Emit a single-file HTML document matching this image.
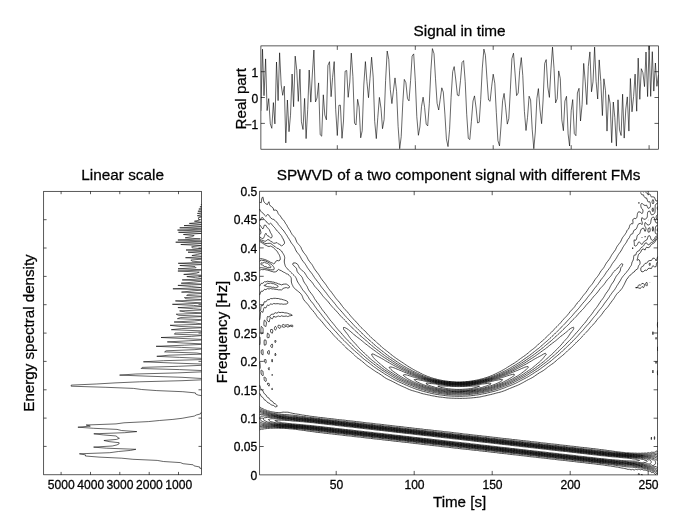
<!DOCTYPE html>
<html><head><meta charset="utf-8"><title>SPWVD of a two component signal with different FMs</title>
<style>
html,body{margin:0;padding:0;background:#fff}
body{width:685px;height:521px;position:relative;overflow:hidden;font-family:"Liberation Sans",sans-serif}
svg{display:block}
svg text{font-family:"Liberation Sans",sans-serif}
</style></head><body>
<svg width="685" height="521" viewBox="0 0 685 521" style="position:absolute;left:0;top:0">
<clipPath id="ct"><rect x="260.9" y="45.9" width="397.6" height="103.3"/></clipPath>
<polyline clip-path="url(#ct)" fill="none" stroke="#000" stroke-width="0.6" stroke-linejoin="round" points="260.9,110.8 262.5,49.2 264,95.7 265.6,58.9 267.1,110.6 268.7,98.6 270.3,123.9 271.8,128.3 273.4,102.6 274.9,123.9 276.5,62 278.1,100.6 279.6,52.8 281.2,85 282.7,95.3 284.3,86.2 285.8,142.9 287.4,100 289,131.7 290.5,115.2 292.1,74 293.6,106.7 295.2,56.1 296.8,70.5 298.3,101.4 299.9,69.2 301.4,121.8 303,129.5 304.6,98.4 306.1,138.6 307.7,109.5 309.2,70 310.8,102.1 312.4,73 313.9,50 315.5,101.9 317,98 318.6,82.9 320.2,134.8 321.7,136.2 323.3,94.8 324.8,115 326.4,119.8 327.9,65.5 329.5,61.7 331.1,96.7 332.6,77.4 334.2,61.6 335.7,109.7 337.3,135.5 338.9,105.3 340.4,105.2 342,138.3 343.5,121 345.1,71.2 346.7,70.5 348.2,97.3 349.8,82 351.3,53.1 352.9,76.5 354.5,123.1 356,125 357.6,99.3 359.1,107.1 360.7,137.8 362.2,130.7 363.8,85.1 365.4,61.6 366.9,81.4 368.5,97.7 370,78.3 371.6,57.2 373.2,77.1 374.7,121.3 376.3,138.6 377.8,117.4 379.4,97.4 381,108.3 382.5,128.7 384.1,119.6 385.6,80.5 387.2,51 388.8,59.6 390.3,89.6 391.9,103.6 393.4,91 395,77.9 396.6,91.6 398.1,126.3 399.7,148.7 401.2,136.7 402.8,102.9 404.3,79.4 405.9,82.7 407.5,98.7 409,100.9 410.6,80.5 412.1,56.1 413.7,53.9 415.3,80.6 416.8,116.7 418.4,135.3 419.9,127 421.5,106.6 423.1,97.2 424.6,107.4 426.2,124.2 427.7,125.9 429.3,103.7 430.9,70.1 432.4,48.6 434,53.7 435.5,78.8 437.1,103.3 438.7,110 440.2,99.4 441.8,87.8 443.3,92.1 444.9,114.1 446.4,138.9 448,146.6 449.6,129.3 451.1,97.3 452.7,71.6 454.2,66.6 455.8,80 457.4,95.1 458.9,95.9 460.5,80.4 462,62.6 463.6,60.6 465.2,81.4 466.7,114.2 468.3,138.4 469.8,139.6 471.4,121.3 473,101 474.5,95.9 476.1,108 477.6,123 479.2,122.3 480.7,99.7 482.3,68.1 483.9,49.1 485.4,55.2 487,79.2 488.5,100 490.1,101.3 491.7,86.2 493.2,74.2 494.8,83.3 496.3,112.3 497.9,140.5 499.5,145.9 501,126.1 502.6,100.8 504.1,93.4 505.7,107.8 507.3,124.1 508.8,118.7 510.4,89.1 511.9,58.7 513.5,53.2 515.1,74 516.6,95.6 518.2,93 519.7,70.5 521.3,57.6 522.8,75.7 524.4,111.4 526,130.5 527.5,117.6 529.1,96.2 530.6,99.9 532.2,129.2 533.8,148.7 535.3,132 536.9,98.3 538.4,88.6 540,109.9 541.6,123.7 543.1,100 544.7,63.4 546.2,59.6 547.8,87 549.4,97.4 550.9,69.9 552.5,47.1 554,68.2 555.6,102.9 557.2,98.7 558.7,70.9 560.3,78.6 561.8,119.8 563.4,130.7 564.9,101.1 566.5,96.3 568.1,133.9 569.6,146 571.2,110.7 572.7,99.6 574.3,133.5 575.9,135.7 577.4,93 579,88.3 580.5,121 582.1,104.7 583.7,63.4 585.2,81.1 586.8,104.6 588.3,66.6 589.9,51.9 591.5,91.8 593,81.9 594.6,47.1 596.1,81.3 597.7,99 599.2,59.9 600.8,81.4 602.4,115.6 603.9,78.8 605.5,90.7 607,131.1 608.6,94.7 610.2,104 611.7,142.7 613.3,102 614.8,117.5 616.4,146.1 618,99.8 619.5,129.9 621.1,135.5 622.6,94.2 624.2,138.1 625.8,109 627.3,96.9 628.9,131.1 630.4,78.5 632,111.8 633.6,96.5 635.1,74.1 636.7,111.2 638.2,58.1 639.8,99.3 641.3,68.7 642.9,72.7 644.5,86.6 646,52 647.6,96.6 649.1,45.9 650.7,96.4 652.3,51.7 653.8,91.1 655.4,63 656.9,86.3 658.5,74.8"/>
<path d="M337.3 149.2V145.2 M337.3 45.9V49.9 M415.3 149.2V145.2 M415.3 45.9V49.9 M493.2 149.2V145.2 M493.2 45.9V49.9 M571.2 149.2V145.2 M571.2 45.9V49.9 M649.1 149.2V145.2 M649.1 45.9V49.9 M260.9 123.4H264.9 M658.5 123.4H654.5 M260.9 97.5H264.9 M658.5 97.5H654.5 M260.9 71.7H264.9 M658.5 71.7H654.5" stroke="#000" stroke-width="0.65" fill="none"/>
<rect x="260.9" y="45.9" width="397.6" height="103.3" fill="none" stroke="#000" stroke-width="0.65"/>
<g fill="none" stroke="#000" stroke-linejoin="round">
<path stroke-width="0.7" d="M639.8 474.9 639.4 473.8 638.9 473.3 638.3 473.8 638.3 474.9M642.7 474.9 642 474.3 641 474.9M657.3 474.9 657.6 474.9M657.6 451.7 657.4 451.6 656 450.9 655.3 451.6 654.5 452.3 652.9 452.3 651.4 452.2 650.4 452.7 649.8 453 648.7 452.7 648.2 452.6 647.9 452.7 646.7 453.2 645.1 453 643.6 453.2 642 453.1 640.4 453.3 638.9 453.2 637.3 453.3 635.8 453.1 634.2 453.2 632.6 453 631.1 453.1 629.5 452.9 628 452.8 626.4 452.8 625.5 452.7 624.8 452.6 623.3 452.4 621.7 452.3 620.2 452.1 618.6 451.9 617 451.8 615.8 451.6 615.5 451.6 613.9 451.3 612.3 451.1 610.8 450.8 609.2 450.7 607.8 450.5 607.7 450.5 606.1 450.2 604.5 450 603 449.8 601.4 449.6 599.9 449.5 599.4 449.4 598.3 449.2 596.7 449 595.2 448.8 593.6 448.6 592.1 448.5 590.5 448.3 590 448.3 588.9 448.1 587.4 447.9 585.8 447.7 584.3 447.6 582.7 447.4 581.1 447.3 580.3 447.2 579.6 447.1 578 446.9 576.5 446.7 574.9 446.5 573.3 446.3 571.8 446.2 570.5 446.1 570.2 446 568.7 445.8 567.1 445.6 565.5 445.4 564 445.3 562.4 445.1 560.9 445 560.8 445 559.3 444.7 557.7 444.5 556.2 444.3 554.6 444.2 553.1 444 551.5 443.9 551.1 443.9 549.9 443.7 548.4 443.5 546.8 443.3 545.3 443.1 543.7 443 542.1 442.8 541.4 442.8 540.6 442.6 539 442.4 537.4 442.2 535.9 442 534.3 441.9 532.8 441.7 531.7 441.7 531.2 441.6 529.6 441.3 528.1 441.1 526.5 441 525 440.8 523.4 440.7 522 440.5 521.8 440.5 520.3 440.3 518.7 440.1 517.2 439.9 515.6 439.7 514 439.6 512.5 439.5 512.3 439.4 510.9 439.2 509.4 439 507.8 438.8 506.2 438.7 504.7 438.5 503.1 438.4 502.5 438.3 501.6 438.2 500 438 498.4 437.8 496.9 437.6 495.3 437.4 493.8 437.3 492.9 437.2 492.2 437.1 490.6 436.9 489.1 436.7 487.5 436.5 486 436.3 484.4 436.2 483.2 436.1 482.8 436.1 481.3 435.8 479.7 435.6 478.2 435.5 476.6 435.3 475 435.2 473.5 435 473 435 471.9 434.8 470.4 434.6 468.8 434.4 467.2 434.2 465.7 434.1 464.1 434 463.5 433.9 462.6 433.7 461 433.5 459.4 433.3 457.9 433.1 456.3 433 454.7 432.8 454.2 432.8 453.2 432.6 451.6 432.4 450.1 432.2 448.5 432 446.9 431.9 445.4 431.7 444.6 431.7 443.8 431.6 442.3 431.3 440.7 431.1 439.1 431 437.6 430.8 436 430.7 434.7 430.6 434.5 430.5 432.9 430.3 431.3 430.1 429.8 429.9 428.2 429.8 426.7 429.6 425.1 429.5 424.8 429.5 423.5 429.3 422 429 420.4 428.9 418.9 428.7 417.3 428.5 415.7 428.4 415.1 428.4 414.2 428.2 412.6 428 411.1 427.8 409.5 427.6 407.9 427.5 406.4 427.3 405.4 427.2 404.8 427.2 403.3 426.9 401.7 426.7 400.1 426.5 398.6 426.4 397 426.3 395.7 426.1 395.5 426.1 393.9 425.9 392.3 425.7 390.8 425.5 389.2 425.3 387.7 425.2 386.1 425 386 425 384.5 424.8 383 424.6 381.4 424.4 379.9 424.2 378.3 424.1 376.7 424 376.3 423.9 375.2 423.8 373.6 423.5 372 423.3 370.5 423.2 368.9 423 367.4 422.9 366.6 422.8 365.8 422.7 364.2 422.5 362.7 422.3 361.1 422.1 359.6 421.9 358 421.8 356.8 421.7 356.4 421.6 354.9 421.4 353.3 421.2 351.8 421 350.2 420.9 348.6 420.7 347.1 420.6 347.1 420.6 345.5 420.3 344 420.1 342.4 420 340.8 419.8 339.3 419.7 337.7 419.5 337.4 419.5 336.2 419.3 334.6 419.1 333 418.9 331.5 418.7 329.9 418.6 328.4 418.4 327.7 418.4 326.8 418.2 325.2 418 323.7 417.8 322.1 417.6 320.6 417.5 319 417.3 318.3 417.3 317.4 417.1 315.9 416.9 314.3 416.7 312.8 416.5 311.2 416.3 309.9 416.2 309.6 416.1 308.1 415.8 306.5 415.6 305 415.4 303.4 415.1 302.7 415.1 301.8 414.9 300.3 414.6 298.7 414.3 297.1 414.1 296.1 413.9 295.6 413.9 294 413.6 292.5 413.3 290.9 412.9 290.5 412.8 289.3 412.5 287.8 412.2 286.2 412.2 284.7 412.2 283.1 412.1 281.5 412.4 280 412.8 278.4 412.6 276.9 412.5 275.3 412.4 273.7 412.1 272.2 411.9 271.1 411.7 270.6 411.6 269.1 411.1 267.5 410.8 267.1 410.6 265.9 410 264.4 409.7 264.1 409.5 262.8 408.6 262.1 408.4 261.3 408.1 260.3 407.3 259.7 406.8M651.3 439.4 651.4 439.6 651.4 439.4 651.5 438.3 651.4 437.2 651.2 438.3 651.3 439.4ZM654.4 439.4 654.5 439.5 654.5 439.4 654.7 438.3 654.7 437.2 654.5 436.6 654.3 437.2 654.3 438.3 654.4 439.4ZM259.7 429.9 260.6 429.5 261.3 429.2 262.8 429.2 264.4 428.8 265.9 428.7 267.5 428.4 269.1 428.5 269.6 428.4 270.6 428.2 272.2 428.3 273.7 428.2 275.3 428.2 276.9 428.2 278.4 428.2 280 428.3 281.5 428.3 283.1 428.3 283.7 428.4 284.7 428.4 286.2 428.5 287.8 428.6 289.3 428.8 290.9 428.9 292.5 429 294 429.2 295.6 429.3 297 429.5 297.1 429.5 298.7 429.8 300.3 430 301.8 430.2 303.4 430.4 305 430.6 305.1 430.6 306.5 430.9 308.1 431.1 309.6 431.3 311.2 431.5 312.8 431.7 312.9 431.7 314.3 431.9 315.9 432.2 317.4 432.4 319 432.5 320.6 432.7 321.9 432.8 322.1 432.8 323.7 433.1 325.2 433.3 326.8 433.4 328.4 433.6 329.9 433.8 331.5 433.9 331.6 433.9 333 434.1 334.6 434.3 336.2 434.5 337.7 434.7 339.3 434.8 340.8 435 341.3 435 342.4 435.2 344 435.4 345.5 435.6 347.1 435.8 348.6 435.9 350.2 436 351 436.1 351.8 436.2 353.3 436.5 354.9 436.7 356.4 436.8 358 437 359.6 437.1 360.7 437.2 361.1 437.3 362.7 437.5 364.2 437.7 365.8 437.9 367.4 438.1 368.9 438.2 370.5 438.3 370.5 438.3 372 438.6 373.6 438.8 375.2 439 376.7 439.1 378.3 439.3 379.9 439.4 380.2 439.4 381.4 439.6 383 439.9 384.5 440 386.1 440.2 387.7 440.4 389.2 440.5 389.9 440.5 390.8 440.7 392.3 440.9 393.9 441.1 395.5 441.3 397 441.4 398.6 441.6 399.6 441.7 400.1 441.7 401.7 442 403.3 442.2 404.8 442.3 406.4 442.5 407.9 442.6 409.3 442.8 409.5 442.8 411.1 443 412.6 443.2 414.2 443.4 415.7 443.6 417.3 443.7 418.9 443.9 419 443.9 420.4 444.1 422 444.3 423.5 444.5 425.1 444.7 426.7 444.8 428.2 444.9 428.6 445 429.8 445.2 431.3 445.4 432.9 445.6 434.5 445.7 436 445.9 437.6 446 438.2 446.1 439.1 446.2 440.7 446.5 442.3 446.7 443.8 446.8 445.4 447 446.9 447.1 447.9 447.2 448.5 447.3 450.1 447.5 451.6 447.7 453.2 447.9 454.7 448.1 456.3 448.2 457.4 448.3 457.9 448.4 459.4 448.6 461 448.8 462.6 449 464.1 449.1 465.7 449.3 467.2 449.4 467.3 449.4 468.8 449.6 470.4 449.8 471.9 450 473.5 450.2 475 450.3 476.6 450.4 477.5 450.5 478.2 450.6 479.7 450.9 481.3 451 482.8 451.2 484.4 451.4 486 451.5 487.1 451.6 487.5 451.7 489.1 451.9 490.6 452.1 492.2 452.3 493.8 452.5 495.3 452.6 496.7 452.7 496.9 452.8 498.4 453 500 453.2 501.6 453.4 503.1 453.5 504.7 453.7 506.2 453.8 506.5 453.8 507.8 454.1 509.4 454.3 510.9 454.5 512.5 454.6 514 454.8 515.6 454.9 516.2 455 517.2 455.1 518.7 455.3 520.3 455.5 521.8 455.7 523.4 455.8 525 456 525.9 456.1 526.5 456.2 528.1 456.4 529.6 456.6 531.2 456.8 532.8 456.9 534.3 457.1 535.6 457.2 535.9 457.2 537.4 457.5 539 457.7 540.6 457.8 542.1 458 543.7 458.1 545.3 458.3 545.3 458.3 546.8 458.5 548.4 458.7 549.9 458.9 551.5 459.1 553.1 459.2 554.6 459.3 555 459.4 556.2 459.6 557.7 459.8 559.3 460 560.9 460.1 562.4 460.3 564 460.4 564.7 460.5 565.5 460.6 567.1 460.8 568.7 461 570.2 461.2 571.8 461.4 573.3 461.5 574.4 461.6 574.9 461.7 576.5 461.9 578 462.1 579.6 462.3 581.1 462.4 582.7 462.6 584.2 462.7 584.3 462.7 585.8 463 587.4 463.2 588.9 463.4 590.5 463.5 592.1 463.7 593.6 463.8 593.8 463.8 595.2 464 596.7 464.3 598.3 464.5 599.9 464.6 601.4 464.8 602.9 464.9 603 464.9 604.5 465.2 606.1 465.5 607.7 465.7 609.2 465.9 610.7 466 610.8 466 612.3 466.4 613.9 466.6 615.5 466.9 617 467.1 617.5 467.1 618.6 467.4 620.2 467.7 621.7 468 623.3 468.2 623.5 468.3 624.8 468.5 626.4 468.9 627.9 469.4 628 469.4 628.3 469.4 629.5 469.3 629.9 469.4 631.1 469.9 632.5 469.4 632.6 469.3 632.7 469.4 634.2 470.1 635.2 469.4 635.8 469.2 636.4 469.4 637.3 469.8 637.9 469.4 638.9 469.1 639.6 469.4 640.4 469.8 641.7 469.4 642 469.3 642.1 469.4 643.6 470.1 645.1 470 646.6 470.5 646.7 470.5 648.2 471 649.8 471 650.4 471.6 651.4 472.5 652.9 472.3 653.7 472.7 654.5 473.3 654.9 473.8 655.8 474.9M259.7 393.4 260.1 394 260.6 395.1 261.1 396.2 261.3 396.5 262.6 397.3 262.8 397.4 263.5 398.4 264.2 399.5 264.4 399.9 265.9 400.5 266.1 400.7 267 401.8 267.5 402.5 268.5 402.9 269.1 403 270.2 404 270.6 404.4 271.9 405.1 272.2 405.2 273.7 405.5 274.4 406.2 275.3 406.9 276.9 406.5 277.3 406.2 276.9 405.5 276.7 405.1 275.5 404 275.3 403.9 273.7 403.2 273.6 402.9 272.8 401.8 272.2 401.1 270.9 400.7 270.6 400.5 269.9 399.5 269.2 398.4 269.1 398.2 267.5 397.4 267.4 397.3 266.6 396.2 266.1 395.1 265.9 394.9 264.7 394 264.4 393.8 263.8 392.9 263.3 391.8 262.8 390.7 262.8 390.7 261.4 389.6 261.3 389.5 260.7 388.5 260.3 387.4 260 386.2 259.7 385.3M271.9 389.6 272.2 389.9 272.4 389.6 272.3 388.5 272.2 388.2 271.8 388.5 271.9 389.6ZM269.1 386.2 269.1 386.2 269.1 386.2 269.4 385.1 269.2 384 269.1 383.4 267.5 383.2 267.4 384 267.5 384.6 267.9 385.1 269.1 386.2ZM264.7 380.7 265.9 381.5 266.3 380.7 266.2 379.6 266.1 378.5 265.9 378 265 377.4 264.4 377 264.1 377.4 264.1 378.5 264.2 379.6 264.4 380.5 264.7 380.7ZM262.1 375.2 262.8 375.9 263.2 375.2 263.2 374.1 263.1 372.9 263 371.8 262.8 371 262.3 370.7 261.3 370.1 261 370.7 261 371.8 261.1 372.9 261.2 374.1 261.3 374.2 262.1 375.2ZM272 375.2 272.2 375.6 272.3 375.2 272.2 374.3 272 375.2ZM652.9 372.9 652.9 373 652.9 372.9 653 371.8 653 370.7 652.9 370.1 652.8 370.7 652.8 371.8 652.9 372.9ZM268.7 369.6 269.1 370.1 269.2 369.6 269.2 368.5 269.1 367.4 268.3 368.5 268.7 369.6ZM657.6 370.4 657.5 370.7 657.4 371.8 657.4 372.9 657.5 374.1 657.6 375.2 657.6 375.2M259.7 368.9 260.1 368.5 260.2 367.4 260.2 366.3 260.1 365.2 260 364.1 259.9 363 259.7 361.9M265.6 363 265.9 363.2 266 363 266.1 361.9 266.1 360.8 265.9 359.6 265.9 359.6 265 359.6 264.4 359.7 264.3 360.8 264.4 361.9 264.4 361.9 265.6 363ZM656 363 656 363.5 656.1 363 656.1 361.9 656 361.4 656 361.9 656 363ZM272 361.9 272.2 362.1 272.3 361.9 272.5 360.8 272.4 359.6 272.2 359.2 271.8 359.6 271.7 360.8 272 361.9ZM275 355.2 275.3 355.9 275.8 355.2 275.9 354.1 275.3 353.2 275 354.1 275 355.2ZM261.8 354.1 262.8 355.1 263 354.1 263.1 353 263.1 351.9 263 350.8 262.9 349.7 262.8 349.6 262.4 349.7 261.3 350.3 261.2 350.8 261.2 351.9 261.2 353 261.3 353.3 261.8 354.1ZM268.4 354.1 269.1 354.4 269.2 354.1 269.3 353 269.4 351.9 269.2 350.8 269.1 350.4 268.3 350.8 267.5 351.7 267.5 351.9 267.5 353 267.5 353.1 268.4 354.1ZM271.6 347.5 272.2 347.7 272.3 347.5 272.6 346.3 272.6 345.2 272.3 344.1 272.2 344 271.8 344.1 270.8 345.2 270.7 346.3 271.6 347.5ZM657.6 346.8 657.5 347.5 657.5 348.6 657.5 349.7 657.6 350.8M259.7 345 259.9 344.1 260.1 343 260.1 341.9 260.1 340.8 260.1 339.7 260.1 338.6 260 337.5 259.7 336.7M264.2 344.1 264.4 345.2 265.9 344.8 266.1 344.1 266.2 343 266.2 341.9 266.1 340.8 265.9 340.1 264.4 339.9 264.2 340.8 264.1 341.9 264.1 343 264.2 344.1ZM274.9 341.9 275.3 342.6 275.9 341.9 275.9 340.8 275.3 340.1 274.9 340.8 274.9 341.9ZM656 338.6 656 339.3 656.1 338.6 656.1 337.5 656 337.3 656 337.5 656 338.6ZM267.3 337.5 267.5 337.8 269.1 337.5 269.1 337.5 269.2 336.4 269.3 335.3 269.1 334.3 268.9 334.2 267.5 333.1 267.3 334.2 267.2 335.3 267.1 336.4 267.3 337.5ZM652.8 334.2 652.9 334.7 653 334.2 653 333 653 331.9 652.9 331.7 652.9 331.9 652.8 333 652.8 334.2ZM261 333 261.3 333.9 262.8 333.4 262.9 333 263 331.9 263.1 330.8 263.1 329.7 263 328.6 262.8 327.8 262.5 327.5 261.3 326.4 261.1 327.5 261 328.6 260.9 329.7 260.9 330.8 260.9 331.9 261 333ZM271.6 333 272.2 333.4 272.4 333 272.7 331.9 272.8 330.8 272.5 329.7 272.2 329.4 270.6 329.6 270.6 329.7 270.5 330.8 270.6 331.9 270.6 332 271.6 333ZM274.8 329.7 275.3 330.2 275.9 329.7 276.5 328.6 276.3 327.5 275.5 326.4 275.3 326.3 275.2 326.4 274.5 327.5 274.4 328.6 274.8 329.7ZM278.2 327.5 278.4 327.6 280 328.4 280.7 327.5 281 326.4 280 325.5 279.3 325.3 278.4 325.1 278.3 325.3 277.9 326.4 278.2 327.5ZM265.7 326.4 265.9 326.5 266 326.4 266.1 325.3 266.3 324.2 266.4 323.1 266.3 322 265.9 321.4 265.3 320.9 264.4 320.1 264.2 320.9 264 322 263.9 323.1 263.9 324.2 264 325.3 264.4 326 265.7 326.4ZM282 326.4 283.1 327.2 284.7 327.1 285.8 326.4 286.2 325.9 286.5 326.4 287.8 327.1 289.3 326.5 290.3 326.4 289.3 325.9 289.2 325.3 287.8 324.6 286.2 325 284.7 325.2 283.1 324.4 282 325.3 282 326.4ZM291.2 326.4 292.5 326.7 293 326.4 292.7 325.3 292.5 325.2 290.9 325.2 290.3 325.3 290.9 325.8 291.2 326.4ZM269 322 269.1 322 269.1 322 269.4 320.9 269.7 319.8 270 318.6 270.5 317.5 270.6 317.4 270.7 317.5 271.6 318.6 272.2 319 272.5 318.6 273.2 317.5 273.6 316.4 273.7 316 273.9 316.4 275.3 317.1 276.9 316.7 277.4 316.4 278.4 316 279.4 316.4 280 316.6 280.5 316.4 281.5 315.8 283.1 316.3 284.7 316.3 286.2 316 287.4 316.4 287.8 316.6 288.4 316.4 289.3 315.9 290.9 315.7 292.3 315.3 290.9 314.4 290.5 314.2 289.3 314 287.8 313.3 287.2 313.1 286.2 312.9 284.7 312.9 283.1 312.4 281.5 312.4 280 312.6 278.4 312.1 277 313.1 276.9 313.3 276.6 313.1 275.3 312.7 274.5 313.1 273.8 314.2 273.7 314.3 273.5 314.2 272.2 314.2 271.9 314.2 270.6 314.9 270.4 315.3 270 316.4 269.1 317 267.5 316.5 267.2 317.5 267.1 318.6 267 319.8 267.5 320.8 267.6 320.9 269 322ZM657.6 322.3 657.5 323.1 657.4 324.2 657.4 325.3 657.5 326.4 657.6 327.4M259.7 319.8 259.7 319.8 259.9 318.6 260.1 317.5 260.2 316.4 260.3 315.3 260.4 314.2 260.5 313.1 260.7 312 261.3 311.3 262.2 312 262.8 312.4 262.9 312 263.2 310.9 263.4 309.8 263.7 308.7 264.2 307.6 264.4 307.3 264.9 307.6 265.9 308 266.1 307.6 266.6 306.5 267.2 305.3 267.5 305 268.3 305.3 269.1 305.6 269.3 305.3 270.2 304.2 270.6 303.8 271.6 304.2 272.2 304.4 272.5 304.2 273.7 303.5 275.3 303.8 276.9 303.7 278.4 303.7 280 304.1 281.5 303.9 282.8 304.2 283.1 304.3 283.9 304.2 284.7 304.1 286.2 304.1 287.8 303.2 287.8 303.1 287.8 302.5 287.8 302 286.8 300.9 286.2 300.7 284.7 300.2 283.4 299.8 283.1 299.8 281.5 299.2 280 299.1 279 298.7 278.4 298.5 276.9 298.5 275.3 298.3 273.7 298.3 272.2 298.7 270.6 298.5 270.4 298.7 269.1 299.7 267.5 299.6 267.3 299.8 266.7 300.9 265.9 301.9 264.4 301.7 264.2 302 263.9 303.1 263.5 304.2 263 305.3 262.8 305.6 261.3 305.6 261.1 306.5 260.9 307.6 260.8 308.7 260.6 309.8 260.2 310.9 259.7 311M259.7 294.9 259.9 294.3 260.3 293.2 260.8 292 261.3 291.1 262.8 291.3 263.1 290.9 263.9 289.8 264.4 289.4 265.9 289.6 267.3 288.7 267.5 288.6 267.9 288.7 269.1 289 269.9 288.7 270.6 288.5 271.2 288.7 272.2 289 273.7 288.9 275.3 289.4 276.9 289.4 278.3 289.8 278.4 289.9 280 289.8 281.5 289.9 281.7 289.8 283 288.7 283.1 288.4 284.7 287.9 285.9 287.6 286.2 287.5 286.4 287.6 287.8 288.1 289.3 287.6 289.3 287.2 289.5 286.5 289.3 286.4 288.5 285.4 287.8 285 286.7 284.3 286.2 284 284.7 284.1 283.1 284.2 283.1 284.3 281.5 284.9 280.1 284.3 280 284.2 278.4 283.9 277 283.2 276.9 283.1 275.3 282.8 273.7 282.1 273 282.1 272.2 282 270.6 281.5 269.1 281.6 267.5 281.2 265.9 281.9 264.4 281.7 264 282.1 262.9 283.2 262.8 283.3 261.3 283.3 260.7 284.3 260.1 285.4 259.7 286.1M635.7 287.6 635.8 288 637.2 287.6 635.8 287.4 635.7 287.6ZM637.3 287.6 638.9 288 640.4 288.5 641 287.6 642 286.5 642 286.5 642 286.5 643.5 287.6 643.6 287.7 643.6 287.6 644.2 286.5 644.4 285.4 644.4 284.3 643.6 283.7 642 283.4 641.4 284.3 640.4 285.2 638.9 284.8 638.4 285.4 637.9 286.5 637.3 287.6ZM646 285.4 646.7 286.1 647.2 285.4 647.3 284.3 647.2 283.2 646.7 282.2 645.7 283.2 645.7 284.3 646 285.4ZM649.8 282.1 649.8 282.2 649.8 282.1 649.8 282 649.8 282.1ZM259.7 270.5 260.5 269.9 261.3 269.5 262.8 269.7 264.4 269.5 265.9 269.8 266.2 269.9 267.5 270.1 269.1 270.5 270.4 271 270.6 271.1 272.2 271.5 273.7 272 275.3 271.9 276.9 271.2 277 271 277.8 269.9 278.4 269.4 279.4 269.9 280 270.2 281.5 270.8 281.8 271 283.1 271.9 283.5 272.1 284.7 272.6 285.6 273.2 286.2 273.7 287.8 274.1 288 274.3 289.2 275.4 289.3 275.5 290.3 276.5 290.9 277.4 291 277.6 291.3 278.7 291.3 279.9 291.3 281 291.4 282.1 291.7 283.2 292 284.3 292.5 285.2 292.6 285.4 293.1 286.5 293.9 287.6 294 287.8 294.8 288.7 295.6 289.3 296.1 289.8 297.1 290.6 297.6 290.9 298.7 291.8 299 292 300.2 293.2 300.3 293.2 301.2 294.3 301.8 295.2 301.9 295.4 302.4 296.5 302.8 297.6 303.2 298.7 303.4 299 303.8 299.8 304.7 300.9 305 301.2 305.7 302 306.5 302.9 306.7 303.1 307.7 304.2 308.1 304.7 308.6 305.3 309.4 306.5 309.6 306.8 310.2 307.6 311.1 308.7 311.2 308.8 312 309.8 312.8 310.6 313 310.9 313.9 312 314.3 312.4 314.8 313.1 315.6 314.2 315.9 314.6 316.3 315.3 317.1 316.4 317.4 316.8 318 317.5 319 318.6 319 318.6 320.1 319.8 320.6 320.2 321.1 320.9 322.1 321.9 322.2 322 323 323.1 323.7 323.9 323.9 324.2 324.8 325.3 325.2 325.9 325.6 326.4 326.6 327.5 326.8 327.7 327.6 328.6 328.4 329.3 328.8 329.7 329.9 330.8 329.9 330.9 330.9 331.9 331.5 332.6 331.9 333 332.9 334.2 333 334.4 333.8 335.3 334.6 336.1 334.8 336.4 335.9 337.5 336.2 337.7 336.9 338.6 337.7 339.3 338.1 339.7 339.2 340.8 339.3 340.8 340.4 341.9 340.8 342.3 341.5 343 342.4 343.8 342.7 344.1 343.7 345.2 344 345.5 344.7 346.3 345.5 347.1 345.8 347.5 347 348.6 347.1 348.6 348.3 349.7 348.6 350 349.7 350.8 350.2 351.2 351 351.9 351.8 352.5 352.3 353 353.3 354 353.4 354.1 354.5 355.2 354.9 355.6 355.6 356.3 356.4 357.1 356.8 357.4 358 358.4 358.3 358.5 359.6 359.4 359.9 359.6 361.1 360.5 361.4 360.8 362.7 361.8 362.8 361.9 364.1 363 364.2 363.1 365.3 364.1 365.8 364.5 366.6 365.2 367.4 365.8 368.1 366.3 368.9 366.9 369.7 367.4 370.5 367.9 371.3 368.5 372 369 372.9 369.6 373.6 370.1 374.5 370.7 375.2 371.2 376.2 371.8 376.7 372.2 378.1 372.9 378.3 373.1 379.9 374 379.9 374.1 381.4 375.1 381.5 375.2 383 376.2 383 376.3 384.5 377.4 384.6 377.4 386.1 378.4 386.3 378.5 387.7 379.2 388.5 379.6 389.2 379.9 390.8 380.6 391 380.7 392.3 381.4 393.2 381.8 393.9 382.2 395.3 382.9 395.5 383 397 383.9 397.4 384 398.6 384.7 399.7 385.1 400.1 385.4 401.7 386.1 402.1 386.2 403.3 386.8 404.6 387.4 404.8 387.4 406.4 388.2 407 388.5 407.9 388.9 409.5 389.6 409.5 389.6 411.1 390.2 412.6 390.7 412.7 390.7 414.2 391.1 415.7 391.6 416.5 391.8 417.3 392 418.9 392.5 420.2 392.9 420.4 393 422 393.5 423.5 393.9 424.3 394 425.1 394.2 426.7 394.6 428.2 394.9 429.5 395.1 429.8 395.2 431.3 395.6 432.9 395.9 434.5 396.1 434.9 396.2 436 396.5 437.6 396.7 439.1 397 440.7 397.1 442.3 397.3 442.6 397.3 443.8 397.5 445.4 397.7 446.9 397.9 448.5 398 450.1 398.1 451.6 398.2 453.2 398.2 454.7 398.3 456.3 398.3 457.9 398.3 459.4 398.4 461 398.4 462.6 398.3 464.1 398.3 465.7 398.3 467.2 398.2 468.8 398.1 470.4 398 471.9 397.9 473.5 397.7 475 397.6 476.6 397.4 477 397.3 478.2 397.2 479.7 397 481.3 396.7 482.8 396.3 483.3 396.2 484.4 396 486 395.7 487.5 395.3 488.2 395.1 489.1 394.9 490.6 394.6 492.2 394.2 492.7 394 493.8 393.8 495.3 393.4 496.9 392.9 497 392.9 498.4 392.6 500 392.2 501.3 391.8 501.6 391.7 503.1 391.2 504.5 390.7 504.7 390.6 506.2 390 507.1 389.6 507.8 389.3 509.4 388.6 509.6 388.5 510.9 388 512.5 387.4 512.5 387.3 514 386.8 515.3 386.2 515.6 386.1 517.2 385.5 517.9 385.1 518.7 384.8 520.2 384 520.3 384 521.8 383.2 522.4 382.9 523.4 382.4 524.3 381.8 525 381.5 526.3 380.7 526.5 380.6 528.1 379.7 528.4 379.6 529.6 379 530.6 378.5 531.2 378.2 532.7 377.4 532.8 377.3 534.3 376.3 534.4 376.3 535.9 375.2 536 375.2 537.4 374.1 537.5 374.1 539 373.1 539.2 372.9 540.6 372.2 541.2 371.8 542.1 371.3 543 370.7 543.7 370.3 544.6 369.6 545.3 369.1 546 368.5 546.8 367.9 547.4 367.4 548.4 366.6 548.8 366.3 549.9 365.5 550.4 365.2 551.5 364.4 552 364.1 553.1 363.3 553.5 363 554.6 362.1 554.9 361.9 556.1 360.8 556.2 360.7 557.4 359.6 557.7 359.4 558.7 358.5 559.3 358.1 560.1 357.4 560.9 356.8 561.5 356.3 562.4 355.6 562.9 355.2 564 354.2 564.1 354.1 565.3 353 565.5 352.8 566.5 351.9 567.1 351.3 567.6 350.8 568.7 349.8 568.8 349.7 570.1 348.6 570.2 348.5 571.4 347.5 571.8 347.1 572.6 346.3 573.3 345.6 573.7 345.2 574.7 344.1 574.9 343.9 575.8 343 576.5 342.3 576.9 341.9 578 340.9 578.1 340.8 579.3 339.7 579.6 339.4 580.4 338.6 581.1 337.8 581.4 337.5 582.3 336.4 582.7 335.9 583.3 335.3 584.3 334.2 584.3 334.2 585.5 333 585.8 332.7 586.7 331.9 587.4 331.2 587.7 330.8 588.6 329.7 588.9 329.3 589.5 328.6 590.4 327.5 590.5 327.4 591.4 326.4 592.1 325.7 592.5 325.3 593.5 324.2 593.6 324.1 594.5 323.1 595.2 322.2 595.4 322 596.3 320.9 596.7 320.2 597.1 319.8 598 318.6 598.3 318.3 599.1 317.5 599.9 316.6 600.1 316.4 601 315.3 601.4 314.8 601.9 314.2 602.7 313.1 603 312.6 603.4 312 604.2 310.9 604.5 310.5 605.2 309.8 606.1 308.7 606.2 308.7 607.2 307.6 607.7 307 608.1 306.5 608.9 305.3 609.2 304.9 609.7 304.2 610.5 303.1 610.8 302.7 611.3 302 612.1 300.9 612.3 300.6 613 299.8 613.8 298.7 613.9 298.5 614.5 297.6 615.1 296.5 615.5 295.9 615.8 295.4 616.6 294.3 617 293.8 617.6 293.2 618.6 292.2 618.7 292 619.9 290.9 620.2 290.6 621 289.8 621.7 288.8 621.8 288.7 622.5 287.6 623.1 286.5 623.3 286.1 623.7 285.4 624.3 284.3 624.8 283.2 624.8 283.2 625.3 282.1 625.9 281 626.4 279.9 626.4 279.9 627 278.7 628 278 628.2 277.6 628.8 276.5 629.5 275.6 629.8 275.4 631.1 274.7 631.4 274.3 632.2 273.2 632.6 272.8 633.9 272.1 634.2 272 634.9 271 635.7 269.9 635.8 269.8 637.3 269.2 637.6 268.8 638 267.7 638.3 266.6 638.8 265.4 638.9 265.3 639.8 264.3 640.1 263.2 640 262.1 639.8 261 639.2 259.9 638.9 259.6 637.7 259.9 637.3 260.4 637.1 259.9 637.3 259 637.4 258.8 637.7 257.7 637.9 256.6 638.2 255.5 638.6 254.4 638.9 253.9 639.8 253.3 640.4 252.6 640.7 252.2 641.2 251 641.7 249.9 642 249.4 643.6 249.1 645 249.9 645.1 250.1 645.2 249.9 645.5 248.8 646 247.7 646.7 247.3 648.2 247.7 649.8 247 650 246.6 650.6 245.5 651.4 244.4 651.4 244.4 652.9 243.5 653.4 243.3 654.5 242.6 654.8 242.2 655.4 241.1 656 240 656 240 657.4 238.9 657.6 238.7M657.6 256.7 657.3 257.7 657 258.8 656.7 259.9 656 260.9 655.8 259.9 655 258.8 654.5 258.4 652.9 258.1 652.5 258.8 651.8 259.9 651.4 260.5 649.8 260.5 648.4 261 648.2 261.1 647.6 262.1 646.7 263.2 646.3 263.2 645.1 263.4 644.3 264.3 643.7 265.4 643.6 265.8 642.1 266.6 642 266.6 640.9 267.7 640.8 268.8 640.8 269.9 641 271 642 271.9 643.6 271.5 644 271 645.1 270.1 646.7 270.4 647.2 269.9 648.1 268.8 648.2 268.5 649.8 268.3 651.4 268.5 651.8 267.7 652.3 266.6 652.9 265.6 654.1 266.6 654.5 266.8 656 266.7 656.1 266.6 656.3 265.4 656.4 264.3 656.7 263.2 657.2 262.1 657.6 261.8M259.7 241.3 260.8 242.2 261.3 242.5 262.8 243.3 262.8 243.3 264.2 244.4 264.4 244.5 265.9 245.3 266.4 245.5 267.5 246.1 269.1 246.5 270.6 246 271.6 246.6 272.2 246.9 273.5 247.7 273.7 247.9 274.7 248.8 275.3 249.5 275.7 249.9 276.8 251 276.9 251.1 277.7 252.2 278.2 253.3 278.4 253.6 279 254.4 279.5 255.5 279.9 256.6 280 256.8 280.2 257.7 280.3 258.8 280.1 259.9 280 260.1 278.4 260.8 276.9 260.4 276.2 261 275.4 262.1 275.3 262.2 274.8 263.2 273.7 263.9 272.7 263.2 272.2 263 270.6 262.4 270.2 262.1 269.1 261.4 268.2 261 267.5 260.7 265.9 259.9 265.9 259.9 264.4 259.4 262.8 259 262.2 258.8 261.3 258.6 260.2 258.8 259.7 258.9M652.9 211.7 652.5 211.1 652.1 210 652.1 208.9 652.9 207.8 652.9 207.8 652.9 207.8 653.3 208.9 653.4 210 653.2 211.1 652.9 211.7ZM638.8 203.4 638.9 203.5 639 203.4 638.9 202.3 638.9 202.3 638.9 202.3 638.8 203.4ZM657.6 200.8 656 201 655.5 200.1 655.1 199 654.7 197.8 654.5 197.3 652.9 196.8 651.4 197 651.2 196.7 650.7 195.6 650.1 194.5 649.8 194 648.2 194.4 647 193.4 646.7 192.9 645.5 192.3M640.7 192.3 641 193.4 641.6 194.5 642 194.8 643.6 194.9 643.7 195.6 644.2 196.7 645.1 197.8 645.1 197.9 646.7 198.1 646.9 199 647.3 200.1 647.7 201.2 648.2 201.9 649.8 201.8 650 202.3 650.3 203.4 650.4 204.5 650.5 205.6 650.4 206.7 649.8 207.6 649.4 207.8 648.2 208.4 647.8 207.8 647.3 206.7 646.8 205.6 646.7 205.2 645.1 205.5 643.6 204.9 643.3 204.5 642.2 203.4 642 203.3 641.7 203.4 640.9 204.5 640.8 205.6 640.9 206.7 641.2 207.8 642 208.6 642.3 208.9 642.9 210 643 211.1 642.8 212.3 642.3 213.4 642 213.6 641.5 213.4 640.5 212.3 640.4 212.1 638.9 211.8 638 212.3 637.5 213.4 637.3 214.5 637.3 214.7 637.2 215.6 637 216.7 636.6 217.8 635.8 218.7 634.2 218.4 633.4 218.9 632.7 220 632.9 221.1 633 222.2 632.9 223.3 632.6 223.9 631.1 223.7 630.4 224.4 629.7 225.6 629.5 226.1 629.4 226.7 629.1 227.8 628.5 228.9 628 229.3 627.3 230 626.8 231.1 626.4 232.2 626.4 232.3 625.7 233.3 625 234.4 624.8 234.7 624.2 235.5 623.3 236.6 623.3 236.7 622.5 237.7 621.9 238.9 621.7 239.3 621.4 240 620.9 241.1 620.3 242.2 620.2 242.3 619.4 243.3 618.6 244.3 618.6 244.4 617.7 245.5 617 246.6 617 246.6 616.4 247.7 615.9 248.8 615.5 249.7 615.3 249.9 614.6 251 613.9 251.9 613.7 252.2 612.9 253.3 612.3 254 612.1 254.4 611.4 255.5 610.8 256.6 610.8 256.7 610.2 257.7 609.6 258.8 609.2 259.3 608.8 259.9 607.9 261 607.7 261.3 607 262.1 606.3 263.2 606.1 263.5 605.6 264.3 605 265.4 604.5 266.3 604.4 266.6 603.7 267.7 603 268.6 602.8 268.8 601.9 269.9 601.4 270.5 601 271 600.3 272.1 599.9 272.9 599.7 273.2 599 274.3 598.3 275.4 598.3 275.5 597.5 276.5 596.7 277.5 596.6 277.6 595.7 278.7 595.2 279.4 594.9 279.9 594.1 281 593.6 281.9 593.5 282.1 592.8 283.2 592.1 284.2 592 284.3 591 285.4 590.5 286.1 590.1 286.5 589.2 287.6 588.9 288 588.4 288.7 587.7 289.8 587.4 290.4 587 290.9 586.2 292 585.8 292.5 585.3 293.2 584.3 294.3 584.3 294.3 583.4 295.4 582.7 296.3 582.5 296.5 581.8 297.6 581.1 298.5 581 298.7 580.2 299.8 579.6 300.5 579.3 300.9 578.3 302 578 302.3 577.2 303.1 576.5 304.1 576.4 304.2 575.5 305.3 574.9 306.3 574.8 306.5 573.9 307.6 573.3 308.2 572.9 308.7 571.9 309.8 571.8 309.9 570.8 310.9 570.2 311.6 569.9 312 569 313.1 568.7 313.6 568.2 314.2 567.3 315.3 567.1 315.5 566.3 316.4 565.5 317.2 565.2 317.5 564.1 318.6 564 318.8 563.1 319.8 562.4 320.5 562.1 320.9 561.2 322 560.9 322.4 560.3 323.1 559.3 324.2 559.3 324.2 558.1 325.3 557.7 325.7 557 326.4 556.2 327.2 555.9 327.5 554.8 328.6 554.6 328.9 553.9 329.7 553.1 330.7 552.9 330.8 551.8 331.9 551.5 332.2 550.6 333 549.9 333.6 549.3 334.2 548.4 335.1 548.2 335.3 547.1 336.4 546.8 336.6 546 337.5 545.3 338.3 544.9 338.6 543.8 339.7 543.7 339.8 542.5 340.8 542.1 341.1 541.1 341.9 540.6 342.4 539.8 343 539 343.8 538.6 344.1 537.5 345.2 537.4 345.3 536.3 346.3 535.9 346.7 535 347.5 534.3 348 533.6 348.6 532.8 349.2 532.2 349.7 531.2 350.4 530.7 350.8 529.6 351.7 529.4 351.9 528.2 353 528.1 353.1 526.8 354.1 526.5 354.3 525.4 355.2 525 355.5 523.8 356.3 523.4 356.6 522.2 357.4 521.8 357.7 520.6 358.5 520.3 358.8 519.1 359.6 518.7 359.9 517.7 360.8 517.2 361.1 516.1 361.9 515.6 362.2 514.5 363 514 363.2 512.7 364.1 512.5 364.2 510.9 365.1 510.8 365.2 509.4 366.1 509 366.3 507.8 367.1 507.3 367.4 506.2 368.1 505.6 368.5 504.7 369 503.7 369.6 503.1 369.9 501.8 370.7 501.6 370.8 500 371.6 499.6 371.8 498.4 372.4 497.4 372.9 496.9 373.2 495.3 373.9 495.1 374.1 493.8 374.6 492.7 375.2 492.2 375.4 490.6 376 490 376.3 489.1 376.6 487.5 377.2 487 377.4 486 377.7 484.4 378.1 483.4 378.5 482.8 378.6 481.3 379 479.7 379.4 479.1 379.6 478.2 379.8 476.6 380.1 475 380.4 473.7 380.7M442.3 380.5 440.7 380.1 439.1 379.8 438 379.6 437.6 379.5 436 379 434.5 378.6 433.8 378.5 432.9 378.2 431.3 377.7 430.3 377.4 429.8 377.1 428.2 376.6 427.3 376.3 426.7 376 425.1 375.3 424.7 375.2 423.5 374.6 422.2 374.1 422 373.9 420.4 373.2 420 372.9 418.9 372.3 417.8 371.8 417.3 371.6 415.7 370.8 415.6 370.7 414.2 369.9 413.6 369.6 412.6 369 411.7 368.5 411.1 368.1 409.8 367.4 409.5 367.2 408 366.3 407.9 366.2 406.4 365.2 406.3 365.2 404.8 364.2 404.7 364.1 403.3 363.1 403.1 363 401.7 362 401.4 361.9 400.1 361 399.8 360.8 398.6 360 398.1 359.6 397 358.9 396.4 358.5 395.5 357.8 394.9 357.4 393.9 356.7 393.4 356.3 392.3 355.5 392 355.2 390.8 354.2 390.6 354.1 389.3 353 389.2 353 387.9 351.9 387.7 351.7 386.5 350.8 386.1 350.5 385.1 349.7 384.5 349.3 383.7 348.6 383 348 382.3 347.5 381.4 346.7 381 346.3 379.9 345.3 379.7 345.2 378.6 344.1 378.3 343.8 377.5 343 376.7 342.4 376.3 341.9 375.2 341 375 340.8 373.7 339.7 373.6 339.7 372.4 338.6 372 338.3 371.2 337.5 370.5 336.8 370 336.4 368.9 335.3 368.9 335.3 367.9 334.2 367.4 333.6 366.9 333 365.8 332 365.8 331.9 364.7 330.8 364.2 330.5 363.5 329.7 362.7 329 362.3 328.6 361.1 327.5 361.1 327.5 360.1 326.4 359.6 325.8 359.1 325.3 358.2 324.2 358 324 357.3 323.1 356.4 322.2 356.2 322 355.2 320.9 354.9 320.6 354.1 319.8 353.3 319 353 318.6 352 317.5 351.8 317.3 351 316.4 350.2 315.4 350.1 315.3 349.3 314.2 348.6 313.5 348.4 313.1 347.4 312 347.1 311.6 346.4 310.9 345.5 310 345.4 309.8 344.4 308.7 344 308.2 343.4 307.6 342.5 306.5 342.4 306.3 341.7 305.3 340.9 304.2 340.8 304.2 340.1 303.1 339.3 302.2 339.1 302 338.2 300.9 337.7 300.4 337.2 299.8 336.2 298.7 336.2 298.6 335.4 297.6 334.6 296.5 334.6 296.5 333.8 295.4 333 294.3 333 294.3 332.2 293.2 331.5 292.2 331.3 292 330.4 290.9 329.9 290.4 329.5 289.8 328.6 288.7 328.4 288.4 327.8 287.6 327.1 286.5 326.8 286.1 326.4 285.4 325.6 284.3 325.2 283.8 324.8 283.2 323.9 282.1 323.7 281.8 323 281 322.1 279.9 322.1 279.8 321.3 278.7 320.6 277.6 320.6 277.6 319.9 276.5 319.3 275.4 319 275 318.5 274.3 317.7 273.2 317.4 272.9 316.9 272.1 316 271 315.9 270.9 315.2 269.9 314.4 268.8 314.3 268.6 313.8 267.7 313.2 266.6 312.8 265.9 312.5 265.4 311.8 264.3 311.2 263.6 310.9 263.2 310 262.1 309.6 261.6 309.2 261 308.4 259.9 308.1 259.3 307.8 258.8 307.3 257.7 306.7 256.6 306.5 256.3 306 255.5 305.2 254.4 305 254.1 304.3 253.3 303.4 252.2 303.4 252.1 302.7 251 302 249.9 301.8 249.5 301.5 248.8 301.1 247.7 300.4 246.6 300.3 246.4 299.6 245.5 298.7 244.5 298.6 244.4 297.7 243.3 297.1 242.5 296.9 242.2 296.4 241.1 296 240 295.6 239.1 295.5 238.9 295 237.7 294 236.6 294 236.6 293.1 235.5 292.5 234.9 292.1 234.4 291.5 233.3 290.9 232.4 290.8 232.2 290.3 231.1 289.7 230 289.3 229.5 288.9 228.9 288.2 227.8 287.8 227.2 287.5 226.7 287 225.6 286.3 224.4 286.2 224.3 285.4 223.3 284.9 222.2 284.7 221.8 284.2 221.1 283.4 220 283.1 219.6 282.2 218.9 281.5 218.2 281.4 217.8 281 216.7 280 215.8 279.8 215.6 278.9 214.5 278.4 214 278.1 213.4 277.7 212.3 277.2 211.1 276.9 210.6 275.3 210 275.3 210 275.3 210 273.7 210.3 273.6 210 273.4 208.9 273 207.8 272.2 207.2 271.6 206.7 270.6 205.9 270 205.6 269.5 204.5 269.3 203.4 269.2 202.3 269.1 201.7 268.4 202.3 267.9 203.4 267.5 204.5 265.9 203.9 265.3 203.4 264.4 202.3 264.3 202.3 263.7 201.2 263.5 200.1 263.3 199 263.1 197.8 262.8 196.9 262.1 197.8 261.7 199 261.6 200.1 261.5 201.2 261.4 202.3 261.3 202.7 260.1 202.3 259.7 202.3M643.9 192.3 643.6 192.5 643.5 192.3M657.6 453.8 656 452.8 654.5 453.6 653.1 453.8 652.9 453.9 652.8 453.8 651.4 453.5 650.6 453.8 649.8 454.1 648.5 453.8 648.2 453.8 648 453.8 646.7 454.1 645.1 454 643.6 454.1 642 454.1 640.4 454.1 638.9 454.1 637.3 454.1 635.8 454M617 452.6 615.5 452.4 613.9 452.2 612.3 452.1 610.8 451.9 609.2 451.7 608.2 451.6 607.7 451.5 606.1 451.3 604.5 451.1 603 450.9 601.4 450.8 599.9 450.6 599.1 450.5 598.3 450.4 596.7 450.2 595.2 450 593.6 449.8 592.1 449.7 590.5 449.5 589.5 449.4 588.9 449.3 587.4 449.1 585.8 448.9 584.3 448.8 582.7 448.6 581.1 448.4 579.8 448.3 579.6 448.3 578 448.1 576.5 447.9 574.9 447.7 573.3 447.5 571.8 447.4 570.2 447.2 570.1 447.2 568.7 447 567.1 446.8 565.5 446.6 564 446.4 562.4 446.3 560.9 446.1 560.4 446.1 559.3 445.9 557.7 445.7 556.2 445.5 554.6 445.4 553.1 445.2 551.5 445.1 550.6 445 549.9 444.9 548.4 444.7 546.8 444.5 545.3 444.3 543.7 444.1 542.1 444 540.9 443.9 540.6 443.8 539 443.6 537.4 443.4 535.9 443.2 534.3 443.1 532.8 442.9 531.2 442.8 531.2 442.8 529.6 442.5 528.1 442.3 526.5 442.2 525 442 523.4 441.8 521.8 441.7 521.5 441.7 520.3 441.5 518.7 441.3 517.2 441.1 515.6 440.9 514 440.8 512.5 440.6 511.8 440.5 510.9 440.4 509.4 440.2 507.8 440 506.2 439.9 504.7 439.7 503.1 439.5 502.1 439.4 501.6 439.4 500 439.2 498.4 439 496.9 438.8 495.3 438.6 493.8 438.5 492.3 438.3 492.2 438.3 490.6 438.1 489.1 437.9 487.5 437.7 486 437.5 484.4 437.4 482.8 437.2 482.8 437.2 481.3 437 479.7 436.8 478.2 436.6 476.6 436.5 475 436.3 473.5 436.2 472.8 436.1 471.9 436 470.4 435.8 468.8 435.6 467.2 435.4 465.7 435.3 464.1 435.1 462.9 435 462.6 434.9 461 434.7 459.4 434.5 457.9 434.4 456.3 434.2 454.7 434 453.4 433.9 453.2 433.9 451.6 433.6 450.1 433.5 448.5 433.3 446.9 433.1 445.4 432.9 443.8 432.8 443.7 432.8 442.3 432.6 440.7 432.4 439.1 432.2 437.6 432 436 431.9 434.5 431.7 434 431.7 432.9 431.5 431.3 431.3 429.8 431.1 428.2 431 426.7 430.8 425.1 430.6 424.3 430.6 423.5 430.5 422 430.3 420.4 430.1 418.9 429.9 417.3 429.7 415.7 429.6 414.6 429.5 414.2 429.4 412.6 429.2 411.1 429 409.5 428.8 407.9 428.7 406.4 428.5 404.9 428.4 404.8 428.3 403.3 428.1 401.7 427.9 400.1 427.7 398.6 427.6 397 427.4 395.5 427.3 395.2 427.2 393.9 427.1 392.3 426.9 390.8 426.7 389.2 426.5 387.7 426.3 386.1 426.2 385.5 426.1 384.5 426 383 425.8 381.4 425.6 379.9 425.4 378.3 425.3 376.7 425.1 375.8 425 375.2 424.9 373.6 424.7 372 424.5 370.5 424.4 368.9 424.2 367.4 424 366.1 423.9 365.8 423.9 364.2 423.7 362.7 423.5 361.1 423.3 359.6 423.1 358 423 356.4 422.8 356.4 422.8 354.9 422.6 353.3 422.4 351.8 422.2 350.2 422.1 348.6 421.9 347.1 421.7 346.6 421.7 345.5 421.5 344 421.3 342.4 421.2 340.8 421 339.3 420.8 337.7 420.7 336.9 420.6 336.2 420.5 334.6 420.3 333 420.1 331.5 419.9 329.9 419.8 328.4 419.6 327.2 419.5 326.8 419.4 325.2 419.2 323.7 419 322.1 418.8 320.6 418.7 319 418.5 317.6 418.4 317.4 418.4 315.9 418.1 314.3 417.9 312.8 417.7 311.2 417.6 309.6 417.4 308.6 417.3 308.1 417.2 306.5 417 305 416.7 303.4 416.5 301.8 416.4 300.3 416.2 300.1 416.2 298.7 415.9 297.1 415.7 295.6 415.5 294 415.3 292.5 415.1 291.2 415.1 290.9 415 289.3 414.9 287.8 414.7 286.2 414.6 284.7 414.6 283.1 414.4 281.5 414.3 280 414.2 278.4 414 277.8 413.9 276.9 413.8 275.3 413.6 273.7 413.3 272.2 413 271.3 412.8 270.6 412.7 269.1 412.2 267.5 411.9 267.1 411.7 265.9 411.2 264.4 410.8 264 410.6 262.8 410 261.3 409.5 261.3 409.5 259.7 408.4 259.7 408.4M259.7 428.2 261.3 427.8 262.8 427.9 264.4 427.5 265.9 427.6 267.5 427.4 269.1 427.5 270.6 427.3 272.2 427.4 273.7 427.3 275.3 427.4 276.9 427.4M298.7 428.9 300.3 429.1 301.8 429.2 303.4 429.4 304.1 429.5 305 429.6 306.5 429.8 308.1 430 309.6 430.2 311.2 430.4 312.8 430.5 313.1 430.6 314.3 430.8 315.9 431 317.4 431.2 319 431.3 320.6 431.5 322.1 431.7 322.4 431.7 323.7 431.9 325.2 432.1 326.8 432.2 328.4 432.4 329.9 432.6 331.5 432.7 332.1 432.8 333 432.9 334.6 433.1 336.2 433.3 337.7 433.5 339.3 433.7 340.8 433.8 341.8 433.9 342.4 434 344 434.2 345.5 434.4 347.1 434.6 348.6 434.7 350.2 434.9 351.5 435 351.8 435 353.3 435.3 354.9 435.5 356.4 435.6 358 435.8 359.6 436 361.1 436.1 361.2 436.1 362.7 436.3 364.2 436.5 365.8 436.7 367.4 436.9 368.9 437 370.5 437.2 370.9 437.2 372 437.4 373.6 437.6 375.2 437.8 376.7 437.9 378.3 438.1 379.9 438.3 380.7 438.3 381.4 438.4 383 438.6 384.5 438.8 386.1 439 387.7 439.2 389.2 439.3 390.4 439.4 390.8 439.5 392.3 439.7 393.9 439.9 395.5 440.1 397 440.2 398.6 440.4 400.1 440.5 400.1 440.6 401.7 440.8 403.3 441 404.8 441.1 406.4 441.3 407.9 441.5 409.5 441.6 409.8 441.7 411.1 441.8 412.6 442 414.2 442.2 415.7 442.4 417.3 442.6 418.9 442.7 419.5 442.8 420.4 442.9 422 443.1 423.5 443.3 425.1 443.5 426.7 443.6 428.2 443.8 429.2 443.9 429.8 444 431.3 444.2 432.9 444.4 434.5 444.5 436 444.7 437.6 444.8 438.9 445 439.1 445 440.7 445.2 442.3 445.4 443.8 445.6 445.4 445.8 446.9 445.9 448.5 446.1 448.7 446.1 450.1 446.3 451.6 446.5 453.2 446.7 454.7 446.8 456.3 447 457.9 447.2 458.2 447.2 459.4 447.4 461 447.6 462.6 447.8 464.1 447.9 465.7 448.1 467.2 448.2 467.9 448.3 468.8 448.4 470.4 448.6 471.9 448.8 473.5 449 475 449.2 476.6 449.3 477.8 449.4 478.2 449.5 479.7 449.7 481.3 449.9 482.8 450 484.4 450.2 486 450.4 487.5 450.5 487.6 450.5 489.1 450.7 490.6 450.9 492.2 451.1 493.8 451.3 495.3 451.4 496.9 451.6 497.2 451.6 498.4 451.8 500 452 501.6 452.2 503.1 452.4 504.7 452.5 506.2 452.7 506.9 452.7 507.8 452.9 509.4 453.1 510.9 453.3 512.5 453.4 514 453.6 515.6 453.7 516.6 453.8 517.2 453.9 518.7 454.1 520.3 454.3 521.8 454.5 523.4 454.7 525 454.8 526.4 455 526.5 455 528.1 455.2 529.6 455.4 531.2 455.6 532.8 455.7 534.3 455.9 535.9 456 536.1 456.1 537.4 456.3 539 456.5 540.6 456.6 542.1 456.8 543.7 457 545.3 457.1 545.8 457.2 546.8 457.3 548.4 457.5 549.9 457.7 551.5 457.9 553.1 458 554.6 458.2 555.5 458.3 556.2 458.4 557.7 458.6 559.3 458.8 560.9 458.9 562.4 459.1 564 459.3 565.2 459.4 565.5 459.4 567.1 459.6 568.7 459.8 570.2 460 571.8 460.2 573.3 460.3 574.9 460.5 574.9 460.5 576.5 460.7 578 460.9 579.6 461.1 581.1 461.3 582.7 461.4 584.3 461.6 584.6 461.6 585.8 461.8 587.4 462 588.9 462.2 590.5 462.3 592.1 462.5 593.6 462.6 594.3 462.7 595.2 462.8 596.7 463 598.3 463.2 599.9 463.4 601.4 463.6 603 463.7 603.7 463.8 604.5 463.9 606.1 464.2 607.7 464.4 609.2 464.6 610.8 464.7 612.3 464.9 612.5 464.9 613.9 465.1 615.5 465.4 617 465.6 618.6 465.8 620.2 466 620.8 466 621.7 466.2 623.3 466.4 624.8 466.6 626.4 466.8 628 466.9 629.5 467 631.1 467.1 632.1 467.1 632.6 467.2 634.2 467.4 635.8 467.4 637.3 467.8 638.9 467.7 640.4 468.1 642 468.1 642.5 468.3 643.6 468.6 645.1 468.8 646.7 469.1 647.2 469.4 648.2 469.8 649.8 469.8 650.8 470.5 651.4 470.9 652.9 471.1 654.5 471.5 654.6 471.6 655.5 472.7 656 473.3 657.6 473.3M274.7 287.6 275.3 287.8 276.3 287.6 276.9 287.4 278.3 286.5 277.1 285.4 276.9 285.2 275.3 284.5 275 284.3 273.7 283.7 272.2 283.6 271.2 283.2 270.6 283 269.8 283.2 269.1 283.6 267.9 283.2 267.5 283.1 267.3 283.2 266.3 284.3 265.9 285.1 264.4 285 264.2 285.4 264.4 285.8 265.9 286.1 266.7 286.5 267.5 286.6 269.1 286.9 270.6 286.8 272.2 287.4 273.7 287.2 274.7 287.6ZM259.7 268 261.1 267.7 261.3 267.6 261.4 267.7 262.8 267.9 264.4 268.2 265.9 268.4 266.9 268.8 267.5 269 269.1 269.2 270.6 269.8 272.2 269.8 273.7 269.8 274.2 268.8 274 267.7 273.7 267.1 273.4 266.6 272.5 265.4 272.2 265.2 271.3 264.3 270.6 263.9 269.7 263.2 269.1 262.8 267.9 262.1 267.5 261.9 265.9 261.2 265.5 261 264.4 260.6 262.8 260.5 261.3 260.1 259.8 261 259.7 261.1M649.6 265.4 649.8 265.6 649.9 265.4 650.3 264.3 650.1 263.2 649.8 262.9 649.5 263.2 649.2 264.3 649.6 265.4ZM259.7 240 259.7 240 261 241.1 261.3 241.3 262.8 242 263.1 242.2 264.4 243.1 265 243.3 265.9 243.7 267.5 243.4 269.1 243.3 270.6 243.4 272.1 244.4 272.2 244.5 273.4 245.5 273.7 245.8 275 246.6 275.3 246.9 276.4 247.7 276.9 248.2 278.4 248.6 278.7 248.8 280 249.9 280.1 249.9 281.5 251 281.6 251 282.2 252.2 282.9 253.3 283.1 253.5 283.6 254.4 284.2 255.5 284.5 256.6 284.7 257.5 284.7 257.7 284.7 258.2 284.6 258.8 284.4 259.9 284.3 261 284.3 262.1 284.5 263.2 284.7 264 284.8 264.3 285.1 265.4 285.6 266.6 286.2 267.3 286.5 267.7 287.3 268.8 287.8 269.2 288.5 269.9 289.3 270.6 289.7 271 290.7 272.1 290.9 272.3 291.8 273.2 292.5 273.9 292.9 274.3 294 275.4 294 275.4 295.1 276.5 295.6 277.3 295.8 277.6 296.4 278.7 296.8 279.9 297.1 280.8 297.2 281 297.8 282.1 298.4 283.2 298.7 283.6 299.2 284.3 300 285.4 300.3 285.9 300.7 286.5 301.3 287.6 301.8 288.4 302 288.7 302.7 289.8 303.4 290.7 303.6 290.9 304.6 292 305 292.5 305.5 293.2 306.4 294.3 306.5 294.4 307.2 295.4 307.9 296.5 308.1 296.7 308.6 297.6 309.2 298.7 309.6 299.3 310 299.8 310.8 300.9 311.2 301.4 311.7 302 312.6 303.1 312.8 303.3 313.5 304.2 314.2 305.3 314.3 305.4 315 306.5 315.8 307.6 315.9 307.7 316.6 308.7 317.4 309.7 317.5 309.8 318.4 310.9 319 311.6 319.3 312 320.2 313.1 320.6 313.5 321.1 314.2 321.9 315.3 322.1 315.6 322.7 316.4 323.6 317.5 323.7 317.6 324.5 318.6 325.2 319.5 325.4 319.8 326.4 320.9 326.8 321.3 327.4 322 328.3 323.1 328.4 323.1 329.2 324.2 329.9 325 330.1 325.3 331 326.4 331.5 326.9 331.9 327.5 332.9 328.6 333 328.7 333.9 329.7 334.6 330.5 335 330.8 336 331.9 336.2 332.1 337 333 337.7 333.8 338 334.2 339 335.3 339.3 335.6 340 336.4 340.8 337.3 341 337.5 342 338.6 342.4 339 343.1 339.7 344 340.5 344.3 340.8 345.4 341.9 345.5 342 346.5 343 347.1 343.6 347.6 344.1 348.6 345.1 348.7 345.2 349.8 346.3 350.2 346.7 350.9 347.5 351.8 348.3 352.1 348.6 353.3 349.7 353.3 349.7 354.6 350.8 354.9 351.1 355.8 351.9 356.4 352.4 357.1 353 358 353.8 358.4 354.1 359.6 355.2 359.6 355.2 360.8 356.3 361.1 356.6 362 357.4 362.7 358 363.3 358.5 364.2 359.3 364.7 359.6 365.8 360.4 366.2 360.8 367.4 361.6 367.7 361.9 368.9 362.8 369.2 363 370.5 364 370.6 364.1 371.9 365.2 372 365.3 373.3 366.3 373.6 366.5 374.8 367.4 375.2 367.6 376.4 368.5 376.7 368.7 378.1 369.6 378.3 369.7 379.8 370.7 379.9 370.7 381.4 371.8 381.5 371.8 383 372.8 383.2 372.9 384.5 373.8 385 374.1 386.1 374.8 386.8 375.2 387.7 375.7 388.6 376.3 389.2 376.6 390.5 377.4 390.8 377.6 392.3 378.5 392.4 378.5 393.9 379.4 394.3 379.6 395.5 380.2 396.5 380.7 397 381 398.6 381.7 398.9 381.8 400.1 382.4 401.3 382.9 401.7 383.1 403.3 383.8 403.7 384 404.8 384.6 406.2 385.1 406.4 385.2 407.9 385.9 408.7 386.2 409.5 386.6 411.1 387.2 411.5 387.4 412.6 387.8 414.2 388.4 414.5 388.5 415.7 389 417.3 389.5 417.6 389.6 418.9 390 420.4 390.5 421 390.7 422 391 423.5 391.4 425 391.8 425.1 391.8 426.7 392.2 428.2 392.6 429.5 392.9 429.8 393 431.3 393.4 432.9 393.7 434.5 394 434.7 394 436 394.3 437.6 394.5 439.1 394.8 440.7 395 441.7 395.1 442.3 395.2 443.8 395.4 445.4 395.6 446.9 395.8 448.5 395.9 450.1 396 451.6 396.1 453.2 396.2 454.5 396.2 454.7 396.2 456.3 396.3 457.9 396.3 459.4 396.3 461 396.3 462.6 396.3 463.7 396.2 464.1 396.2 465.7 396.1 467.2 396.1 468.8 395.9 470.4 395.8 471.9 395.6 473.5 395.5 475 395.2 475.7 395.1 476.6 395 478.2 394.8 479.7 394.5 481.3 394.2 482.2 394 482.8 393.9 484.4 393.6 486 393.3 487.5 392.9 487.5 392.9 489.1 392.6 490.6 392.2 492.2 391.8 492.2 391.8 493.8 391.4 495.3 391 496.2 390.7 496.9 390.5 498.4 390 499.6 389.6 500 389.4 501.6 388.9 502.7 388.5 503.1 388.3 504.7 387.8 505.7 387.4 506.2 387.1 507.8 386.5 508.5 386.2 509.4 385.9 510.9 385.3 511.3 385.1 512.5 384.7 513.9 384 514 384 515.6 383.3 516.3 382.9 517.2 382.5 518.4 381.8 518.7 381.7 520.3 380.8 520.5 380.7 521.8 380 522.7 379.6 523.4 379.2 524.8 378.5 525 378.4 526.5 377.6 526.9 377.4 528.1 376.7 528.8 376.3 529.6 375.8 530.6 375.2 531.2 374.8 532.3 374.1 532.8 373.8 534 372.9 534.3 372.8 535.8 371.8 535.9 371.8 537.4 370.8 537.6 370.7 539 369.8 539.3 369.6 540.6 368.7 540.8 368.5 542.1 367.5 542.3 367.4 543.7 366.4 543.8 366.3 545.3 365.2 545.3 365.2 546.8 364.1 546.8 364.1 548.3 363 548.4 362.9 549.8 361.9 549.9 361.7 551.2 360.8 551.5 360.5 552.5 359.6 553.1 359.2 553.8 358.5 554.6 357.8 555.1 357.4 556.2 356.5 556.5 356.3 557.7 355.3 557.8 355.2 559.1 354.1 559.3 353.9 560.3 353 560.9 352.5 561.5 351.9 562.4 351 562.7 350.8 563.9 349.7 564 349.6 565.1 348.6 565.5 348.2 566.4 347.5 567.1 346.8 567.5 346.3 568.6 345.2 568.7 345.2 569.7 344.1 570.2 343.6 570.8 343 571.8 342 571.9 341.9 573 340.8 573.3 340.5 574.2 339.7 574.9 339 575.3 338.6 576.3 337.5 576.5 337.3 577.3 336.4 578 335.5 578.3 335.3 579.3 334.2 579.6 333.8 580.3 333 581.1 332.2 581.4 331.9 582.4 330.8 582.7 330.5 583.4 329.7 584.3 328.7 584.3 328.6 585.2 327.5 585.8 326.8 586.2 326.4 587.1 325.3 587.4 325 588.2 324.2 588.9 323.3 589.2 323.1 590.1 322 590.5 321.4 590.9 320.9 591.8 319.8 592.1 319.4 592.7 318.6 593.6 317.5 593.6 317.5 594.5 316.4 595.2 315.7 595.5 315.3 596.4 314.2 596.7 313.7 597.2 313.1 598 312 598.3 311.5 598.8 310.9 599.7 309.8 599.9 309.5 600.6 308.7 601.4 307.7 601.5 307.6 602.4 306.5 603 305.6 603.2 305.3 603.9 304.2 604.5 303.3 604.7 303.1 605.5 302 606.1 301.2 606.3 300.9 607.2 299.8 607.7 299.1 608 298.7 608.8 297.6 609.2 297 609.5 296.5 610.2 295.4 610.8 294.6 611 294.3 611.8 293.2 612.3 292.5 612.7 292 613.6 290.9 613.9 290.5 614.5 289.8 615.2 288.7 615.5 288.3 615.9 287.6 616.5 286.5 617 285.6 617.2 285.4 617.9 284.3 618.6 283.2 618.6 283.2 619.3 282.1 620 281 620.2 280.8 620.7 279.9 621.3 278.7 621.7 278.1 622 277.6 622.8 276.5 623.3 275.9 623.7 275.4 624.7 274.3 624.8 274.1 625.6 273.2 626.4 272.4 626.6 272.1 627.3 271 628 270.3 628.3 269.9 629.1 268.8 629.5 267.9 629.6 267.7 630.4 266.6 631.1 265.7 631.2 265.4 631.6 264.3 631.8 263.2 632.1 262.1 632.6 261.2 632.8 261 633.2 259.9 633.5 258.8 633.6 257.7 633.7 256.6 634 255.5 634.2 255.1 635.8 255 636 254.4 636.3 253.3 636.8 252.2 637.3 251.5 638.6 251 638.9 251 639.6 249.9 640.3 248.8 640.4 248.6 641.1 247.7 642 247.1 642.7 246.6 643.6 245.8 643.8 245.5 644.4 244.4 645 243.3 645.1 243.1 646.7 243 647 243.3 647.8 244.4 648.2 245 649.5 244.4 649.8 244.2 650.2 243.3 651.4 242.4 652.6 242.2 652.9 242.1 654.3 241.1 654.5 240.9 655 240 655.6 238.9 656 238.2 656.7 237.7 657.6 237.3M648.2 220.1 648.2 220 648.2 220 648.3 220 648.2 220.1ZM657.6 219.8 656.7 218.9 656.2 217.8 656.2 216.7 656.5 215.6 657.6 214.7M652.4 203.4 652.9 204 653.5 203.4 653.8 202.3 653.7 201.2 653.3 200.1 652.9 199.5 652.5 200.1 652.1 201.2 652.1 202.3 652.4 203.4ZM657.6 203.1 657 203.4 656 204.1 655.6 204.5 655.2 205.6 655.2 206.7 655.1 207.8 655.1 208.9 655.1 210 655.1 211.1 655 212.3 654.5 213.4 654.5 213.4 653.2 214.5 652.9 214.6 651.4 214.7 651.2 214.5 650.7 213.4 650.3 212.3 649.9 211.1 649.8 211 649.4 211.1 648.2 211.5 647.7 212.3 647.5 213.4 647.4 214.5 647.4 215.6 647.3 216.7 647 217.8 646.7 218.1 645.7 218.9 645.1 219.2 643.6 219.2 643.3 218.9 642.4 217.8 642 217.5 641.8 217.8 641.6 218.9 641.5 220 641.7 221.1 642 221.6 642.2 222.2 642.3 223.3 642.1 224.4 642 224.7 641.7 224.4 640.6 223.3 640.4 223.2 640.3 223.3 638.9 223.8 638.1 224.4 637.6 225.6 637.3 226.5 637.3 226.7 636.8 227.8 636.2 228.9 635.8 229.4 634.3 230 634.2 230.1 633.6 231.1 633.2 232.2 632.9 233.3 632.6 233.8 631.1 234.2 630.9 234.4 630.3 235.5 629.7 236.6 629.5 237.1 629.3 237.7 628.4 238.9 628 239.2 627.4 240 627 241.1 626.5 242.2 626.4 242.3 625.7 243.3 624.9 244.4 624.8 244.5 624.1 245.5 623.4 246.6 623.3 246.8 622.7 247.7 622.2 248.8 621.7 249.7 621.6 249.9 620.9 251 620.2 252.1 620.1 252.2 619.3 253.3 618.6 254.2 618.5 254.4 617.8 255.5 617.2 256.6 617 256.8 616.6 257.7 615.9 258.8 615.5 259.4 615.2 259.9 614.3 261 613.9 261.5 613.5 262.1 612.6 263.2 612.3 263.7 611.9 264.3 611.3 265.4 610.8 266.3 610.6 266.6 609.9 267.7 609.2 268.5 609.1 268.8 608.2 269.9 607.7 270.5 607.3 271 606.5 272.1 606.1 272.7 605.8 273.2 605.1 274.3 604.5 275.2 604.4 275.4 603.6 276.5 603 277.3 602.7 277.6 601.8 278.7 601.4 279.2 600.9 279.9 600.1 281 599.9 281.4 599.4 282.1 598.7 283.2 598.3 283.7 597.9 284.3 597 285.4 596.7 285.7 596.1 286.5 595.2 287.6 595.2 287.6 594.3 288.7 593.6 289.7 593.5 289.8 592.8 290.9 592.1 291.9 592 292 591.1 293.2 590.5 293.8 590.1 294.3 589.2 295.4 588.9 295.7 588.3 296.5 587.4 297.6 587.4 297.7 586.6 298.7 585.8 299.8 585.8 299.8 584.9 300.9 584.3 301.6 583.9 302 582.9 303.1 582.7 303.4 582 304.2 581.1 305.3 581.1 305.3 580.2 306.5 579.6 307.3 579.3 307.6 578.4 308.7 578 309.1 577.4 309.8 576.5 310.8 576.4 310.9 575.4 312 574.9 312.5 574.4 313.1 573.5 314.2 573.3 314.4 572.6 315.3 571.8 316.2 571.6 316.4 570.6 317.5 570.2 317.9 569.5 318.6 568.7 319.5 568.4 319.8 567.4 320.9 567.1 321.2 566.4 322 565.5 323 565.4 323.1 564.4 324.2 564 324.6 563.3 325.3 562.4 326.2 562.2 326.4 561 327.5 560.9 327.7 559.9 328.6 559.3 329.3 558.9 329.7 557.9 330.8 557.7 331 556.8 331.9 556.2 332.5 555.6 333 554.6 334 554.4 334.2 553.2 335.3 553.1 335.4 552 336.4 551.5 336.9 550.9 337.5 549.9 338.4 549.7 338.6 548.6 339.7 548.4 339.9 547.3 340.8 546.8 341.2 546 341.9 545.3 342.5 544.7 343 543.7 343.9 543.4 344.1 542.2 345.2 542.1 345.3 540.9 346.3 540.6 346.7 539.6 347.5 539 348 538.3 348.6 537.4 349.2 536.8 349.7 535.9 350.4 535.4 350.8 534.3 351.6 534 351.9 532.8 352.9 532.6 353 531.2 354.1 531.2 354.1 529.8 355.2 529.6 355.3 528.2 356.3 528.1 356.4 526.6 357.4 526.5 357.5 525 358.5 525 358.6 523.4 359.6 523.4 359.7 521.9 360.8 521.8 360.8 520.3 361.9 520.3 361.9 518.7 362.9 518.6 363 517.2 363.8 516.8 364.1 515.6 364.8 514.9 365.2 514 365.7 513 366.3 512.5 366.6 511.2 367.4 510.9 367.6 509.4 368.5 509.3 368.5 507.8 369.4 507.4 369.6 506.2 370.2 505.3 370.7 504.7 371 503.1 371.8 503 371.8 501.6 372.5 500.6 372.9 500 373.2 498.4 373.9 498.2 374.1 496.9 374.6 495.7 375.2 495.3 375.3 493.8 375.9 492.9 376.3 492.2 376.5 490.6 377.1 489.8 377.4 489.1 377.6 487.5 378.1 486.3 378.5 486 378.6 484.4 379 482.8 379.4M432.9 379 431.3 378.6 431 378.5 429.8 378.1 428.2 377.6 427.5 377.4 426.7 377.1 425.1 376.5 424.4 376.3 423.5 375.9 422 375.3 421.6 375.2 420.4 374.6 419.1 374.1 418.9 373.9 417.3 373.2 416.7 372.9 415.7 372.5 414.4 371.8 414.2 371.7 412.6 371 412.1 370.7 411.1 370.1 410 369.6 409.5 369.3 407.9 368.5 407.9 368.5 406.4 367.6 406 367.4 404.8 366.7 404.1 366.3 403.3 365.8 402.3 365.2 401.7 364.8 400.6 364.1 400.1 363.8 398.9 363 398.6 362.8 397.2 361.9 397 361.7 395.5 360.8 395.5 360.7 393.9 359.7 393.8 359.6 392.3 358.6 392.2 358.5 390.8 357.6 390.6 357.4 389.2 356.5 389 356.3 387.7 355.3 387.5 355.2 386.1 354.1 386.1 354.1 384.7 353 384.5 352.8 383.3 351.9 383 351.6 381.9 350.8 381.4 350.4 380.5 349.7 379.9 349.2 379.1 348.6 378.3 347.9 377.7 347.5 376.7 346.7 376.3 346.3 375.2 345.4 375 345.2 373.8 344.1 373.6 343.9 372.6 343 372 342.5 371.4 341.9 370.5 341.1 370.1 340.8 368.9 339.8 368.9 339.7 367.6 338.6 367.4 338.4 366.4 337.5 365.8 337 365.1 336.4 364.2 335.5 364 335.3 362.9 334.2 362.7 334 361.8 333 361.1 332.4 360.7 331.9 359.6 330.8 359.6 330.8 358.4 329.7 358 329.3 357.3 328.6 356.4 327.8 356.1 327.5 355 326.4 354.9 326.3 354 325.3 353.3 324.6 353 324.2 352 323.1 351.8 322.9 351 322 350.2 321.2 349.9 320.9 348.8 319.8 348.6 319.5 347.8 318.6 347.1 317.9 346.7 317.5 345.7 316.4 345.5 316.2 344.7 315.3 344 314.4 343.8 314.2 342.9 313.1 342.4 312.5 341.9 312 341 310.9 340.8 310.8 340 309.8 339.3 309.1 338.9 308.7 337.9 307.6 337.7 307.3 337 306.5 336.2 305.4 336.1 305.3 335.3 304.2 334.6 303.4 334.4 303.1 333.5 302 333 301.5 332.6 300.9 331.6 299.8 331.5 299.7 330.6 298.7 329.9 297.8 329.7 297.6 328.8 296.5 328.4 295.8 328 295.4 327.2 294.3 326.8 293.7 326.4 293.2 325.5 292 325.2 291.7 324.6 290.9 323.7 289.8 323.7 289.8 322.8 288.7 322.1 287.8 321.9 287.6 321.1 286.5 320.6 285.7 320.4 285.4 319.6 284.3 319 283.4 318.8 283.2 318 282.1 317.4 281.4 317.1 281 316.2 279.9 315.9 279.4 315.3 278.7 314.5 277.6 314.3 277.3 313.8 276.5 313.1 275.4 312.8 274.9 312.4 274.3 311.6 273.2 311.2 272.7 310.7 272.1 309.8 271 309.6 270.7 309 269.9 308.2 268.8 308.1 268.6 307.4 267.7 306.8 266.6 306.5 266.1 306.1 265.4 305.4 264.3 305 263.7 304.6 263.2 303.7 262.1 303.4 261.7 302.8 261 302 259.9 301.8 259.6 301.4 258.8 300.8 257.7 300.3 256.7 300.2 256.6 299.6 255.5 298.8 254.4 298.7 254.2 297.9 253.3 297.1 252.3 297 252.2 296.2 251 295.7 249.9 295.6 249.8 295.2 248.8 294.7 247.7 294.1 246.6 294 246.5 293.3 245.5 292.5 244.4 292.5 244.4 291.6 243.3 290.9 242.2 290.9 242.1 290.3 241.1 289.7 240 289.3 239.4 289 238.9 288.2 237.7 287.8 237.1 287.5 236.6 286.9 235.5 286.2 234.4 286.2 234.4 285.3 233.3 284.7 232.2 284.7 232.2 283.9 231.1 283.1 230 283.1 230 281.9 228.9 281.5 228.4 281.2 227.8 280.3 226.7 280 226.4 279.3 225.6 278.4 224.7 278.3 224.4 277.7 223.3 276.9 222.2 276.9 222.2 275.5 221.1 275.3 220.9 274.2 220 273.7 219.3 272.2 219.1 272 218.9 270.6 217.9 270.5 217.8 269.9 216.7 269.3 215.6 269.1 215.3 267.6 214.5 267.5 214.4 267.4 214.5 266.5 215.6 265.9 216.4 265.2 215.6 264.4 214.9 264.1 214.5 263.3 213.4 262.8 213 261.7 212.3 261.3 211.8 260.6 211.1 260 210 259.7 209.1M657.6 455.4 656.9 455 656 454.4 654.5 454.7 653.6 455 652.9 455.1 652.4 455 651.4 454.6 650.2 455 649.8 455.1 649.1 455 648.2 454.8 646.7 454.9 645.1 454.9 643.6 454.8 642 454.9M309.6 418.2 308.1 418 306.5 417.8 305 417.6 303.4 417.5 301.8 417.3 301.6 417.3 300.3 417.1 298.7 416.9 297.1 416.7 295.6 416.5 294 416.4 292.5 416.2 291.5 416.2 290.9 416.1 289.3 416 287.8 415.8 286.2 415.7 284.7 415.6 283.1 415.4 281.5 415.2 280 415.1 279.5 415.1 278.4 414.9 276.9 414.6 275.3 414.4 273.7 414.2 272.8 413.9 272.2 413.8 270.6 413.6 269.1 413.1 267.7 412.8 267.5 412.8 265.9 412.2 264.4 411.8 264.1 411.7 262.8 411.2 261.3 410.7 261.1 410.6 259.7 409.8M259.7 426.7 261.3 426.5 262.8 426.7 264.4 426.5 265.9 426.6 267.5 426.5 269.1 426.6 270.6 426.6 272.2 426.6 273.7 426.6M604.5 463.2 606.1 463.3 607.7 463.5 609.2 463.7 610.5 463.8 610.8 463.9 612.3 464.1 613.9 464.3 615.5 464.5 617 464.6 618.6 464.8 619.9 464.9 620.2 465 621.7 465.2 623.3 465.3 624.8 465.5 626.4 465.7 628 465.8 629.5 465.9 631.1 466 631.4 466 632.6 466.2 634.2 466.4 635.8 466.5 637.3 466.7 638.9 466.8 640.4 467.1 640.8 467.1 642 467.3 643.6 467.6 645.1 467.9 646.7 468.1 647 468.3 648.2 468.8 649.8 468.8 650.9 469.4 651.4 469.7 652.9 470.1 654.5 470.1 654.8 470.5 655.9 471.6 656 471.7 657.6 472M443.3 394 443.8 394.1 445.4 394.3 446.9 394.4 448.5 394.6 450.1 394.7 451.6 394.8 453.2 394.9 454.7 394.9 456.3 395 457.9 395 459.4 395 461 395 462.6 394.9 464.1 394.9 465.7 394.8 467.2 394.7 468.8 394.6 470.4 394.4 471.9 394.2 473.5 394 473.6 394 475 393.8 476.6 393.6 478.2 393.4 479.7 393.1 480.8 392.9 481.3 392.8 482.8 392.5 484.4 392.2 486 391.9 486.3 391.8 487.5 391.5 489.1 391.2 490.6 390.8 491 390.7 492.2 390.4 493.8 389.9 494.9 389.6 495.3 389.5 496.9 389 498.3 388.5 498.4 388.4 500 387.9 501.4 387.4 501.6 387.3 503.1 386.8 504.4 386.2 504.7 386.2 506.2 385.6 507.3 385.1 507.8 385 509.4 384.3 510 384 510.9 383.6 512.5 382.9 512.5 382.9 514 382.2 514.8 381.8 515.6 381.4 517 380.7 517.2 380.6 518.7 379.8 519.2 379.6 520.3 379 521.3 378.5 521.8 378.2 523.4 377.4 523.4 377.4 525 376.5 525.4 376.3 526.5 375.6 527.2 375.2 528.1 374.6 529 374.1 529.6 373.6 530.7 372.9 531.2 372.6 532.4 371.8 532.8 371.6 534.2 370.7 534.3 370.6 535.9 369.6 535.9 369.6 537.4 368.5 537.5 368.5 539 367.4 539 367.4 540.5 366.3 540.6 366.2 541.9 365.2 542.1 365 543.4 364.1 543.7 363.9 544.9 363 545.3 362.7 546.4 361.9 546.8 361.5 547.8 360.8 548.4 360.2 549.1 359.6 549.9 358.9 550.3 358.5 551.5 357.5 551.6 357.4 552.9 356.3 553.1 356.2 554.3 355.2 554.6 354.9 555.6 354.1 556.2 353.5 556.8 353 557.7 352.1 557.9 351.9 559.1 350.8 559.3 350.5 560.2 349.7 560.9 349.1 561.4 348.6 562.4 347.6 562.6 347.5 563.8 346.3 564 346.2 564.9 345.2 565.5 344.6 565.9 344.1 567 343 567.1 342.9 568 341.9 568.7 341.2 569.1 340.8 570.2 339.7 570.2 339.7 571.3 338.6 571.8 338.1 572.3 337.5 573.3 336.4 573.3 336.3 574.2 335.3 574.9 334.4 575.2 334.2 576.2 333 576.5 332.7 577.2 331.9 578 331 578.2 330.8 579.2 329.7 579.6 329.2 580.1 328.6 580.9 327.5 581.1 327.2 581.8 326.4 582.7 325.3 582.7 325.3 583.7 324.2 584.3 323.6 584.7 323.1 585.6 322 585.8 321.7 586.4 320.9 587.2 319.8 587.4 319.6 588 318.6 588.9 317.5 588.9 317.5 589.8 316.4 590.5 315.6 590.8 315.3 591.6 314.2 592.1 313.6 592.4 313.1 593.2 312 593.6 311.4 593.9 310.9 594.7 309.8 595.2 309.2 595.6 308.7 596.5 307.6 596.7 307.3 597.3 306.5 598.1 305.3 598.3 305.1 598.8 304.2 599.5 303.1 599.9 302.6 600.2 302 601 300.9 601.4 300.4 601.9 299.8 602.7 298.7 603 298.3 603.5 297.6 604.2 296.5 604.5 295.9 604.8 295.4 605.4 294.3 606.1 293.3 606.2 293.2 607 292 607.7 291.2 607.8 290.9 608.6 289.8 609.2 288.9 609.3 288.7 609.8 287.6 610.3 286.5 610.8 285.7 610.9 285.4 611.5 284.3 612.3 283.2 612.4 283.2 613.1 282.1 613.9 281 613.9 281 614.4 279.9 614.9 278.7 615.5 277.7 615.5 277.6 616.1 276.5 616.9 275.4 617 275.3 617.8 274.3 618.6 273.4 618.8 273.2 619.5 272.1 620.1 271 620.2 270.9 620.4 269.9 620.6 268.8 620.9 267.7 621.7 266.8 621.9 266.6 622.5 265.4 622.9 264.3 621.7 263.7 620.8 264.3 620.2 264.9 619.8 265.4 619.1 266.6 618.6 267 618.2 267.7 617 268.6 616.9 268.8 615.6 269.9 615.5 270 614.5 271 613.9 271.5 613.5 272.1 612.6 273.2 612.3 273.6 612 274.3 611.3 275.4 610.8 276 610.4 276.5 609.4 277.6 609.2 277.8 608.4 278.7 607.7 279.4 607.3 279.9 606.4 281 606.1 281.4 605.7 282.1 604.9 283.2 604.5 283.7 604.1 284.3 603.2 285.4 603 285.6 602.2 286.5 601.4 287.3 601.1 287.6 600.1 288.7 599.9 289 599.3 289.8 598.5 290.9 598.3 291.2 597.7 292 596.7 293.2 596.7 293.2 595.8 294.3 595.2 294.9 594.7 295.4 593.7 296.5 593.6 296.5 592.8 297.6 592.1 298.5 591.9 298.7 591.1 299.8 590.5 300.5 590.2 300.9 589.2 302 588.9 302.2 588.1 303.1 587.4 303.9 587.1 304.2 586.1 305.3 585.8 305.6 585.2 306.5 584.3 307.6 584.3 307.6 583.4 308.7 582.7 309.4 582.3 309.8 581.2 310.9 581.1 311 580.2 312 579.6 312.6 579.1 313.1 578.1 314.2 578 314.4 577.2 315.3 576.5 316.2 576.2 316.4 575.2 317.5 574.9 317.8 574.1 318.6 573.3 319.3 572.9 319.8 571.8 320.9 571.8 320.9 570.8 322 570.2 322.6 569.8 323.1 568.7 324.2 568.7 324.3 567.7 325.3 567.1 325.8 566.5 326.4 565.5 327.3 565.3 327.5 564.1 328.6 564 328.8 563 329.7 562.4 330.3 561.9 330.8 560.9 331.9 560.8 331.9 559.7 333 559.3 333.4 558.4 334.2 557.7 334.8 557.2 335.3 556.2 336.1 555.9 336.4 554.7 337.5 554.6 337.6 553.6 338.6 553.1 339.1 552.4 339.7 551.5 340.5 551.1 340.8 549.9 341.8 549.8 341.9 548.4 343 548.4 343.1 547.1 344.1 546.8 344.4 545.8 345.2 545.3 345.7 544.5 346.3 543.7 347 543.2 347.5 542.1 348.3 541.8 348.6 540.6 349.5 540.4 349.7 539 350.7 538.9 350.8 537.4 351.9 537.4 351.9 536 353 535.9 353.1 534.6 354.1 534.3 354.3 533.1 355.2 532.8 355.4 531.5 356.3 531.2 356.5 529.9 357.4 529.6 357.6 528.3 358.5 528.1 358.7 526.6 359.6 526.5 359.7 525 360.8 525 360.8 523.4 361.8 523.4 361.9 521.8 362.8 521.6 363 520.3 363.8 519.8 364.1 518.7 364.7 517.9 365.2 517.2 365.6 516 366.3 515.6 366.5 514.1 367.4 514 367.4 512.5 368.3 512.1 368.5 510.9 369.2 510.1 369.6 509.4 370 508 370.7 507.8 370.8 506.2 371.6 505.7 371.8 504.7 372.3 503.2 372.9 503.1 373 501.6 373.7 500.7 374.1 500 374.4 498.4 375 498.1 375.2 496.9 375.6 495.3 376.3 495.3 376.3 493.8 376.8 492.2 377.4 492.2 377.4 490.6 377.9 489.1 378.4M426.7 377.9 425.1 377.4 425.1 377.4 423.5 376.8 422 376.3 422 376.3 420.4 375.6 419.2 375.2 418.9 375 417.3 374.4 416.6 374.1 415.7 373.7 414.2 373 414.1 372.9 412.6 372.3 411.7 371.8 411.1 371.5 409.5 370.8 409.4 370.7 407.9 370 407.2 369.6 406.4 369.2 405.1 368.5 404.8 368.3 403.3 367.5 403.1 367.4 401.7 366.6 401.1 366.3 400.1 365.7 399.3 365.2 398.6 364.7 397.5 364.1 397 363.8 395.8 363 395.5 362.8 394.1 361.9 393.9 361.8 392.4 360.8 392.3 360.7 390.8 359.7 390.7 359.6 389.2 358.7 389 358.5 387.7 357.6 387.3 357.4 386.1 356.6 385.7 356.3 384.5 355.4 384.2 355.2 383 354.3 382.7 354.1 381.4 353.1 381.3 353 379.9 351.9 379.9 351.9 378.4 350.8 378.3 350.7 377 349.7 376.7 349.5 375.6 348.6 375.2 348.3 374.1 347.5 373.6 347.1 372.7 346.3 372 345.8 371.4 345.2 370.5 344.5 370.1 344.1 368.9 343.1 368.8 343 367.6 341.9 367.4 341.7 366.3 340.8 365.8 340.3 365.1 339.7 364.2 339 363.8 338.6 362.7 337.7 362.5 337.5 361.2 336.4 361.1 336.3 360 335.3 359.6 334.8 358.8 334.2 358 333.3 357.7 333 356.6 331.9 356.4 331.8 355.5 330.8 354.9 330.3 354.3 329.7 353.3 328.8 353.1 328.6 351.9 327.5 351.8 327.4 350.7 326.4 350.2 325.8 349.6 325.3 348.6 324.2 348.6 324.2 347.6 323.1 347.1 322.5 346.5 322 345.5 320.9 345.5 320.9 344.4 319.8 344 319.3 343.3 318.6 342.4 317.8 342.1 317.5 341.1 316.4 340.8 316.2 340 315.3 339.3 314.4 339.1 314.2 338.1 313.1 337.7 312.6 337.2 312 336.2 310.9 336.2 310.9 335.1 309.8 334.6 309.2 334 308.7 333 307.6 333 307.6 332 306.5 331.5 305.9 331 305.3 330.1 304.2 329.9 304 329.2 303.1 328.4 302 328.4 302 327.4 300.9 326.8 300.3 326.4 299.8 325.3 298.7 325.2 298.6 324.3 297.6 323.7 296.9 323.3 296.5 322.4 295.4 322.1 294.9 321.6 294.3 320.8 293.2 320.6 292.9 319.9 292 319 291 319 290.9 317.9 289.8 317.4 289.3 316.9 288.7 315.9 287.6 315.9 287.5 314.9 286.5 314.3 285.6 314.2 285.4 313.4 284.3 312.8 283.3 312.7 283.2 311.8 282.1 311.2 281.3 310.8 281 309.8 279.9 309.6 279.7 308.6 278.7 308.1 278 307.7 277.6 306.9 276.5 306.5 275.8 306.3 275.4 305.6 274.3 305 273.2 305 273.2 303.9 272.1 303.4 271.5 302.8 271 301.8 270.1 301.5 269.9 300.3 268.8 300.3 268.7 299.2 267.7 298.8 266.6 298.7 266.4 298.3 265.4 297.6 264.3 297.1 263.9 296 263.2 295.6 263 294 262.9 293 263.2 292.7 264.3 293.5 265.4 294 266.1 294.7 266.6 295.6 267.4 295.9 267.7 296.6 268.8 296.8 269.9 297 271 297.1 271.3 297.6 272.1 298.3 273.2 298.7 273.6 299.4 274.3 300.3 275.2 300.5 275.4 301.5 276.5 301.8 277.1 302.3 277.6 302.7 278.7 303.1 279.9 303.4 280.8 303.5 281 304.1 282.1 304.8 283.2 305 283.5 305.6 284.3 306.4 285.4 306.5 285.7 307.1 286.5 307.6 287.6 308 288.7 308.1 288.8 308.6 289.8 309.3 290.9 309.6 291.4 310.1 292 311 293.2 311.2 293.4 311.9 294.3 312.6 295.4 312.8 295.6 313.4 296.5 314 297.6 314.3 298.2 314.6 298.7 315.3 299.8 315.9 300.6 316.1 300.9 316.9 302 317.4 302.7 317.8 303.1 318.6 304.2 319 304.8 319.4 305.3 320.1 306.5 320.6 307.2 320.8 307.6 321.6 308.7 322.1 309.5 322.4 309.8 323.2 310.9 323.7 311.5 324.1 312 325 313.1 325.2 313.4 325.9 314.2 326.7 315.3 326.8 315.5 327.5 316.4 328.3 317.5 328.4 317.7 329.1 318.6 329.9 319.7 329.9 319.8 330.9 320.9 331.5 321.6 331.8 322 332.8 323.1 333 323.4 333.7 324.2 334.5 325.3 334.6 325.4 335.4 326.4 336.2 327.4 336.3 327.5 337.2 328.6 337.7 329.2 338.1 329.7 339.1 330.8 339.3 331 340.2 331.9 340.8 332.7 341.2 333 342.1 334.2 342.4 334.5 343.1 335.3 344 336.3 344 336.4 345 337.5 345.5 338 346 338.6 347.1 339.7 347.1 339.7 348.2 340.8 348.6 341.3 349.3 341.9 350.2 342.9 350.4 343 351.4 344.1 351.8 344.5 352.5 345.2 353.3 346.1 353.6 346.3 354.7 347.5 354.9 347.7 355.8 348.6 356.4 349.2 357 349.7 358 350.6 358.2 350.8 359.4 351.9 359.6 352 360.7 353 361.1 353.4 361.9 354.1 362.7 354.9 363.1 355.2 364.2 356.3 364.3 356.3 365.6 357.4 365.8 357.6 366.9 358.5 367.4 358.9 368.2 359.6 368.9 360.2 369.6 360.8 370.5 361.5 371 361.9 372 362.7 372.5 363 373.6 363.8 373.9 364.1 375.2 365 375.4 365.2 376.7 366.2 376.8 366.3 378.3 367.4 378.3 367.4 379.8 368.5 379.9 368.5 381.4 369.6 381.4 369.6 383 370.7 383.1 370.7 384.5 371.6 384.8 371.8 386.1 372.6 386.6 372.9 387.7 373.6 388.4 374.1 389.2 374.5 390.2 375.2 390.8 375.5 392 376.3 392.3 376.5 393.9 377.4 393.9 377.4 395.5 378.3 395.9 378.5 397 379.1 398 379.6 398.6 379.9 400.1 380.7 400.2 380.7 401.7 381.4 402.5 381.8 403.3 382.2 404.8 382.9 404.9 382.9 406.4 383.6 407.4 384 407.9 384.3 409.5 384.9 410.1 385.1 411.1 385.5 412.6 386.1 412.9 386.2 414.2 386.8 415.7 387.3 415.8 387.4 417.3 387.9 418.9 388.4 418.9 388.5 420.4 389 422 389.4 422.4 389.6 423.5 389.9 425.1 390.4 426.3 390.7 426.7 390.8 428.2 391.2 429.8 391.6 430.7 391.8 431.3 391.9 432.9 392.3 434.5 392.6 436 392.9 436.1 392.9 437.6 393.2 439.1 393.4 440.7 393.7 442.3 393.9 443.3 394M270.3 267.7 270.6 267.7 270.7 267.7 270.8 266.6 270.6 266.2 269.8 265.4 269.1 264.8 268.7 264.3 267.5 263.4 266.8 263.2 265.9 263 264.4 262.2 262.8 263.1 261.3 262.8 261 263.2 261 264.3 261.3 264.8 262.8 265 263.1 265.4 264.4 266.5 265.7 266.6 265.9 266.6 267.5 267.5 269.1 267.2 270.3 267.7ZM632.6 248.8 632.6 249 632.7 248.8 632.8 247.7 632.6 247.6 632.6 247.7 632.6 248.8ZM259.7 238.5 260.1 238.9 261.3 239.9 261.5 240 262.8 240.5 264.3 241.1 264.4 241.1 265.9 241.2 266.1 241.1 267.2 240 267.5 239.6 269.1 239.9 269.1 240 270.5 241.1 270.6 241.2 272.2 242 272.4 242.2 273.7 243.3 273.7 243.3 273.9 243.3 275.3 243.1 276.9 242.6 277.6 243.3 278.4 243.8 279.6 244.4 280 244.7 281.1 245.5 281.5 246 282.5 245.5 283.1 244.7 283.7 244.4 284.5 243.3 284.5 242.2 284.1 241.1 283.6 240 283.1 238.9 283.1 238.9 282.3 237.7 281.9 236.6 281.5 235.7 281.3 235.5 280.1 234.4 280 234.3 279.3 233.3 278.6 232.2 278.4 232 277.4 231.1 276.9 230.8 276.3 230 275.6 228.9 275.3 228.5 274.8 227.8 273.7 226.7 273.7 226.7 272.7 225.6 272.2 224.7 271.9 224.4 270.7 223.3 270.6 223.2 270.4 223.3 269.1 224.4 267.9 223.3 267.5 223.1 267 222.2 265.9 221.2 265.9 221.1 264.5 220 264.4 219.9 263.6 218.9 262.9 217.8 262.8 217.6 261.5 217.8 261.3 217.9 260.9 218.9 260.4 220 259.7 220.9M642 238 642 237.7 642 237.5 642 237.7 642 238ZM652.9 231.3 652.7 231.1 652.4 230 652.3 228.9 652.4 227.8 652.9 226.7 652.9 226.6 652.9 226.7 653.4 227.8 653.5 228.9 653.4 230 653 231.1 652.9 231.3ZM657.6 222.9 656 222.8 655.6 222.2 655.2 221.1 655 220 654.7 218.9 654.5 217.9 654.4 217.8 652.9 216.9 652 217.8 651.4 218.9 651.4 219 651.1 220 650.9 221.1 650.8 222.2 650.5 223.3 649.8 224.4 649.7 224.4 648.2 225.1 646.9 224.4 646.7 224.1 646.2 223.3 645.1 222.5 644.8 223.3 644.7 224.4 644.7 225.6 645.1 226.6 645.2 226.7 645.9 227.8 646 228.9 645.8 230 645.3 231.1 645.1 231.4 644.8 231.1 644.4 230 644 228.9 643.6 228.1 642 228.5 641.5 228.9 640.8 230 640.5 231.1 640.4 231.4 640.2 232.2 639.8 233.3 638.9 234.4 638.6 234.4 637.3 235.5 637.3 235.6 637 236.6 636.8 237.7 636.5 238.9 636 240 635.8 240.3 634.2 240 634.2 239.9 634.2 240 634 241.1 634.2 242.2 634.2 242.3 634.3 243.3 634.3 244.4 634.4 245.5 635.8 246.1 636.6 245.5 637.3 244.6 637.4 244.4 637.9 243.3 638.5 242.2 638.9 241.9 639.6 242.2 640.4 242.8 640.7 243.3 641.7 244.4 642 244.5 642.1 244.4 642.8 243.3 643.5 242.2 643.6 242.1 644.5 241.1 645.1 240.8 646.7 240 646.7 240 647.3 238.9 647.7 237.7 648 236.6 648.2 236.1 649.8 235.7 650.3 236.6 650.6 237.7 650.9 238.9 651.4 239.7 651.7 240 652.9 240.5 653.5 240 654.3 238.9 654.5 238.7 654.9 237.7 655.6 236.6 656 236.3 657.6 235.8M657.6 206.6 657.5 206.7 657.2 207.8 657.3 208.9 657.6 209.7M657.6 456.9 656.1 456.1 656 456 654.5 455.8 653.7 456.1 652.9 456.3 652.4 456.1 651.4 455.6 649.8 455.9 648.2 455.7 646.7 455.7 645.1 455.7 643.6 455.5M294 417.2 292.5 417 290.9 416.9 289.3 416.8 287.8 416.6 286.2 416.5 284.7 416.3M272.2 414.6 270.6 414.3 269.2 413.9 269.1 413.9 267.5 413.6 265.9 413.2 264.6 412.8 264.4 412.8 262.8 412.3 261.3 411.8 261 411.7 259.7 411.2M259.7 425.2 261.3 425.2 262.8 425.5 264.4 425.5 265.9 425.7 267.5 425.7 269.1 425.8 270.6 425.8 272.2 425.9M621.7 464.4 623.3 464.5 624.8 464.7 626.4 464.8 628 464.9 628.1 464.9 629.5 465.1 631.1 465.2 632.6 465.4 634.2 465.5 635.8 465.7 637.3 465.9M642 466.6 643.6 466.8 645 467.1 645.1 467.2 646.7 467.2 648.2 467.9 649.8 467.9 650.8 468.3 651.4 468.5 652.9 469.1 654.5 468.9 655.1 469.4 656 470.2 656.8 470.5 657.6 470.7M442.6 392.9 443.8 393.1 445.4 393.3 446.9 393.4 448.5 393.6 450.1 393.7 451.6 393.8 453.2 393.8 454.7 393.9 456.3 393.9 457.9 394 459.4 394 461 393.9 462.6 393.9 464.1 393.8 465.7 393.7 467.2 393.6 468.8 393.5 470.4 393.4 471.9 393.2 473.5 393 474.2 392.9 475 392.8 476.6 392.6 478.2 392.3 479.7 392.1 481.2 391.8 481.3 391.8 482.8 391.5 484.4 391.2 486 390.8 486.6 390.7 487.5 390.5 489.1 390.1 490.6 389.7 491 389.6 492.2 389.2 493.8 388.8 494.7 388.5 495.3 388.3 496.9 387.8 498 387.4 498.4 387.2 500 386.7 501.1 386.2 501.6 386.1 503.1 385.5 504.1 385.1 504.7 384.9 506.2 384.3 506.9 384 507.8 383.7 509.4 383 509.5 382.9 510.9 382.3 511.9 381.8 512.5 381.5 514 380.7 514.1 380.7 515.6 379.9 516.3 379.6 517.2 379.1 518.4 378.5 518.7 378.3 520.3 377.5 520.5 377.4 521.8 376.6 522.5 376.3 523.4 375.7 524.4 375.2 525 374.8 526.1 374.1 526.5 373.8 527.8 372.9 528.1 372.8 529.6 371.8 529.6 371.8 531.2 370.8 531.3 370.7 532.8 369.7 533 369.6 534.3 368.7 534.5 368.5 535.9 367.5 536 367.4 537.4 366.3 537.5 366.3 538.9 365.2 539 365.1 540.4 364.1 540.6 363.9 541.8 363 542.1 362.7 543.2 361.9 543.7 361.5 544.6 360.8 545.3 360.2 545.8 359.6 546.8 358.8 547.1 358.5 548.3 357.4 548.4 357.4 549.5 356.3 549.9 356 550.8 355.2 551.5 354.6 552.1 354.1 553.1 353.2 553.2 353 554.3 351.9 554.6 351.6 555.4 350.8 556.2 349.9 556.4 349.7 557.5 348.6 557.7 348.4 558.7 347.5 559.3 346.8 559.8 346.3 560.9 345.3 560.9 345.2 561.8 344.1 562.4 343.4 562.7 343 563.6 341.9 564 341.5 564.6 340.8 565.5 339.8 565.6 339.7 566.6 338.6 567.1 338.1 567.6 337.5 568.4 336.4 568.7 336 569.1 335.3 569.9 334.2 570.2 333.7 570.6 333 571.5 331.9 571.8 331.7 572.4 330.8 573.3 329.7 573.3 329.6 573.7 328.6 573.7 327.5 573.3 327.2 572.7 327.5 571.8 327.8 570.4 328.6 570.2 328.7 569 329.7 568.7 330 567.8 330.8 567.1 331.4 566.5 331.9 565.5 332.7 565.2 333 564 333.9 563.7 334.2 562.4 335.1 562.2 335.3 560.9 336.3 560.7 336.4 559.4 337.5 559.3 337.6 558.2 338.6 557.7 339 556.9 339.7 556.2 340.3 555.6 340.8 554.6 341.5 554.1 341.9 553.1 342.7 552.6 343 551.5 343.9 551.2 344.1 549.9 345.1 549.8 345.2 548.4 346.3 548.4 346.4 547.1 347.5 546.8 347.6 545.6 348.6 545.3 348.8 544.1 349.7 543.7 349.9 542.5 350.8 542.1 351 541 351.9 540.6 352.2 539.5 353 539 353.3 538 354.1 537.4 354.5 536.4 355.2 535.9 355.6 534.8 356.3 534.3 356.7 533.1 357.4 532.8 357.7 531.4 358.5 531.2 358.7 529.7 359.6 529.6 359.7 528.1 360.7 528 360.8 526.5 361.7 526.3 361.9 525 362.7 524.6 363 523.4 363.7 522.7 364.1 521.8 364.6 520.8 365.2 520.3 365.4 518.8 366.3 518.7 366.3 517.2 367.2 516.8 367.4 515.6 368 514.8 368.5 514 368.9 512.7 369.6 512.5 369.7 510.9 370.5 510.5 370.7 509.4 371.2 508.1 371.8 507.8 372 506.2 372.7 505.6 372.9 504.7 373.4 503.1 374 503.1 374.1 501.6 374.7 500.4 375.2 500 375.3 498.4 375.9 497.6 376.3 496.9 376.5 495.3 377.1 494.5 377.4 493.8 377.6 492.2 378.1M423.5 377.6 422.8 377.4 422 377.1 420.4 376.5 419.7 376.3 418.9 375.9 417.3 375.3 416.9 375.2 415.7 374.7 414.2 374.1 414.2 374 412.6 373.4 411.7 372.9 411.1 372.7 409.5 371.9 409.3 371.8 407.9 371.2 406.9 370.7 406.4 370.4 404.8 369.7 404.7 369.6 403.3 368.9 402.5 368.5 401.7 368.1 400.4 367.4 400.1 367.2 398.6 366.4 398.4 366.3 397 365.5 396.5 365.2 395.5 364.6 394.6 364.1 393.9 363.6 392.8 363 392.3 362.6 391.1 361.9 390.8 361.7 389.3 360.8 389.2 360.7 387.7 359.7 387.6 359.6 386.1 358.7 385.8 358.5 384.5 357.7 384.1 357.4 383 356.7 382.4 356.3 381.4 355.6 380.8 355.2 379.9 354.5 379.3 354.1 378.3 353.4 377.8 353 376.7 352.2 376.3 351.9 375.2 351 374.8 350.8 373.6 349.9 373.3 349.7 372 348.7 371.8 348.6 370.5 347.6 370.3 347.5 368.9 346.4 368.8 346.3 367.4 345.2 367.4 345.2 366 344.1 365.8 344 364.6 343 364.2 342.7 363.3 341.9 362.7 341.4 362 340.8 361.1 340.1 360.6 339.7 359.6 338.9 359.2 338.6 358 337.7 357.7 337.5 356.4 336.5 356.3 336.4 354.9 335.3 354.9 335.2 353.5 334.2 353.3 333.9 352.2 333 351.8 332.6 351 331.9 350.2 331.2 349.7 330.8 348.6 329.9 348.4 329.7 347.1 328.8 346.8 328.6 345.5 327.9 344.5 327.5 344 327.2 343.5 327.5 343.5 328.6 343.9 329.7 344 329.7 344.9 330.8 345.5 331.8 345.7 331.9 346.6 333 347.1 333.7 347.5 334.2 348.3 335.3 348.6 335.9 349 336.4 349.8 337.5 350.2 338 350.6 338.6 351.6 339.7 351.8 339.9 352.6 340.8 353.3 341.6 353.6 341.9 354.6 343 354.9 343.3 355.7 344.1 356.4 345 356.6 345.2 357.6 346.3 358 346.8 358.6 347.5 359.6 348.6 359.6 348.6 360.7 349.7 361.1 350.1 361.9 350.8 362.7 351.5 363.1 351.9 364.2 353 364.2 353 365.4 354.1 365.8 354.5 366.6 355.2 367.4 356 367.7 356.3 368.9 357.4 368.9 357.5 370.1 358.5 370.5 358.9 371.4 359.6 372 360.2 372.8 360.8 373.6 361.4 374.2 361.9 375.2 362.6 375.6 363 376.7 363.9 377 364.1 378.3 365.1 378.4 365.2 379.8 366.3 379.9 366.4 381.2 367.4 381.4 367.6 382.7 368.5 383 368.7 384.3 369.6 384.5 369.8 386 370.7 386.1 370.8 387.7 371.8 387.7 371.8 389.2 372.8 389.5 372.9 390.8 373.8 391.2 374.1 392.3 374.7 393 375.2 393.9 375.7 394.9 376.3 395.5 376.6 396.8 377.4 397 377.5 398.6 378.4 398.8 378.5 400.1 379.2 400.9 379.6 401.7 380 403.1 380.7 403.3 380.8 404.8 381.5 405.4 381.8 406.4 382.3 407.9 382.9 407.9 382.9 409.5 383.6 410.5 384 411.1 384.3 412.6 384.9 413.3 385.1 414.2 385.5 415.7 386.1 416.2 386.2 417.3 386.7 418.9 387.2 419.2 387.4 420.4 387.8 422 388.3 422.6 388.5 423.5 388.8 425.1 389.2 426.4 389.6 426.7 389.6 428.2 390.1 429.8 390.5 430.7 390.7 431.3 390.9 432.9 391.2 434.5 391.5 435.8 391.8 436 391.8 437.6 392.1 439.1 392.4 440.7 392.6 442.3 392.9 442.6 392.9M259.7 236.9 260.9 237.7 261.3 238.1 262.8 238.6 263.9 237.7 264.3 236.6 264.4 236.3 264.7 235.5 265 234.4 265.8 233.3 265.9 233.2 266 233.3 266.4 234.4 267.3 235.5 267.5 235.7 269.1 236.4 269.3 236.6 270.3 237.7 270.6 238.1 271.6 237.7 272.1 236.6 272 235.5 271.6 234.4 270.9 233.3 270.6 232.9 270.3 232.2 269.9 231.1 269.4 230 269.1 229.4 268.6 228.9 267.5 227.8 267.5 227.8 266.6 226.7 266.1 225.6 265.9 225.3 264.4 225.1 264.2 225.6 263.8 226.7 263.5 227.8 262.9 228.9 262.8 228.9 262.8 228.9 261.9 227.8 261.3 227.1 261.1 226.7 260.4 225.6 259.7 224.8M645 236.6 645.1 237.2 645.3 236.6 645.1 236.2 645 236.6ZM647.9 231.1 648.2 232.2 649.8 231.8 650.1 231.1 650.2 230 650.1 228.9 649.8 227.8 649.8 227.7 649.7 227.8 648.2 228.5 648.1 228.9 647.9 230 647.9 231.1ZM657.6 225.2 656.9 225.6 656 226.1 655.7 226.7 655.4 227.8 655.3 228.9 655.2 230 655.1 231.1 655.2 232.2 655.4 233.3 656 233.9 657.6 234.1M657.6 458.4 657.2 458.3 656 457.7 655.1 457.2 654.5 456.9 653.7 457.2 652.9 457.4 652.5 457.2 651.4 456.6 649.8 456.8 648.2 456.6 646.7 456.4 645.1 456.5 643.6 456.2M270.6 415.1 270.5 415.1 269.1 414.7 267.5 414.5 265.9 414.1 265.3 413.9 264.4 413.7 262.8 413.4 261.3 413 260.3 412.8 259.7 412.7M259.7 423.7 260.7 423.9 261.3 424 262.8 424.4 264.4 424.5 265.9 424.8 267.5 424.8 269 425 269.1 425 270.6 425.1M642 465.9 643.6 466 643.8 466 645.1 466.4 646.7 466.4 648.2 467.1 649.8 467 650.3 467.1 651.4 467.4 652.9 468.1 654.5 467.7 655.5 468.3 656 468.6 657.6 469.3M451.4 392.9 451.6 392.9 453.2 393 454.7 393.1 456.3 393.1 457.9 393.1 459.4 393.1 461 393.1 462.6 393 464.1 393 465.4 392.9 465.7 392.9 467.2 392.8 468.8 392.7 470.4 392.5 471.9 392.3 473.5 392.2 475 391.9 476.1 391.8 476.6 391.7 478.2 391.5 479.7 391.2 481.3 390.9 482.5 390.7 482.8 390.6 484.4 390.3 486 389.9 487.4 389.6 487.5 389.5 489.1 389.1 490.6 388.7 491.5 388.5 492.2 388.2 493.8 387.8 495 387.4 495.3 387.2 496.9 386.7 498.2 386.2 498.4 386.2 500 385.6 501.3 385.1 501.6 385 503.1 384.4 504.2 384 504.7 383.8 506.2 383.2 506.8 382.9 507.8 382.5 509.2 381.8 509.4 381.7 510.9 381 511.5 380.7 512.5 380.2 513.6 379.6 514 379.4 515.6 378.6 515.8 378.5 517.2 377.7 517.8 377.4 518.7 376.9 519.8 376.3 520.3 376 521.7 375.2 521.8 375.1 523.4 374.1 523.4 374.1 525 373 525.1 372.9 526.5 372 526.7 371.8 528.1 370.9 528.4 370.7 529.6 369.9 530 369.6 531.2 368.8 531.6 368.5 532.8 367.6 533 367.4 534.3 366.3 534.3 366.3 535.6 365.2 535.9 364.9 536.9 364.1 537.4 363.6 538.2 363 539 362.3 539.6 361.9 540.6 361 540.8 360.8 541.9 359.6 542.1 359.4 542.9 358.5 543.7 357.6 543.8 357.4 544.6 356.3 545.3 355.6 545.6 355.2 546.3 354.1 545.3 353.3 543.7 354 543.5 354.1 542.1 354.9 541.7 355.2 540.6 355.8 539.7 356.3 539 356.7 537.6 357.4 537.4 357.5 535.9 358.3 535.6 358.5 534.3 359.2 533.6 359.6 532.8 360.1 531.7 360.8 531.2 361.1 529.9 361.9 529.6 362 528.1 362.9 528 363 526.5 363.8 526 364.1 525 364.6 523.9 365.2 523.4 365.5 521.8 366.3 521.8 366.3 520.3 367.1 519.7 367.4 518.7 367.9 517.5 368.5 517.2 368.7 515.6 369.5 515.4 369.6 514 370.3 513.1 370.7 512.5 371 510.9 371.7 510.7 371.8 509.4 372.4 508.1 372.9 507.8 373.1 506.2 373.7 505.5 374.1 504.7 374.4 503.1 375 502.7 375.2 501.6 375.6 500 376.2 499.9 376.3 498.4 376.8 496.9 377.3 496.8 377.4 495.3 377.9 493.8 378.3M422 377.9 420.5 377.4 420.4 377.3 418.9 376.8 417.4 376.3 417.3 376.2 415.7 375.6 414.5 375.2 414.2 375 412.6 374.4 411.8 374.1 411.1 373.7 409.5 373.1 409.2 372.9 407.9 372.4 406.7 371.8 406.4 371.7 404.8 370.9 404.3 370.7 403.3 370.2 402 369.6 401.7 369.5 400.1 368.7 399.7 368.5 398.6 367.9 397.5 367.4 397 367.2 395.5 366.3 395.4 366.3 393.9 365.5 393.3 365.2 392.3 364.6 391.3 364.1 390.8 363.8 389.4 363 389.2 362.8 387.7 361.9 387.5 361.9 386.1 361 385.6 360.8 384.5 360.1 383.7 359.6 383 359.2 381.8 358.5 381.4 358.3 379.9 357.4 379.8 357.4 378.3 356.6 377.6 356.3 376.7 355.8 375.5 355.2 375.2 355 373.6 354.2 373 354.1 372 353.8 371.7 354.1 371.9 355.2 372 355.5 372.6 356.3 373.3 357.4 373.6 357.8 374.3 358.5 375.2 359.5 375.3 359.6 376.5 360.8 376.7 361 377.8 361.9 378.3 362.3 379.1 363 379.9 363.6 380.4 364.1 381.4 364.9 381.7 365.2 383 366.3 383 366.3 384.4 367.4 384.5 367.5 385.8 368.5 386.1 368.7 387.3 369.6 387.7 369.9 388.8 370.7 389.2 371 390.5 371.8 390.8 372 392.2 372.9 392.3 373 393.9 374 394 374.1 395.5 375 395.8 375.2 397 375.9 397.6 376.3 398.6 376.8 399.5 377.4 400.1 377.7 401.4 378.5 401.7 378.6 403.3 379.5 403.5 379.6 404.8 380.3 405.7 380.7 406.4 381 407.9 381.7 408.1 381.8 409.5 382.4 410.6 382.9 411.1 383.1 412.6 383.8 413.2 384 414.2 384.4 415.7 385 416.1 385.1 417.3 385.6 418.9 386.2 419.1 386.2 420.4 386.7 422 387.2 422.3 387.4 423.5 387.7 425.1 388.2 425.9 388.5 426.7 388.7 428.2 389.1 429.8 389.5 430 389.6 431.3 389.9 432.9 390.3 434.5 390.6 434.8 390.7 436 390.9 437.6 391.2 439.1 391.5 440.7 391.8 440.9 391.8 442.3 392 443.8 392.2 445.4 392.4 446.9 392.6 448.5 392.7 450.1 392.8 451.4 392.9M259.7 234.4 259.9 234.4 261 233.3 260.9 232.2 260.6 231.1 260.3 230 259.9 228.9 259.7 228.5M657.6 228.5 657.4 228.9 657.1 230 657.4 231.1 657.6 231.3M657.6 460.2 656 459.8 655.8 459.4 654.6 458.3 654.5 458.2 654.1 458.3 652.9 458.6 652.4 458.3 651.4 457.8 649.8 457.6 648.2 457.6 646.9 457.2 646.7 457.1 645.8 457.2 645.1 457.2 645 457.2 643.6 456.8M272.2 416 270.6 415.8 269.1 415.5 267.5 415.3 266 415.1 265.9 415 264.4 414.8 262.8 414.7 261.3 414.3 259.7 414.5M259.7 421.9 261.3 422.6 261.7 422.8 262.8 423.2 264.4 423.5 265.9 423.8 266.7 423.9 267.5 424 269.1 424.2 270.6 424.4 272.2 424.5 273.7 424.7M643.6 465.2 645.1 465.7 646.7 465.6 647.9 466 648.2 466.2 649.8 466.2 651.4 466.3 652.9 467 654.5 466.4 656 466.6 656.7 467.1 657.6 467.6M447 391.8 448.5 391.9 450.1 392.1 451.6 392.2 453.2 392.3 454.7 392.3 456.3 392.4 457.9 392.4 459.4 392.4 461 392.4 462.6 392.3 464.1 392.2 465.7 392.1 467.2 392 468.8 391.9 469.9 391.8 470.4 391.7 471.9 391.6 473.5 391.4 475 391.2 476.6 391 478.2 390.7 478.3 390.7 479.7 390.4 481.3 390.1 482.8 389.8 483.9 389.6 484.4 389.5 486 389.1 487.5 388.7 488.3 388.5 489.1 388.3 490.6 387.8 492.1 387.4 492.2 387.3 493.8 386.8 495.3 386.3 495.4 386.2 496.9 385.7 498.4 385.2 498.6 385.1 500 384.6 501.5 384 501.6 384 503.1 383.4 504.2 382.9 504.7 382.7 506.2 382 506.6 381.8 507.8 381.2 508.8 380.7 509.4 380.4 510.9 379.6 511 379.6 512.5 378.8 513 378.5 514 377.9 515.1 377.4 515.6 377 517 376.3 517.2 376.2 518.7 375.2 518.8 375.2 520.3 374.1 520.4 374.1 521.8 373 521.9 372.9 523.4 371.8 523.4 371.8 524.8 370.7 525 370.6 526.1 369.6 526.5 369.2 527.3 368.5 528.1 367.6 528.3 367.4 528.1 366.6 526.5 366.7 525 367.1 524.3 367.4 523.4 367.8 521.8 368.4 521.6 368.5 520.3 369.1 519.1 369.6 518.7 369.8 517.2 370.5 516.5 370.7 515.6 371.1 514 371.8 513.8 371.8 512.5 372.4 511 372.9 510.9 373 509.4 373.6 508.2 374.1 507.8 374.2 506.2 374.8 505.4 375.2 504.7 375.4 503.1 376 502.4 376.3 501.6 376.6 500 377.1 499.3 377.4 498.4 377.7 496.9 378.2 495.8 378.5 495.3 378.6 493.8 379.1 492.2 379.5M423.5 379.1 422 378.6 421.5 378.5 420.4 378.2 418.9 377.7 418 377.4 417.3 377.1 415.7 376.6 414.8 376.3 414.2 376 412.6 375.5 411.8 375.2 411.1 374.9 409.5 374.3 409 374.1 407.9 373.6 406.4 373 406.3 372.9 404.8 372.4 403.6 371.8 403.3 371.7 401.7 371 401 370.7 400.1 370.4 398.6 369.7 398.4 369.6 397 369.1 395.7 368.5 395.5 368.4 393.9 367.8 392.7 367.4 392.3 367.3 390.8 366.9 389.2 367.3 389.2 367.4 389.2 367.5 390 368.5 390.8 369.3 391 369.6 392.3 370.7 392.3 370.7 393.8 371.8 393.9 371.9 395.4 372.9 395.5 373 397 374 397 374.1 398.6 375.1 398.7 375.2 400.1 376.1 400.4 376.3 401.7 377 402.2 377.4 403.3 378 404.1 378.5 404.8 378.8 406.2 379.6 406.4 379.7 407.9 380.5 408.4 380.7 409.5 381.2 410.7 381.8 411.1 382 412.6 382.7 413.2 382.9 414.2 383.3 415.7 384 415.9 384 417.3 384.6 418.8 385.1 418.9 385.2 420.4 385.7 421.9 386.2 422 386.3 423.5 386.8 425.1 387.3 425.3 387.4 426.7 387.8 428.2 388.2 429.1 388.5 429.8 388.6 431.3 389 432.9 389.4 433.6 389.6 434.5 389.8 436 390.1 437.6 390.4 439 390.7 439.1 390.7 440.7 391 442.3 391.2 443.8 391.4 445.4 391.6 446.9 391.8 447 391.8M647.4 464.9 648.2 465.1 649.8 465.2 651.2 464.9 651.4 464.9 651.5 464.9 652.9 465.7 654.3 464.9 654.5 464.8 655.4 463.8 655.6 462.7 655.4 461.6 655 460.5 654.5 459.8 652.9 459.9 651.9 459.4 651.4 459.1 649.8 458.6 648.2 458.6 647.6 458.3 646.7 457.9 645.1 458 643.6 457.6 642 457.6 640.4 457.2M273.7 417 272.2 416.7 270.6 416.6 269.1 416.4 267.5 416.2 266.8 416.2 265.9 416.1 264.4 415.9 262.9 416.2 262.8 416.2 262.7 416.2 261.3 416.1 261.1 416.2 260.1 417.3 259.9 418.4 260.2 419.5 260.9 420.6 261.3 420.9 262.8 421.6 263 421.7 264.4 422.3 265.9 422.7 266.2 422.8 267.5 423.1 269.1 423.3 270.6 423.6 272.2 423.8 272.8 423.9 273.7 424.1M640.4 464.1 642 464.5 643.6 464.4 645.1 464.9 646.7 464.7 647.4 464.9M657.6 463.6 657.5 463.8 657.6 464.3M443.8 390.7 443.8 390.7 445.4 390.9 446.9 391.1 448.5 391.2 450.1 391.3 451.6 391.5M475 390.5 476.6 390.2 478.2 390 479.7 389.7 480.2 389.6 481.3 389.3 482.8 389 484.4 388.6 485.1 388.5 486 388.2 487.5 387.8 489.1 387.4 489.1 387.4 490.6 386.9 492.2 386.4 492.6 386.2 493.8 385.8 495.3 385.3 495.8 385.1 496.9 384.7 498.4 384.1 498.7 384 500 383.5 501.4 382.9 501.6 382.9 503.1 382.1 503.8 381.8 504.7 381.3 506 380.7 506.2 380.5 507.8 379.7 508 379.6 509.4 378.7 509.8 378.5 510.9 377.8 511.6 377.4 512.5 376.7 513.2 376.3 514 375.5 514.5 375.2 514 374.1 512.5 374.4 510.9 374.8 509.4 375.2 509.4 375.2 507.8 375.7 506.2 376.2 505.9 376.3 504.7 376.7 503.1 377.2 502.5 377.4 501.6 377.7 500 378.2 498.8 378.5 498.4 378.6 496.9 379.1 495.3 379.5 494.8 379.6 493.8 379.9 492.2 380.3 490.6 380.7 490.5 380.7 489.1 381.1 487.5 381.4M428.2 381.1 426.8 380.7 426.7 380.7 425.1 380.3 423.5 379.9 422.5 379.6 422 379.5 420.4 379.1 418.9 378.6 418.5 378.5 417.3 378.2 415.7 377.7 414.8 377.4 414.2 377.2 412.6 376.8 411.2 376.3 411.1 376.2 409.5 375.8 407.9 375.3 407.5 375.2 406.4 374.9 404.8 374.6 403.3 375 403.2 375.2 403.3 375.2 404.3 376.3 404.8 376.6 405.8 377.4 406.4 377.8 407.4 378.5 407.9 378.8 409.2 379.6 409.5 379.7 411.1 380.6 411.2 380.7 412.6 381.4 413.5 381.8 414.2 382.1 415.7 382.8 415.9 382.9 417.3 383.5 418.6 384 418.9 384.1 420.4 384.7 421.5 385.1 422 385.3 423.5 385.8 424.7 386.2 425.1 386.4 426.7 386.9 428.2 387.3 428.2 387.4 429.8 387.8 431.3 388.2 432.4 388.5 432.9 388.6 434.5 389 436 389.3 437.3 389.6 437.6 389.6 439.1 389.9 440.7 390.2 442.3 390.5 443.8 390.7M644.5 463.8 645.1 464 646.3 463.8 646.7 463.7 647.7 463.8 648.2 463.9 649.8 464 650.1 463.8 651.1 462.7 651.2 461.6 650.7 460.5 649.8 459.8 648.2 460 647.6 459.4 646.7 458.9 645.1 459 643.6 458.3 642 458.4 641.7 458.3 640.4 458 638.9 457.9 637.3 457.6M276.9 418.1 275.3 417.9 273.7 417.8 272.2 417.6 270.6 417.5 269.1 417.4 267.5 417.3 265.9 417.7 264.4 417.7 263.7 418.4 263.6 419.5 264.4 420.6 264.4 420.6 265.9 421.2 266.8 421.7 267.5 422 269.1 422.3 270.6 422.8 270.8 422.8 272.2 423 273.7 423.3 275.3 423.4 276.9 423.7 278.4 423.9M635.8 463.1 637.3 463.1 638.9 463.4 640.4 463.4 642 463.7 643.6 463.5 644.5 463.8M450.5 390.7 451.6 390.8 453.2 390.9 454.7 390.9 456.3 391 457.9 391 459.4 391M468.8 390.5 470.4 390.3 471.9 390.2 473.5 390 475 389.7 476.1 389.6 476.6 389.5 478.2 389.2 479.7 388.9 481.3 388.5 481.7 388.5 482.8 388.2 484.4 387.8 486 387.4 486 387.4 487.5 386.9 489.1 386.4 489.5 386.2 490.6 385.8 492.2 385.3 492.7 385.1 493.8 384.7 495.3 384.1 495.6 384 496.9 383.4 498.2 382.9 498.4 382.7 500 382 500.3 381.8 501.6 380.9 502 380.7 502.5 379.6 501.6 379.5 500 379.6 499.9 379.6 498.4 379.9 496.9 380.2 495.3 380.5 494.4 380.7 493.8 380.9 492.2 381.2 490.6 381.5 489.2 381.8 489.1 381.9 487.5 382.2 486 382.5 484.4 382.8 483.7 382.9 482.8 383.1 481.3 383.4 479.7 383.6M434.5 383.1 433.8 382.9 432.9 382.8 431.3 382.5 429.8 382.2 428.2 381.8 428.1 381.8 426.7 381.6 425.1 381.2 423.5 380.9 422.9 380.7 422 380.5 420.4 380.2 418.9 379.9 417.5 379.6 417.3 379.6 415.7 379.4 414.2 379.6 415.2 380.7 415.7 381 416.9 381.8 417.3 382 418.9 382.7 419.1 382.9 420.4 383.4 421.7 384 422 384.1 423.5 384.7 424.6 385.1 425.1 385.3 426.7 385.8 427.8 386.2 428.2 386.4 429.8 386.8 431.3 387.3 431.5 387.4 432.9 387.7 434.5 388.1 435.9 388.5 436 388.5 437.6 388.8 439.1 389.1 440.7 389.4 441.4 389.6 442.3 389.7 443.8 389.9 445.4 390.1 446.9 390.3 448.5 390.5 450.1 390.6 450.5 390.7M641.7 462.7 642 462.8 642.4 462.7 643.6 462.3 645.1 462.6 646.7 462 647.1 461.6 646.8 460.5 646.7 460.4 645.1 460.4 643.6 459.5 643.1 459.4 642 459.3 640.4 458.9 638.9 458.8 637.3 458.3 636 458.3 635.8 458.3 634.2 458 632.6 457.9 631.1 457.7 629.5 457.6M294 420.3 292.5 420.2 290.9 420.1 289.3 419.9 287.8 419.8 286.2 419.6 285.1 419.5 284.7 419.4 283.1 419.3 281.5 419.2 280 419.1 278.4 419 276.9 418.9 275.3 418.7 273.7 418.8 272.2 418.7 270.6 418.8 269.1 419.4 268.4 419.5 269.1 420.3 269.1 420.6 270.6 421.6 271.1 421.7 272.2 421.9 273.7 422.3 275.3 422.6 276.2 422.8 276.9 422.9 278.4 423.1 280 423.3 281.5 423.5 283.1 423.7 284.7 423.9M620.2 461.1 621.7 461.3 623.3 461.4 624.8 461.5 626.3 461.6 626.4 461.6 628 461.8 629.5 461.9 631.1 462 632.6 462.1 634.2 462.1 635.8 462.4 637.3 462.3 638.9 462.6 640.4 462.4 641.7 462.7M446.9 389.6 446.9 389.6 448.5 389.7 450.1 389.9 451.6 390 453.2 390.1 454.7 390.2 456.3 390.2 457.9 390.2 459.4 390.2 461 390.2 462.6 390.2 464.1 390.1 465.7 390 467.2 389.9 468.8 389.8 470.4 389.6 470.7 389.6 471.9 389.4 473.5 389.1 475 388.9 476.6 388.6 477.6 388.5 478.2 388.3 479.7 387.9 481.3 387.6 482.2 387.4 482.8 387.1 484.4 386.6 485.8 386.2 486 386.2 487.5 385.5 488.7 385.1 489.1 384.9 490.6 384.2 491 384 490.6 383.2 489.1 383.2 487.5 383.4 486 383.6 484.4 383.8 482.8 384 482.3 384 481.3 384.2 479.7 384.4 478.2 384.6 476.6 384.8 475 384.9 473.5 385.1 472.6 385.1M443.8 385 442.3 384.9 440.7 384.8 439.1 384.6 437.6 384.4 436 384.1 435.5 384 434.5 383.9 432.9 383.7 431.3 383.6 429.8 383.4 428.2 383.2 426.7 382.9 426.7 382.9 426.6 382.9 426.1 384 426.7 384.2 428.2 385 428.4 385.1 429.8 385.6 431.3 386.2 431.5 386.2 432.9 386.6 434.5 387.1 435.3 387.4 436 387.5 437.6 387.9 439.1 388.2 440 388.5 440.7 388.6 442.3 388.8 443.8 389.1 445.4 389.3 446.9 389.6M621.3 460.5 621.7 460.5 623.3 460.6 624.8 460.7 626.4 460.8 628 460.9 629.5 460.9 631.1 461 632.6 461.1 634.2 461.1 635.8 461.2 637.3 460.9 638.9 460.9 639.5 460.5 638.9 460.3 637.3 459.7 636.4 459.4 635.8 459.3 634.2 459 632.6 458.9 631.1 458.5 629.5 458.4 629.1 458.3 628 458.2 626.4 458 624.8 457.9 623.3 457.8 621.7 457.6 620.2 457.5 618.6 457.3 617.6 457.2 617 457.1 615.5 457 613.9 456.9 612.3 456.8 610.8 456.6 609.2 456.5 607.7 456.3 606.1 456.1 606.1 456.1 604.5 455.9 603 455.8 601.4 455.7 599.9 455.5 598.3 455.3 596.7 455.1 595.8 455 595.2 454.9 593.6 454.8 592.1 454.6 590.5 454.4 588.9 454.3 587.4 454.1 586 453.8 585.8 453.8 584.3 453.7 582.7 453.5 581.1 453.4 579.6 453.2 578 453 576.5 452.8 576.3 452.7 574.9 452.6 573.3 452.5 571.8 452.3 570.2 452.1 568.7 451.9 567.1 451.7 566.6 451.6 565.5 451.5 564 451.4 562.4 451.2 560.9 451.1 559.3 450.9 557.7 450.7 556.9 450.5 556.2 450.5 554.6 450.3 553.1 450.2 551.5 450 549.9 449.8 548.4 449.6 547.2 449.4 546.8 449.4 545.3 449.2 543.7 449.1 542.1 448.9 540.6 448.7 539 448.5 537.5 448.3 537.4 448.3 535.9 448.2 534.3 448 532.8 447.8 531.2 447.7 529.6 447.5 528.1 447.3 527.7 447.2 526.5 447.1 525 446.9 523.4 446.8 521.8 446.6 520.3 446.4 518.7 446.2 518 446.1 517.2 446 515.6 445.9 514 445.7 512.5 445.5 510.9 445.4 509.4 445.1 508.3 445 507.8 444.9 506.2 444.8 504.7 444.6 503.1 444.5 501.6 444.3 500 444.1 498.6 443.9 498.4 443.9 496.9 443.7 495.3 443.6 493.8 443.4 492.2 443.2 490.6 443 489.1 442.8 488.9 442.8 487.5 442.6 486 442.5 484.4 442.3 482.8 442.2 481.3 442 479.7 441.8 479.1 441.7 478.2 441.6 476.6 441.4 475 441.3 473.5 441.1 471.9 440.9 470.4 440.7 469.6 440.5 468.8 440.5 467.2 440.3 465.7 440.2 464.1 440 462.6 439.8 461 439.6 460 439.4 459.4 439.4 457.9 439.2 456.3 439.1 454.7 438.9 453.2 438.8 451.6 438.6 450.2 438.3 450.1 438.3 448.5 438.2 446.9 438 445.4 437.9 443.8 437.7 442.3 437.5 440.7 437.3 440.4 437.2 439.1 437.1 437.6 437 436 436.8 434.5 436.6 432.9 436.4 431.3 436.2 430.7 436.1 429.8 436 428.2 435.9 426.7 435.7 425.1 435.6 423.5 435.4 422 435.2 420.9 435 420.4 435 418.9 434.8 417.3 434.7 415.7 434.5 414.2 434.3 412.6 434.1 411.2 433.9 411.1 433.9 409.5 433.7 407.9 433.6 406.4 433.4 404.8 433.3 403.3 433.1 401.7 432.8 401.5 432.8 400.1 432.7 398.6 432.5 397 432.4 395.5 432.2 393.9 432 392.3 431.8 391.7 431.7 390.8 431.6 389.2 431.4 387.7 431.3 386.1 431.1 384.5 430.9 383 430.7 382 430.6 381.4 430.5 379.9 430.4 378.3 430.2 376.7 430.1 375.2 429.9 373.6 429.7 372.3 429.5 372 429.4 370.5 429.3 368.9 429.1 367.4 429 365.8 428.8 364.2 428.6 362.7 428.4 362.6 428.4 361.1 428.2 359.6 428.1 358 427.9 356.4 427.7 354.9 427.5 353.3 427.3 352.9 427.2 351.8 427.1 350.2 427 348.6 426.8 347.1 426.7 345.5 426.5 344 426.3 343.2 426.1 342.4 426.1 340.8 425.9 339.3 425.8 337.7 425.6 336.2 425.4 334.6 425.2 333.5 425 333 425 331.5 424.8 329.9 424.7 328.4 424.5 326.8 424.4 325.2 424.2 323.7 423.9 323.7 423.9 322.1 423.8 320.6 423.6 319 423.5 317.4 423.3 315.9 423.1 314.3 422.9 313.7 422.8 312.8 422.7 311.2 422.6 309.6 422.5 308.1 422.3 306.5 422.2 305 422 303.4 421.8 302.4 421.7 301.8 421.7 300.3 421.6 298.7 421.4 297.1 421.3 295.6 421.2 294 421.1 292.5 421 290.9 420.8 289.3 420.6 289.1 420.6 287.8 420.5 286.2 420.5 284.7 420.3 283.1 420.2 281.5 420.2 280 420.1 278.4 420.1 276.9 420.3 275.3 420.4 274.8 420.6 275.3 420.8 276.9 421.5 277 421.7 278.4 422.1 280 422.2 281.5 422.6 282.4 422.8 283.1 422.9 284.7 423 286.2 423.2 287.8 423.4 289.3 423.5 290.9 423.7 292.2 423.9 292.5 423.9 294 424 295.6 424.1 297.1 424.3 298.7 424.4 300.3 424.5 301.8 424.7 303.4 424.8 304.9 425 305 425 306.5 425.2 308.1 425.3 309.6 425.4 311.2 425.6 312.8 425.7 314.3 425.9 315.9 426.1 315.9 426.1 317.4 426.3 319 426.4 320.6 426.6 322.1 426.7 323.7 426.9 325.2 427.2 325.8 427.2 326.8 427.3 328.4 427.5 329.9 427.6 331.5 427.8 333 428 334.6 428.2 335.6 428.4 336.2 428.4 337.7 428.6 339.3 428.7 340.8 428.9 342.4 429.1 344 429.3 345.3 429.5 345.5 429.5 347.1 429.6 348.6 429.8 350.2 429.9 351.8 430.1 353.3 430.3 354.9 430.6 355 430.6 356.4 430.7 358 430.9 359.6 431 361.1 431.2 362.7 431.4 364.2 431.6 364.7 431.7 365.8 431.8 367.4 431.9 368.9 432.1 370.5 432.3 372 432.4 373.6 432.7 374.4 432.8 375.2 432.9 376.7 433 378.3 433.2 379.9 433.3 381.4 433.5 383 433.7 384.1 433.9 384.5 433.9 386.1 434.1 387.7 434.2 389.2 434.4 390.8 434.6 392.3 434.8 393.8 435 393.9 435 395.5 435.2 397 435.3 398.6 435.5 400.1 435.6 401.7 435.8 403.3 436.1 403.5 436.1 404.8 436.2 406.4 436.4 407.9 436.5 409.5 436.7 411.1 436.9 412.6 437.1 413.3 437.2 414.2 437.3 415.7 437.5 417.3 437.6 418.9 437.8 420.4 438 422 438.2 423 438.3 423.5 438.4 425.1 438.5 426.7 438.7 428.2 438.8 429.8 439 431.3 439.2 432.7 439.4 432.9 439.5 434.5 439.6 436 439.8 437.6 439.9 439.1 440.1 440.7 440.3 442.3 440.5 442.3 440.5 443.8 440.7 445.4 440.8 446.9 441 448.5 441.2 450.1 441.4 451.6 441.6 452.1 441.7 453.2 441.8 454.7 441.9 456.3 442.1 457.9 442.2 459.4 442.4 461 442.6 461.9 442.8 462.6 442.8 464.1 443 465.7 443.1 467.2 443.3 468.8 443.4 470.4 443.7 471.7 443.9 471.9 443.9 473.5 444 475 444.2 476.6 444.4 478.2 444.5 479.7 444.7 481.2 445 481.3 445 482.8 445.1 484.4 445.3 486 445.4 487.5 445.6 489.1 445.8 490.6 446 490.9 446.1 492.2 446.2 493.8 446.3 495.3 446.5 496.9 446.7 498.4 446.9 500 447.1 500.7 447.2 501.6 447.3 503.1 447.4 504.7 447.6 506.2 447.7 507.8 447.9 509.4 448.1 510.4 448.3 510.9 448.4 512.5 448.5 514 448.6 515.6 448.8 517.2 449 518.7 449.2 520.1 449.4 520.3 449.4 521.8 449.6 523.4 449.7 525 449.9 526.5 450.1 528.1 450.3 529.6 450.5 529.8 450.5 531.2 450.6 532.8 450.8 534.3 451 535.9 451.1 537.4 451.3 539 451.5 539.6 451.6 540.6 451.7 542.1 451.9 543.7 452 545.3 452.2 546.8 452.4 548.4 452.6 549.3 452.7 549.9 452.8 551.5 452.9 553.1 453.1 554.6 453.3 556.2 453.4 557.7 453.6 559 453.8 559.3 453.9 560.9 454 562.4 454.2 564 454.3 565.5 454.5 567.1 454.7 568.7 454.9 568.7 455 570.2 455.1 571.8 455.2 573.3 455.4 574.9 455.6 576.5 455.8 578 456 578.4 456.1 579.6 456.2 581.1 456.3 582.7 456.5 584.3 456.6 585.8 456.8 587.4 457.1 588.1 457.2 588.9 457.2 590.5 457.4 592.1 457.5 593.6 457.7 595.2 457.9 596.7 458.1 597.9 458.3 598.3 458.3 599.9 458.5 601.4 458.6 603 458.7 604.5 458.9 606.1 459.1 607.7 459.3 608.4 459.4 609.2 459.5 610.8 459.6 612.3 459.7 613.9 459.8 615.5 460 617 460.1 618.6 460.2 620.2 460.4 621.3 460.5ZM446 388.5 446.9 388.6 448.5 388.8 450.1 388.9 451.6 389.1 453.2 389.2 454.7 389.3 456.3 389.4 457.9 389.4 459.4 389.4 461 389.4 462.6 389.3 464.1 389.2 465.7 389.1 467.2 389 468.8 388.8 470.4 388.6 471.8 388.5 471.9 388.4 473.5 388 475 387.7 476.6 387.4 476.9 387.4 478.2 386.6 479.5 386.2 478.2 386 476.6 386 475 386 473.5 386 471.9 386.1 470.4 386.2 468.8 386.2 468 386.2 467.2 386.3 465.7 386.4 464.1 386.5 462.6 386.5 461 386.5 459.4 386.6 457.9 386.6 456.3 386.5 454.7 386.5 453.2 386.5 451.6 386.4 450.1 386.3 449.3 386.2 448.5 386.2 446.9 386.2 445.4 386.1 443.8 386 442.3 386 440.7 386 439.1 386 437.8 386.2 439.1 386.6 440.7 387.4 440.7 387.4 442.3 387.6 443.8 387.9 445.4 388.3 446 388.5Z"/>
<path stroke-width="0.85" d="M473.7 380.7 473.5 380.7 471.9 381 470.4 381.2 468.8 381.4 467.2 381.6 465.7 381.7 464.6 381.8 464.1 381.8 462.6 381.9 461 382 459.4 382 457.9 382 456.3 382 454.7 381.9 453.2 381.8 452.7 381.8 451.6 381.7 450.1 381.6 448.5 381.4 446.9 381.2 445.4 381 443.8 380.8 443.4 380.7 442.3 380.5M635.8 454 634.2 454 632.6 453.8 631.1 453.8 631 453.8 629.5 453.7 628 453.6 626.4 453.5 624.8 453.4 623.3 453.2 621.7 453.1 620.2 452.9 618.6 452.8 617.8 452.7 617 452.6M276.9 427.4 278.4 427.4 280 427.5 281.5 427.6 283.1 427.6 284.7 427.7 286.2 427.8 287.8 427.9 289.3 428 290.9 428.1 292.5 428.2 294 428.4 294 428.4 295.6 428.5 297.1 428.7 298.7 428.9M482.8 379.4 482.2 379.6 481.3 379.8 479.7 380.1 478.2 380.5 477.2 380.7 476.6 380.8 475 381.1 473.5 381.3 471.9 381.6 470.4 381.8 470.4 381.8 468.8 382 467.2 382.1 465.7 382.3 464.1 382.4 462.6 382.4 461 382.5 459.4 382.5 457.9 382.5 456.3 382.5 454.7 382.4 453.2 382.3 451.6 382.2 450.1 382.1 448.5 382 446.9 381.8 446.8 381.8 445.4 381.6 443.8 381.4 442.3 381.1 440.7 380.8 439.9 380.7 439.1 380.5 437.6 380.2 436 379.8 435 379.6 434.5 379.4 432.9 379M642 454.9 640.4 454.8 638.9 454.8 637.3 454.7 635.8 454.6 634.2 454.6 632.6 454.4 631.1 454.4 629.5 454.3 628 454.2 626.4 454.1 624.8 454 623.3 453.9 622.9 453.8 621.7 453.7 620.2 453.6 618.6 453.4 617 453.3 615.5 453.1 613.9 453 612.3 452.8 611.7 452.7 610.8 452.6 609.2 452.4 607.7 452.2 606.1 452.1 604.5 451.9 603 451.7 602 451.6 601.4 451.5 599.9 451.3 598.3 451.1 596.7 451 595.2 450.8 593.6 450.6 592.5 450.5 592.1 450.5 590.5 450.3 588.9 450.1 587.4 449.9 585.8 449.7 584.3 449.6 582.8 449.4 582.7 449.4 581.1 449.2 579.6 449 578 448.8 576.5 448.7 574.9 448.5 573.3 448.3 573 448.3 571.8 448.1 570.2 447.9 568.7 447.8 567.1 447.6 565.5 447.4 564 447.3 563.3 447.2 562.4 447.1 560.9 446.9 559.3 446.7 557.7 446.5 556.2 446.3 554.6 446.2 553.6 446.1 553.1 446 551.5 445.8 549.9 445.6 548.4 445.4 546.8 445.3 545.3 445.1 543.9 445 543.7 445 542.1 444.7 540.6 444.6 539 444.4 537.4 444.2 535.9 444 534.3 443.9 534.2 443.9 532.8 443.7 531.2 443.5 529.6 443.3 528.1 443.1 526.5 443 525 442.8 524.5 442.8 523.4 442.6 521.8 442.4 520.3 442.2 518.7 442.1 517.2 441.9 515.6 441.7 514.8 441.7 514 441.6 512.5 441.4 510.9 441.2 509.4 441 507.8 440.8 506.2 440.7 505.1 440.5 504.7 440.5 503.1 440.3 501.6 440.1 500 439.9 498.4 439.8 496.9 439.6 495.3 439.4 495.3 439.4 493.8 439.2 492.2 439 490.6 438.9 489.1 438.7 487.5 438.5 486 438.4 485.7 438.3 484.4 438.2 482.8 438 481.3 437.8 479.7 437.6 478.2 437.4 476.6 437.3 476 437.2 475 437.1 473.5 436.9 471.9 436.7 470.4 436.6 468.8 436.4 467.2 436.2 466 436.1 465.7 436.1 464.1 435.9 462.6 435.7 461 435.5 459.4 435.3 457.9 435.2 456.3 435 456.3 435 454.7 434.8 453.2 434.6 451.6 434.4 450.1 434.3 448.5 434.1 446.9 433.9 446.6 433.9 445.4 433.7 443.8 433.5 442.3 433.4 440.7 433.2 439.1 433 437.6 432.9 437 432.8 436 432.7 434.5 432.5 432.9 432.3 431.3 432.1 429.8 431.9 428.2 431.8 427.3 431.7 426.7 431.6 425.1 431.4 423.5 431.2 422 431 420.4 430.9 418.9 430.7 417.6 430.6 417.3 430.5 415.7 430.3 414.2 430.1 412.6 430 411.1 429.8 409.5 429.6 407.9 429.5 407.9 429.5 406.4 429.3 404.8 429.1 403.3 428.9 401.7 428.7 400.1 428.6 398.6 428.4 398.2 428.4 397 428.2 395.5 428 393.9 427.8 392.3 427.6 390.8 427.5 389.2 427.3 388.5 427.2 387.7 427.1 386.1 426.9 384.5 426.8 383 426.6 381.4 426.4 379.9 426.2 378.8 426.1 378.3 426.1 376.7 425.9 375.2 425.7 373.6 425.5 372 425.3 370.5 425.2 369 425 368.9 425 367.4 424.8 365.8 424.6 364.2 424.4 362.7 424.3 361.1 424.1 359.6 423.9 359.3 423.9 358 423.7 356.4 423.6 354.9 423.4 353.3 423.2 351.8 423 350.2 422.9 349.6 422.8 348.6 422.7 347.1 422.5 345.5 422.3 344 422.1 342.4 422 340.8 421.8 339.9 421.7 339.3 421.6 337.7 421.4 336.2 421.2 334.6 421.1 333 420.9 331.5 420.7 330.2 420.6 329.9 420.6 328.4 420.4 326.8 420.2 325.2 420 323.7 419.8 322.1 419.7 320.6 419.5 320.5 419.5 319 419.3 317.4 419.1 315.9 418.9 314.3 418.7 312.8 418.6 311.2 418.4 310.9 418.4 309.6 418.2M273.7 426.6 275.3 426.7 276.9 426.8 278.4 426.8 280 426.9 281.5 426.9 283.1 427 284.7 427.1 286.2 427.2 287.5 427.2 287.8 427.3 289.3 427.4 290.9 427.5 292.5 427.7 294 427.8 295.6 427.9 297.1 428.1 298.7 428.2 300.1 428.4 300.3 428.4 301.8 428.6 303.4 428.7 305 428.9 306.5 429.1 308.1 429.3 309.6 429.4 310 429.5 311.2 429.6 312.8 429.8 314.3 430 315.9 430.2 317.4 430.4 319 430.5 319.5 430.6 320.6 430.7 322.1 430.9 323.7 431.1 325.2 431.3 326.8 431.4 328.4 431.6 329.1 431.7 329.9 431.8 331.5 432 333 432.2 334.6 432.3 336.2 432.5 337.7 432.7 338.8 432.8 339.3 432.9 340.8 433.1 342.4 433.2 344 433.4 345.5 433.6 347.1 433.7 348.5 433.9 348.6 433.9 350.2 434.1 351.8 434.3 353.3 434.5 354.9 434.7 356.4 434.8 358 435 358.3 435 359.6 435.2 361.1 435.4 362.7 435.6 364.2 435.7 365.8 435.9 367.4 436.1 367.9 436.1 368.9 436.2 370.5 436.4 372 436.6 373.6 436.8 375.2 437 376.7 437.1 377.7 437.2 378.3 437.3 379.9 437.5 381.4 437.7 383 437.9 384.5 438 386.1 438.2 387.4 438.3 387.7 438.4 389.2 438.6 390.8 438.8 392.3 438.9 393.9 439.1 395.5 439.3 397 439.4 397.1 439.4 398.6 439.6 400.1 439.8 401.7 440 403.3 440.2 404.8 440.3 406.4 440.5 406.8 440.5 407.9 440.7 409.5 440.9 411.1 441.1 412.6 441.2 414.2 441.4 415.7 441.6 416.5 441.7 417.3 441.8 418.9 442 420.4 442.1 422 442.3 423.5 442.5 425.1 442.6 426.2 442.8 426.7 442.8 428.2 443 429.8 443.2 431.3 443.4 432.9 443.6 434.5 443.7 436 443.9 436 443.9 437.6 444.1 439.1 444.3 440.7 444.4 442.3 444.6 443.8 444.8 445.4 444.9 445.8 445 446.9 445.1 448.5 445.3 450.1 445.5 451.6 445.7 453.2 445.9 454.7 446 455.4 446.1 456.3 446.2 457.9 446.4 459.4 446.6 461 446.8 462.6 446.9 464.1 447.1 465 447.2 465.7 447.3 467.2 447.5 468.8 447.7 470.4 447.9 471.9 448 473.5 448.2 474.7 448.3 475 448.3 476.6 448.5 478.2 448.7 479.7 448.9 481.3 449.1 482.8 449.2 484.4 449.4 484.6 449.4 486 449.6 487.5 449.8 489.1 450 490.6 450.1 492.2 450.3 493.8 450.5 494.2 450.5 495.3 450.7 496.9 450.9 498.4 451 500 451.2 501.6 451.4 503.1 451.5 503.9 451.6 504.7 451.7 506.2 451.9 507.8 452.1 509.4 452.3 510.9 452.5 512.5 452.6 513.7 452.7 514 452.8 515.6 453 517.2 453.2 518.7 453.4 520.3 453.5 521.8 453.7 523.4 453.8 523.4 453.8 525 454.1 526.5 454.2 528.1 454.4 529.6 454.6 531.2 454.8 532.8 454.9 533.1 455 534.3 455.1 535.9 455.3 537.4 455.5 539 455.7 540.6 455.8 542.1 456 542.8 456.1 543.7 456.2 545.3 456.4 546.8 456.6 548.4 456.7 549.9 456.9 551.5 457.1 552.5 457.2 553.1 457.2 554.6 457.4 556.2 457.6 557.7 457.8 559.3 458 560.9 458.1 562.2 458.3 562.4 458.3 564 458.5 565.5 458.7 567.1 458.9 568.7 459 570.2 459.2 571.8 459.4 572 459.4 573.3 459.6 574.9 459.8 576.5 459.9 578 460.1 579.6 460.3 581.1 460.4 581.7 460.5 582.7 460.6 584.3 460.8 585.8 461 587.4 461.2 588.9 461.4 590.5 461.5 591.4 461.6 592.1 461.7 593.6 461.9 595.2 462.1 596.7 462.3 598.3 462.4 599.9 462.6 601 462.7 601.4 462.8 603 463 604.5 463.2M489.1 378.4 488.7 378.5 487.5 378.8 486 379.3 484.8 379.6 484.4 379.7 482.8 380.1 481.3 380.4 480.1 380.7 479.7 380.8 478.2 381.1 476.6 381.4 475 381.7 474.2 381.8 473.5 381.9 471.9 382.1 470.4 382.3 468.8 382.5 467.2 382.6 465.7 382.8 464.1 382.9 463.1 382.9 462.6 382.9 461 383 459.4 383 457.9 383 456.3 383 454.7 382.9 454.4 382.9 453.2 382.9 451.6 382.8 450.1 382.6 448.5 382.5 446.9 382.3 445.4 382.1 443.8 381.9 443.1 381.8 442.3 381.7 440.7 381.4 439.1 381.1 437.6 380.8 437.1 380.7 436 380.5 434.5 380.1 432.9 379.7 432.4 379.6 431.3 379.3 429.8 378.8 428.5 378.5 428.2 378.4 426.7 377.9M643.6 455.5 642 455.6 640.4 455.4 638.9 455.4 637.3 455.3 635.8 455.2 634.2 455.2 632.6 455 631.1 455 630.6 455 629.5 454.8 628 454.8 626.4 454.7 624.8 454.5 623.3 454.4 621.7 454.3 620.2 454.1 618.6 454 617 453.9 616.9 453.8 615.5 453.7 613.9 453.5 612.3 453.4 610.8 453.2 609.2 453 607.7 452.9 606.4 452.7 606.1 452.7 604.5 452.5 603 452.3 601.4 452.1 599.9 452 598.3 451.8 596.7 451.6 596.7 451.6 595.2 451.4 593.6 451.3 592.1 451.1 590.5 450.9 588.9 450.7 587.4 450.6 587 450.5 585.8 450.4 584.3 450.2 582.7 450 581.1 449.8 579.6 449.7 578 449.5 577.3 449.4 576.5 449.3 574.9 449.1 573.3 448.9 571.8 448.8 570.2 448.6 568.7 448.4 567.5 448.3 567.1 448.2 565.5 448.1 564 447.9 562.4 447.7 560.9 447.5 559.3 447.4 557.8 447.2 557.7 447.2 556.2 447 554.6 446.8 553.1 446.6 551.5 446.4 549.9 446.3 548.4 446.1 548.1 446.1 546.8 445.9 545.3 445.7 543.7 445.6 542.1 445.4 540.6 445.2 539 445 538.4 445 537.4 444.9 535.9 444.7 534.3 444.5 532.8 444.3 531.2 444.1 529.6 444 528.7 443.9 528.1 443.8 526.5 443.6 525 443.4 523.4 443.2 521.8 443.1 520.3 442.9 519 442.8 518.7 442.7 517.2 442.5 515.6 442.3 514 442.2 512.5 442 510.9 441.8 509.4 441.7 509.3 441.7 507.8 441.5 506.2 441.3 504.7 441.1 503.1 440.9 501.6 440.8 500 440.6 499.5 440.5 498.4 440.4 496.9 440.2 495.3 440 493.8 439.9 492.2 439.7 490.6 439.5 489.8 439.4 489.1 439.3 487.5 439.1 486 439 484.4 438.8 482.8 438.6 481.3 438.4 480.2 438.3 479.7 438.3 478.2 438.1 476.6 437.9 475 437.7 473.5 437.5 471.9 437.4 470.4 437.2 470.4 437.2 468.8 437 467.2 436.8 465.7 436.7 464.1 436.5 462.6 436.3 461 436.2 460.5 436.1 459.4 436 457.9 435.8 456.3 435.6 454.7 435.4 453.2 435.3 451.6 435.1 450.8 435 450.1 434.9 448.5 434.7 446.9 434.5 445.4 434.4 443.8 434.2 442.3 434 441.1 433.9 440.7 433.8 439.1 433.6 437.6 433.5 436 433.3 434.5 433.1 432.9 432.9 431.5 432.8 431.3 432.8 429.8 432.6 428.2 432.4 426.7 432.2 425.1 432 423.5 431.9 422 431.7 421.8 431.7 420.4 431.5 418.9 431.3 417.3 431.1 415.7 431 414.2 430.8 412.6 430.6 412.1 430.6 411.1 430.4 409.5 430.2 407.9 430.1 406.4 429.9 404.8 429.7 403.3 429.6 402.4 429.5 401.7 429.4 400.1 429.2 398.6 429 397 428.8 395.5 428.6 393.9 428.5 392.7 428.4 392.3 428.3 390.8 428.1 389.2 427.9 387.7 427.8 386.1 427.6 384.5 427.4 383 427.2 383 427.2 381.4 427.1 379.9 426.9 378.3 426.7 376.7 426.5 375.2 426.3 373.6 426.2 373.3 426.1 372 426 370.5 425.8 368.9 425.6 367.4 425.4 365.8 425.3 364.2 425.1 363.5 425 362.7 424.9 361.1 424.7 359.6 424.5 358 424.4 356.4 424.2 354.9 424 353.8 423.9 353.3 423.9 351.8 423.7 350.2 423.5 348.6 423.3 347.1 423.1 345.5 423 344.1 422.8 344 422.8 342.4 422.6 340.8 422.4 339.3 422.2 337.7 422.1 336.2 421.9 334.6 421.7 334.4 421.7 333 421.5 331.5 421.3 329.9 421.2 328.4 421 326.8 420.8 325.2 420.7 324.7 420.6 323.7 420.5 322.1 420.3 320.6 420.1 319 419.9 317.4 419.8 315.9 419.6 314.9 419.5 314.3 419.4 312.8 419.2 311.2 419 309.6 418.9 308.1 418.7 306.5 418.5 305.1 418.4 305 418.4 303.4 418.2 301.8 418 300.3 417.8 298.7 417.7 297.1 417.5 295.6 417.3 294.9 417.3 294 417.2M284.7 416.3 283.1 416.2 282.7 416.2 281.5 416 280 415.8 278.4 415.6 276.9 415.4 275.3 415.2 274.6 415.1 273.7 414.9 272.2 414.6M272.2 425.9 273.7 426 275.3 426 276.9 426.1 276.9 426.1 278.4 426.2 280 426.3 281.5 426.4 283.1 426.5 284.7 426.6 286.2 426.7 287.8 426.8 289.3 426.9 290.9 427 292.5 427.1 294 427.2 294 427.3 295.6 427.4 297.1 427.5 298.7 427.7 300.3 427.8 301.8 428 303.4 428.2 305 428.3 305.4 428.4 306.5 428.5 308.1 428.7 309.6 428.9 311.2 429 312.8 429.2 314.3 429.4 315.3 429.5 315.9 429.5 317.4 429.7 319 429.9 320.6 430.1 322.1 430.3 323.7 430.4 324.9 430.6 325.2 430.6 326.8 430.8 328.4 431 329.9 431.2 331.5 431.3 333 431.5 334.6 431.7 334.6 431.7 336.2 431.9 337.7 432.1 339.3 432.2 340.8 432.4 342.4 432.6 344 432.7 344.3 432.8 345.5 432.9 347.1 433.1 348.6 433.3 350.2 433.5 351.8 433.7 353.3 433.8 354 433.9 354.9 434 356.4 434.2 358 434.4 359.6 434.6 361.1 434.7 362.7 434.9 363.7 435 364.2 435.1 365.8 435.3 367.4 435.4 368.9 435.6 370.5 435.8 372 436 373.5 436.1 373.6 436.1 375.2 436.3 376.7 436.5 378.3 436.7 379.9 436.9 381.4 437 383 437.2 383.2 437.2 384.5 437.4 386.1 437.6 387.7 437.8 389.2 437.9 390.8 438.1 392.3 438.3 392.9 438.3 393.9 438.5 395.5 438.6 397 438.8 398.6 439 400.1 439.2 401.7 439.3 402.6 439.4 403.3 439.5 404.8 439.7 406.4 439.9 407.9 440.1 409.5 440.2 411.1 440.4 412.3 440.5 412.6 440.6 414.2 440.8 415.7 441 417.3 441.1 418.9 441.3 420.4 441.5 422 441.6 422 441.7 423.5 441.8 425.1 442 426.7 442.2 428.2 442.4 429.8 442.6 431.3 442.7 431.8 442.8 432.9 442.9 434.5 443.1 436 443.3 437.6 443.4 439.1 443.6 440.7 443.8 441.6 443.9 442.3 444 443.8 444.2 445.4 444.3 446.9 444.5 448.5 444.7 450.1 444.8 451.3 445 451.6 445 453.2 445.2 454.7 445.4 456.3 445.6 457.9 445.8 459.4 445.9 460.9 446.1 461 446.1 462.6 446.3 464.1 446.5 465.7 446.7 467.2 446.8 468.8 447 470.4 447.2 470.5 447.2 471.9 447.4 473.5 447.6 475 447.7 476.6 447.9 478.2 448.1 479.7 448.2 480.3 448.3 481.3 448.4 482.8 448.6 484.4 448.8 486 449 487.5 449.1 489.1 449.3 490.1 449.4 490.6 449.5 492.2 449.7 493.8 449.9 495.3 450 496.9 450.2 498.4 450.4 499.7 450.5 500 450.6 501.6 450.7 503.1 450.9 504.7 451.1 506.2 451.3 507.8 451.5 509.4 451.6 509.5 451.6 510.9 451.8 512.5 452 514 452.2 515.6 452.4 517.2 452.5 518.7 452.7 519.2 452.7 520.3 452.9 521.8 453.1 523.4 453.2 525 453.4 526.5 453.6 528.1 453.8 528.9 453.8 529.6 453.9 531.2 454.1 532.8 454.3 534.3 454.5 535.9 454.7 537.4 454.8 538.6 455 539 455 540.6 455.2 542.1 455.4 543.7 455.6 545.3 455.7 546.8 455.9 548.3 456.1 548.4 456.1 549.9 456.3 551.5 456.5 553.1 456.6 554.6 456.8 556.2 457 557.7 457.1 558 457.2 559.3 457.3 560.9 457.5 562.4 457.7 564 457.9 565.5 458 567.1 458.2 567.7 458.3 568.7 458.4 570.2 458.6 571.8 458.8 573.3 458.9 574.9 459.1 576.5 459.3 577.5 459.4 578 459.5 579.6 459.7 581.1 459.8 582.7 460 584.3 460.2 585.8 460.3 587.2 460.5 587.4 460.5 588.9 460.7 590.5 460.9 592.1 461.1 593.6 461.3 595.2 461.4 596.7 461.6 596.9 461.6 598.3 461.8 599.9 462 601.4 462.1 603 462.3 604.5 462.5 606.1 462.7 606.6 462.7 607.7 462.8 609.2 463 610.8 463.2 612.3 463.4 613.9 463.6 615.5 463.7 616.5 463.8 617 463.9 618.6 464.1 620.2 464.2 621.7 464.4M637.3 465.9 638.6 466 638.9 466.1 640.4 466.3 642 466.6M492.2 378.1 491 378.5 490.6 378.6 489.1 379 487.5 379.5 487.1 379.6 486 379.9 484.4 380.3 482.8 380.7 482.7 380.7 481.3 381 479.7 381.3 478.2 381.6 477.3 381.8 476.6 381.9 475 382.2 473.5 382.4 471.9 382.6 470.4 382.8 469.4 382.9 468.8 383 467.2 383.1 465.7 383.2 464.1 383.3 462.6 383.4 461 383.4 459.4 383.4 457.9 383.4 456.3 383.4 454.7 383.4 453.2 383.3 451.6 383.2 450.1 383.1 448.5 383 448.1 382.9 446.9 382.8 445.4 382.6 443.8 382.4 442.3 382.2 440.7 381.9 440 381.8 439.1 381.6 437.6 381.3 436 381 434.5 380.7 434.5 380.7 432.9 380.3 431.3 379.9 430.1 379.6 429.8 379.5 428.2 379.1 426.7 378.6 426.2 378.5 425.1 378.1 423.5 377.6M643.6 456.2 642 456.2 640.9 456.1 640.4 456 638.9 456 637.3 455.8 635.8 455.8 634.2 455.7 632.6 455.6 631.1 455.5 629.5 455.4 628 455.3 626.4 455.2 624.8 455 623.9 455 623.3 454.9 621.7 454.8 620.2 454.6 618.6 454.5 617 454.4 615.5 454.2 613.9 454.1 612.3 453.9 611.7 453.8 610.8 453.7 609.2 453.6 607.7 453.4 606.1 453.2 604.5 453.1 603 452.9 601.5 452.7 601.4 452.7 599.9 452.5 598.3 452.4 596.7 452.2 595.2 452 593.6 451.8 592.1 451.7 591.8 451.6 590.5 451.5 588.9 451.3 587.4 451.1 585.8 450.9 584.3 450.8 582.7 450.6 582.1 450.5 581.1 450.4 579.6 450.2 578 450 576.5 449.9 574.9 449.7 573.3 449.5 572.4 449.4 571.8 449.3 570.2 449.2 568.7 449 567.1 448.8 565.5 448.6 564 448.5 562.6 448.3 562.4 448.3 560.9 448.1 559.3 447.9 557.7 447.7 556.2 447.6 554.6 447.4 553.1 447.2 552.9 447.2 551.5 447 549.9 446.8 548.4 446.7 546.8 446.5 545.3 446.3 543.7 446.1 543.2 446.1 542.1 446 540.6 445.8 539 445.6 537.4 445.4 535.9 445.2 534.3 445.1 533.5 445 532.8 444.9 531.2 444.7 529.6 444.5 528.1 444.3 526.5 444.2 525 444 523.8 443.9 523.4 443.8 521.8 443.6 520.3 443.5 518.7 443.3 517.2 443.1 515.6 442.9 514.1 442.8 514 442.8 512.5 442.6 510.9 442.4 509.4 442.2 507.8 442 506.2 441.9 504.7 441.7 504.4 441.7 503.1 441.5 501.6 441.3 500 441.1 498.4 441 496.9 440.8 495.3 440.6 494.6 440.5 493.8 440.4 492.2 440.3 490.6 440.1 489.1 439.9 487.5 439.7 486 439.6 484.9 439.4 484.4 439.4 482.8 439.2 481.3 439 479.7 438.8 478.2 438.6 476.6 438.5 475.3 438.3 475 438.3 473.5 438.1 471.9 437.9 470.4 437.8 468.8 437.6 467.2 437.4 465.7 437.2 465.4 437.2 464.1 437.1 462.6 436.9 461 436.7 459.4 436.5 457.9 436.4 456.3 436.2 455.6 436.1 454.7 436 453.2 435.8 451.6 435.6 450.1 435.5 448.5 435.3 446.9 435.1 445.9 435 445.4 434.9 443.8 434.7 442.3 434.6 440.7 434.4 439.1 434.2 437.6 434 436.3 433.9 436 433.9 434.5 433.7 432.9 433.5 431.3 433.3 429.8 433.1 428.2 433 426.7 432.8 426.6 432.8 425.1 432.6 423.5 432.4 422 432.2 420.4 432.1 418.9 431.9 417.3 431.7 416.9 431.7 415.7 431.5 414.2 431.3 412.6 431.2 411.1 431 409.5 430.8 407.9 430.7 407.2 430.6 406.4 430.5 404.8 430.3 403.3 430.1 401.7 429.9 400.1 429.8 398.6 429.6 397.5 429.5 397 429.4 395.5 429.2 393.9 429 392.3 428.9 390.8 428.7 389.2 428.5 387.8 428.4 387.7 428.3 386.1 428.2 384.5 428 383 427.8 381.4 427.6 379.9 427.4 378.3 427.3 378.1 427.2 376.7 427.1 375.2 426.9 373.6 426.7 372 426.5 370.5 426.4 368.9 426.2 368.4 426.1 367.4 426 365.8 425.8 364.2 425.7 362.7 425.5 361.1 425.3 359.6 425.1 358.6 425 358 425 356.4 424.8 354.9 424.6 353.3 424.4 351.8 424.2 350.2 424.1 348.9 423.9 348.6 423.9 347.1 423.7 345.5 423.5 344 423.3 342.4 423.2 340.8 423 339.3 422.8 339.2 422.8 337.7 422.6 336.2 422.4 334.6 422.3 333 422.1 331.5 421.9 329.9 421.8 329.5 421.7 328.4 421.6 326.8 421.4 325.2 421.2 323.7 421 322.1 420.9 320.6 420.7 319.7 420.6 319 420.5 317.4 420.3 315.9 420.1 314.3 420 312.8 419.8 311.2 419.6 309.8 419.5 309.6 419.5 308.1 419.3 306.5 419.1 305 418.9 303.4 418.8 301.8 418.6 300.3 418.5 299.3 418.4 298.7 418.3 297.1 418.1 295.6 418 294 417.8 292.5 417.7 290.9 417.6 289.3 417.5 287.8 417.3 287.3 417.3 286.2 417.1 284.7 417 283.1 416.8 281.5 416.6 280 416.5 278.4 416.3 277.6 416.2 276.9 416 275.3 415.8 273.7 415.6 272.2 415.3 270.6 415.1M270.6 425.1 272.2 425.2 273.7 425.4 275.3 425.4 276.9 425.6 278.4 425.6 280 425.7 281.5 425.8 283.1 425.9 284.7 426 286 426.1 286.2 426.2 287.8 426.3 289.3 426.4 290.9 426.5 292.5 426.6 294 426.8 295.6 426.9 297.1 427 298.7 427.2 299.5 427.2 300.3 427.3 301.8 427.5 303.4 427.6 305 427.8 306.5 428 308.1 428.1 309.6 428.3 310.3 428.4 311.2 428.5 312.8 428.6 314.3 428.8 315.9 429 317.4 429.2 319 429.3 320.1 429.5 320.6 429.5 322.1 429.7 323.7 429.9 325.2 430.1 326.8 430.2 328.4 430.4 329.8 430.6 329.9 430.6 331.5 430.8 333 431 334.6 431.1 336.2 431.3 337.7 431.5 339.3 431.7 339.5 431.7 340.8 431.8 342.4 432 344 432.2 345.5 432.4 347.1 432.6 348.6 432.7 349.2 432.8 350.2 432.9 351.8 433.1 353.3 433.3 354.9 433.4 356.4 433.6 358 433.8 358.9 433.9 359.6 434 361.1 434.2 362.7 434.3 364.2 434.5 365.8 434.7 367.4 434.9 368.6 435 368.9 435 370.5 435.2 372 435.4 373.6 435.6 375.2 435.8 376.7 435.9 378.3 436.1 378.4 436.1 379.9 436.3 381.4 436.5 383 436.7 384.5 436.8 386.1 437 387.7 437.2 388.1 437.2 389.2 437.4 390.8 437.5 392.3 437.7 393.9 437.9 395.5 438.1 397 438.2 397.8 438.3 398.6 438.4 400.1 438.6 401.7 438.8 403.3 439 404.8 439.1 406.4 439.3 407.5 439.4 407.9 439.5 409.5 439.7 411.1 439.9 412.6 440 414.2 440.2 415.7 440.4 417.2 440.5 417.3 440.6 418.9 440.7 420.4 440.9 422 441.1 423.5 441.3 425.1 441.4 426.7 441.6 427 441.7 428.2 441.8 429.8 442 431.3 442.2 432.9 442.3 434.5 442.5 436 442.7 436.7 442.8 437.6 442.9 439.1 443.1 440.7 443.2 442.3 443.4 443.8 443.6 445.4 443.7 446.5 443.9 446.9 443.9 448.5 444.1 450.1 444.3 451.6 444.5 453.2 444.6 454.7 444.8 456.2 445 456.3 445 457.9 445.2 459.4 445.4 461 445.5 462.6 445.7 464.1 445.9 465.7 446.1 465.8 446.1 467.2 446.3 468.8 446.4 470.4 446.6 471.9 446.8 473.5 447 475 447.2 475.4 447.2 476.6 447.3 478.2 447.5 479.7 447.7 481.3 447.9 482.8 448 484.4 448.2 485.2 448.3 486 448.4 487.5 448.6 489.1 448.8 490.6 448.9 492.2 449.1 493.8 449.3 495 449.4 495.3 449.5 496.9 449.6 498.4 449.8 500 450 501.6 450.2 503.1 450.4 504.6 450.5 504.7 450.5 506.2 450.7 507.8 450.9 509.4 451.1 510.9 451.2 512.5 451.4 514 451.6 514.4 451.6 515.6 451.8 517.2 452 518.7 452.1 520.3 452.3 521.8 452.5 523.4 452.7 524.1 452.7 525 452.8 526.5 453 528.1 453.2 529.6 453.4 531.2 453.6 532.8 453.7 533.8 453.8 534.3 453.9 535.9 454.1 537.4 454.3 539 454.5 540.6 454.6 542.1 454.8 543.5 455 543.7 455 545.3 455.2 546.8 455.3 548.4 455.5 549.9 455.7 551.5 455.9 553.1 456 553.2 456.1 554.6 456.2 556.2 456.4 557.7 456.6 559.3 456.8 560.9 456.9 562.4 457.1 562.9 457.2 564 457.3 565.5 457.5 567.1 457.7 568.7 457.8 570.2 458 571.8 458.2 572.7 458.3 573.3 458.4 574.9 458.5 576.5 458.7 578 458.9 579.6 459.1 581.1 459.2 582.4 459.4 582.7 459.4 584.3 459.6 585.8 459.8 587.4 460 588.9 460.1 590.5 460.3 592.1 460.5 592.1 460.5 593.6 460.7 595.2 460.9 596.7 461 598.3 461.2 599.9 461.4 601.4 461.6 601.9 461.6 603 461.7 604.5 461.9 606.1 462.1 607.7 462.3 609.2 462.4 610.8 462.6 611.9 462.7 612.3 462.8 613.9 462.9 615.5 463.1 617 463.3 618.6 463.4 620.2 463.6 621.7 463.7 623 463.8 623.3 463.8 624.8 464 626.4 464.1 628 464.3 629.5 464.4 631.1 464.5 632.6 464.7 634.2 464.8 634.9 464.9 635.8 465 637.3 465.2 638.9 465.4 640.4 465.6 642 465.9M493.8 378.3 493.3 378.5 492.2 378.8 490.6 379.3 489.5 379.6 489.1 379.7 487.5 380.1 486 380.5 485.1 380.7 484.4 380.9 482.8 381.2 481.3 381.6 480.1 381.8 479.7 381.9 478.2 382.2 476.6 382.4 475 382.7 473.5 382.9 473.3 382.9 471.9 383.1 470.4 383.3 468.8 383.4 467.2 383.6 465.7 383.7 464.1 383.8 462.6 383.8 461 383.9 459.4 383.9 457.9 383.9 456.3 383.9 454.7 383.8 453.2 383.7 451.6 383.7 450.1 383.5 448.5 383.4 446.9 383.3 445.4 383.1 444.1 382.9 443.8 382.9 442.3 382.7 440.7 382.4 439.1 382.2 437.6 381.9 437.2 381.8 436 381.6 434.5 381.2 432.9 380.9 432.1 380.7 431.3 380.5 429.8 380.1 428.2 379.7 427.7 379.6 426.7 379.3 425.1 378.8 423.9 378.5 423.5 378.4 422 377.9M643.6 456.8 642 456.9 640.4 456.6 638.9 456.6 637.3 456.4 635.8 456.4 634.2 456.2 632.6 456.1 632 456.1 631.1 456 629.5 455.9 628 455.8 626.4 455.6 624.8 455.5 623.3 455.4 621.7 455.3 620.2 455.1 618.6 455 618.1 455 617 454.9 615.5 454.7 613.9 454.6 612.3 454.4 610.8 454.3 609.2 454.1 607.7 453.9 606.9 453.8 606.1 453.8 604.5 453.6 603 453.4 601.4 453.2 599.9 453.1 598.3 452.9 596.9 452.7 596.7 452.7 595.2 452.5 593.6 452.4 592.1 452.2 590.5 452 588.9 451.8 587.4 451.7 587.2 451.6 585.8 451.5 584.3 451.3 582.7 451.1 581.1 450.9 579.6 450.8 578 450.6 577.4 450.5 576.5 450.4 574.9 450.2 573.3 450 571.8 449.9 570.2 449.7 568.7 449.5 567.7 449.4 567.1 449.3 565.5 449.2 564 449 562.4 448.8 560.9 448.6 559.3 448.4 558 448.3 557.7 448.3 556.2 448.1 554.6 447.9 553.1 447.7 551.5 447.6 549.9 447.4 548.4 447.2 548.3 447.2 546.8 447 545.3 446.8 543.7 446.7 542.1 446.5 540.6 446.3 539 446.1 538.6 446.1 537.4 446 535.9 445.8 534.3 445.6 532.8 445.4 531.2 445.2 529.6 445.1 528.9 445 528.1 444.9 526.5 444.7 525 444.5 523.4 444.4 521.8 444.2 520.3 444 519.2 443.9 518.7 443.8 517.2 443.6 515.6 443.5 514 443.3 512.5 443.1 510.9 442.9 509.4 442.8 509.4 442.8 507.8 442.6 506.2 442.4 504.7 442.2 503.1 442 501.6 441.9 500 441.7 499.7 441.7 498.4 441.5 496.9 441.3 495.3 441.1 493.8 441 492.2 440.8 490.6 440.6 490 440.5 489.1 440.4 487.5 440.3 486 440.1 484.4 439.9 482.8 439.7 481.3 439.5 480.4 439.4 479.7 439.4 478.2 439.2 476.6 439 475 438.8 473.5 438.6 471.9 438.5 470.7 438.3 470.4 438.3 468.8 438.1 467.2 437.9 465.7 437.8 464.1 437.6 462.6 437.4 461 437.2 460.8 437.2 459.4 437.1 457.9 436.9 456.3 436.7 454.7 436.5 453.2 436.4 451.6 436.2 451 436.1 450.1 436 448.5 435.8 446.9 435.6 445.4 435.5 443.8 435.3 442.3 435.1 441.3 435 440.7 434.9 439.1 434.7 437.6 434.6 436 434.4 434.5 434.2 432.9 434 431.7 433.9 431.3 433.9 429.8 433.7 428.2 433.5 426.7 433.3 425.1 433.1 423.5 433 422 432.8 422 432.8 420.4 432.6 418.9 432.4 417.3 432.2 415.7 432.1 414.2 431.9 412.6 431.7 412.3 431.7 411.1 431.5 409.5 431.4 407.9 431.2 406.4 431 404.8 430.8 403.3 430.6 402.6 430.6 401.7 430.5 400.1 430.3 398.6 430.1 397 429.9 395.5 429.8 393.9 429.6 392.9 429.5 392.3 429.4 390.8 429.2 389.2 429 387.7 428.9 386.1 428.7 384.5 428.5 383.1 428.4 383 428.3 381.4 428.2 379.9 428 378.3 427.8 376.7 427.6 375.2 427.4 373.6 427.3 373.5 427.2 372 427.1 370.5 426.9 368.9 426.7 367.4 426.6 365.8 426.4 364.2 426.2 363.7 426.1 362.7 426 361.1 425.8 359.6 425.7 358 425.5 356.4 425.3 354.9 425.1 354 425 353.3 424.9 351.8 424.8 350.2 424.6 348.6 424.4 347.1 424.2 345.5 424.1 344.3 423.9 344 423.9 342.4 423.7 340.8 423.5 339.3 423.3 337.7 423.2 336.2 423 334.6 422.8 334.6 422.8 333 422.6 331.5 422.5 329.9 422.3 328.4 422.1 326.8 421.9 325.2 421.7 324.9 421.7 323.7 421.6 322.1 421.4 320.6 421.2 319 421 317.4 420.9 315.9 420.7 315 420.6 314.3 420.5 312.8 420.3 311.2 420.2 309.6 420 308.1 419.8 306.5 419.7 305 419.5 304.6 419.5 303.4 419.4 301.8 419.2 300.3 419 298.7 418.9 297.1 418.7 295.6 418.6 294 418.5 293 418.4 292.5 418.3 290.9 418.2 289.3 418.1 287.8 417.9 286.2 417.8 284.7 417.6 283.1 417.5 281.6 417.3 281.5 417.3 280 417.1 278.4 416.9 276.9 416.7 275.3 416.5 273.7 416.3 273.1 416.2 272.2 416M273.7 424.7 275.3 424.8 276.9 425 277.7 425 278.4 425.1 280 425.2 281.5 425.3 283.1 425.4 284.7 425.5 286.2 425.7 287.8 425.8 289.3 425.9 290.9 426 292.2 426.1 292.5 426.2 294 426.3 295.6 426.4 297.1 426.6 298.7 426.7 300.3 426.8 301.8 427 303.4 427.1 304.5 427.2 305 427.3 306.5 427.5 308.1 427.6 309.6 427.8 311.2 427.9 312.8 428.1 314.3 428.3 314.9 428.4 315.9 428.5 317.4 428.6 319 428.8 320.6 429 322.1 429.2 323.7 429.3 324.7 429.5 325.2 429.5 326.8 429.7 328.4 429.9 329.9 430.1 331.5 430.2 333 430.4 334.4 430.6 334.6 430.6 336.2 430.8 337.7 431 339.3 431.1 340.8 431.3 342.4 431.5 344 431.7 344.1 431.7 345.5 431.8 347.1 432 348.6 432.2 350.2 432.4 351.8 432.6 353.3 432.7 353.8 432.8 354.9 432.9 356.4 433.1 358 433.3 359.6 433.4 361.1 433.6 362.7 433.8 363.6 433.9 364.2 434 365.8 434.2 367.4 434.3 368.9 434.5 370.5 434.7 372 434.9 373.3 435 373.6 435 375.2 435.2 376.7 435.4 378.3 435.6 379.9 435.8 381.4 435.9 383 436.1 383 436.1 384.5 436.3 386.1 436.5 387.7 436.6 389.2 436.8 390.8 437 392.3 437.2 392.7 437.2 393.9 437.4 395.5 437.5 397 437.7 398.6 437.9 400.1 438.1 401.7 438.2 402.4 438.3 403.3 438.4 404.8 438.6 406.4 438.8 407.9 439 409.5 439.1 411.1 439.3 412.1 439.4 412.6 439.5 414.2 439.7 415.7 439.9 417.3 440 418.9 440.2 420.4 440.4 421.9 440.5 422 440.6 423.5 440.7 425.1 440.9 426.7 441.1 428.2 441.3 429.8 441.4 431.3 441.6 431.6 441.7 432.9 441.8 434.5 442 436 442.2 437.6 442.3 439.1 442.5 440.7 442.7 441.4 442.8 442.3 442.9 443.8 443 445.4 443.2 446.9 443.4 448.5 443.6 450.1 443.7 451.1 443.9 451.6 443.9 453.2 444.1 454.7 444.3 456.3 444.5 457.9 444.6 459.4 444.8 460.8 445 461 445 462.6 445.2 464.1 445.4 465.7 445.5 467.2 445.7 468.8 445.9 470.4 446.1 470.4 446.1 471.9 446.3 473.5 446.4 475 446.6 476.6 446.8 478.2 447 479.7 447.2 480.1 447.2 481.3 447.3 482.8 447.5 484.4 447.7 486 447.9 487.5 448 489.1 448.2 489.9 448.3 490.6 448.4 492.2 448.6 493.8 448.8 495.3 448.9 496.9 449.1 498.4 449.3 499.6 449.4 500 449.5 501.6 449.6 503.1 449.8 504.7 450 506.2 450.2 507.8 450.4 509.3 450.5 509.4 450.5 510.9 450.7 512.5 450.9 514 451.1 515.6 451.2 517.2 451.4 518.7 451.6 519 451.6 520.3 451.8 521.8 452 523.4 452.1 525 452.3 526.5 452.5 528.1 452.7 528.7 452.7 529.6 452.8 531.2 453 532.8 453.2 534.3 453.4 535.9 453.6 537.4 453.7 538.4 453.8 539 453.9 540.6 454.1 542.1 454.3 543.7 454.4 545.3 454.6 546.8 454.8 548.1 455 548.4 455 549.9 455.2 551.5 455.3 553.1 455.5 554.6 455.7 556.2 455.9 557.7 456 557.8 456.1 559.3 456.2 560.9 456.4 562.4 456.6 564 456.8 565.5 456.9 567.1 457.1 567.6 457.2 568.7 457.3 570.2 457.5 571.8 457.7 573.3 457.8 574.9 458 576.5 458.2 577.3 458.3 578 458.4 579.6 458.5 581.1 458.7 582.7 458.9 584.3 459.1 585.8 459.3 587 459.4 587.4 459.4 588.9 459.6 590.5 459.8 592.1 460 593.6 460.1 595.2 460.3 596.7 460.5 596.7 460.5 598.3 460.7 599.9 460.9 601.4 461 603 461.2 604.5 461.4 606.1 461.5 606.7 461.6 607.7 461.7 609.2 461.9 610.8 462 612.3 462.2 613.9 462.4 615.5 462.5 617 462.7 617.5 462.7 618.6 462.8 620.2 463 621.7 463.1 623.3 463.2 624.8 463.4 626.4 463.5 628 463.6 629.5 463.8 629.9 463.8 631.1 463.9 632.6 464.1 634.2 464.2 635.8 464.4 637.3 464.5 638.9 464.8 640.4 464.9 640.7 464.9 642 465.2 643.6 465.2M492.2 379.5 491.9 379.6 490.6 380 489.1 380.4 487.6 380.7 487.5 380.7 486 381.1 484.4 381.5 482.8 381.8 482.8 381.8 481.3 382.1 479.7 382.4 478.2 382.7 476.7 382.9 476.6 382.9 475 383.2 473.5 383.4 471.9 383.6 470.4 383.7 468.8 383.9 467.2 384 466.9 384 465.7 384.1 464.1 384.2 462.6 384.3 461 384.3 459.4 384.3 457.9 384.3 456.3 384.3 454.7 384.3 453.2 384.2 451.6 384.1 450.6 384 450.1 384 448.5 383.9 446.9 383.7 445.4 383.6 443.8 383.4 442.3 383.2 440.7 382.9 440.7 382.9 439.1 382.7 437.6 382.4 436 382.1 434.5 381.8 434.5 381.8 432.9 381.5 431.3 381.1 429.8 380.8 429.6 380.7 428.2 380.4 426.7 380 425.3 379.6 425.1 379.5 423.5 379.1M640.4 457.2 638.9 457.2 638.5 457.2 637.3 457 635.8 456.9 634.2 456.7 632.6 456.7 631.1 456.5 629.5 456.4 628 456.3 626.4 456.1 625.7 456.1 624.8 456 623.3 455.9 621.7 455.8 620.2 455.6 618.6 455.5 617 455.4 615.5 455.2 613.9 455.1 612.8 455 612.3 454.9 610.8 454.8 609.2 454.6 607.7 454.4 606.1 454.3 604.5 454.1 603 453.9 602.2 453.8 601.4 453.8 599.9 453.6 598.3 453.4 596.7 453.2 595.2 453.1 593.6 452.9 592.3 452.7 592.1 452.7 590.5 452.5 588.9 452.4 587.4 452.2 585.8 452 584.3 451.8 582.7 451.6 582.6 451.6 581.1 451.5 579.6 451.3 578 451.1 576.5 450.9 574.9 450.8 573.3 450.6 572.9 450.5 571.8 450.4 570.2 450.2 568.7 450 567.1 449.9 565.5 449.7 564 449.5 563.2 449.4 562.4 449.3 560.9 449.1 559.3 449 557.7 448.8 556.2 448.6 554.6 448.4 553.5 448.3 553.1 448.3 551.5 448.1 549.9 447.9 548.4 447.7 546.8 447.6 545.3 447.4 543.8 447.2 543.7 447.2 542.1 447 540.6 446.8 539 446.7 537.4 446.5 535.9 446.3 534.3 446.1 534 446.1 532.8 445.9 531.2 445.8 529.6 445.6 528.1 445.4 526.5 445.2 525 445.1 524.3 445 523.4 444.9 521.8 444.7 520.3 444.5 518.7 444.3 517.2 444.2 515.6 444 514.6 443.9 514 443.8 512.5 443.6 510.9 443.5 509.4 443.3 507.8 443.1 506.2 442.9 504.9 442.8 504.7 442.7 503.1 442.6 501.6 442.4 500 442.2 498.4 442 496.9 441.9 495.3 441.7 495.2 441.7 493.8 441.5 492.2 441.3 490.6 441.1 489.1 441 487.5 440.8 486 440.6 485.4 440.5 484.4 440.4 482.8 440.3 481.3 440.1 479.7 439.9 478.2 439.7 476.6 439.5 475.9 439.4 475 439.3 473.5 439.2 471.9 439 470.4 438.8 468.8 438.6 467.2 438.5 466.1 438.3 465.7 438.3 464.1 438.1 462.6 437.9 461 437.8 459.4 437.6 457.9 437.4 456.3 437.2 456.2 437.2 454.7 437.1 453.2 436.9 451.6 436.7 450.1 436.5 448.5 436.4 446.9 436.2 446.5 436.1 445.4 436 443.8 435.8 442.3 435.6 440.7 435.5 439.1 435.3 437.6 435.1 436.8 435 436 434.9 434.5 434.7 432.9 434.6 431.3 434.4 429.8 434.2 428.2 434 427.2 433.9 426.7 433.8 425.1 433.7 423.5 433.5 422 433.3 420.4 433.1 418.9 433 417.5 432.8 417.3 432.8 415.7 432.6 414.2 432.4 412.6 432.2 411.1 432.1 409.5 431.9 407.9 431.7 407.8 431.7 406.4 431.5 404.8 431.3 403.3 431.2 401.7 431 400.1 430.8 398.6 430.6 398 430.6 397 430.5 395.5 430.3 393.9 430.1 392.3 429.9 390.8 429.8 389.2 429.6 388.3 429.5 387.7 429.4 386.1 429.2 384.5 429 383 428.9 381.4 428.7 379.9 428.5 378.6 428.4 378.3 428.3 376.7 428.1 375.2 428 373.6 427.8 372 427.6 370.5 427.4 368.9 427.3 368.9 427.2 367.4 427.1 365.8 426.9 364.2 426.7 362.7 426.6 361.1 426.4 359.6 426.2 359.2 426.1 358 426 356.4 425.8 354.9 425.7 353.3 425.5 351.8 425.3 350.2 425.1 349.5 425 348.6 424.9 347.1 424.8 345.5 424.6 344 424.4 342.4 424.2 340.8 424.1 339.8 423.9 339.3 423.9 337.7 423.7 336.2 423.5 334.6 423.3 333 423.2 331.5 423 330 422.8 329.9 422.8 328.4 422.6 326.8 422.4 325.2 422.3 323.7 422.1 322.1 421.9 320.6 421.7 320.3 421.7 319 421.6 317.4 421.4 315.9 421.2 314.3 421.1 312.8 420.9 311.2 420.7 310.1 420.6 309.6 420.5 308.1 420.4 306.5 420.2 305 420.1 303.4 419.9 301.8 419.8 300.3 419.6 298.9 419.5 298.7 419.5 297.1 419.3 295.6 419.2 294 419.1 292.5 418.9 290.9 418.8 289.3 418.6 287.8 418.5 286.5 418.4 286.2 418.4 284.7 418.2 283.1 418 281.5 417.9 280 417.7 278.4 417.5 276.9 417.3 276.4 417.3 275.3 417.1 273.7 417M273.7 424.1 275.3 424.2 276.9 424.4 278.4 424.5 280 424.6 281.5 424.8 283.1 424.9 284.7 425 284.7 425 286.2 425.2 287.8 425.3 289.3 425.4 290.9 425.5 292.5 425.7 294 425.8 295.6 425.9 297.1 426.1 297.9 426.1 298.7 426.2 300.3 426.3 301.8 426.5 303.4 426.6 305 426.8 306.5 426.9 308.1 427.1 309.4 427.2 309.6 427.3 311.2 427.4 312.8 427.6 314.3 427.8 315.9 427.9 317.4 428.1 319 428.3 319.5 428.4 320.6 428.5 322.1 428.6 323.7 428.8 325.2 429 326.8 429.2 328.4 429.4 329.3 429.5 329.9 429.5 331.5 429.7 333 429.9 334.6 430.1 336.2 430.2 337.7 430.4 339 430.6 339.3 430.6 340.8 430.8 342.4 431 344 431.1 345.5 431.3 347.1 431.5 348.6 431.7 348.7 431.7 350.2 431.9 351.8 432 353.3 432.2 354.9 432.4 356.4 432.6 358 432.7 358.4 432.8 359.6 432.9 361.1 433.1 362.7 433.3 364.2 433.4 365.8 433.6 367.4 433.8 368.1 433.9 368.9 434 370.5 434.2 372 434.3 373.6 434.5 375.2 434.7 376.7 434.9 377.8 435 378.3 435.1 379.9 435.2 381.4 435.4 383 435.6 384.5 435.8 386.1 435.9 387.5 436.1 387.7 436.1 389.2 436.3 390.8 436.5 392.3 436.7 393.9 436.8 395.5 437 397 437.2 397.2 437.2 398.6 437.4 400.1 437.5 401.7 437.7 403.3 437.9 404.8 438.1 406.4 438.3 407 438.3 407.9 438.4 409.5 438.6 411.1 438.8 412.6 439 414.2 439.1 415.7 439.3 416.7 439.4 417.3 439.5 418.9 439.7 420.4 439.9 422 440 423.5 440.2 425.1 440.4 426.4 440.5 426.7 440.6 428.2 440.7 429.8 440.9 431.3 441.1 432.9 441.3 434.5 441.5 436 441.6 436.2 441.7 437.6 441.8 439.1 442 440.7 442.2 442.3 442.3 443.8 442.5 445.4 442.7 445.9 442.8 446.9 442.9 448.5 443.1 450.1 443.2 451.6 443.4 453.2 443.6 454.7 443.8 455.7 443.9 456.3 443.9 457.9 444.1 459.4 444.3 461 444.5 462.6 444.6 464.1 444.8 465.4 445 465.7 445 467.2 445.2 468.8 445.4 470.4 445.5 471.9 445.7 473.5 445.9 474.9 446.1 475 446.1 476.6 446.3 478.2 446.5 479.7 446.6 481.3 446.8 482.8 447 484.4 447.2 484.6 447.2 486 447.3 487.5 447.5 489.1 447.7 490.6 447.9 492.2 448 493.8 448.2 494.4 448.3 495.3 448.4 496.9 448.6 498.4 448.8 500 448.9 501.6 449.1 503.1 449.3 504.1 449.4 504.7 449.5 506.2 449.7 507.8 449.8 509.4 450 510.9 450.2 512.5 450.4 513.8 450.5 514 450.5 515.6 450.7 517.2 450.9 518.7 451.1 520.3 451.2 521.8 451.4 523.4 451.6 523.5 451.6 525 451.8 526.5 452 528.1 452.1 529.6 452.3 531.2 452.5 532.8 452.7 533.3 452.7 534.3 452.9 535.9 453 537.4 453.2 539 453.4 540.6 453.6 542.1 453.7 543 453.8 543.7 453.9 545.3 454.1 546.8 454.3 548.4 454.5 549.9 454.6 551.5 454.8 552.7 455 553.1 455 554.6 455.2 556.2 455.3 557.7 455.5 559.3 455.7 560.9 455.9 562.4 456.1 562.4 456.1 564 456.2 565.5 456.4 567.1 456.6 568.7 456.8 570.2 456.9 571.8 457.1 572.1 457.2 573.3 457.3 574.9 457.5 576.5 457.7 578 457.8 579.6 458 581.1 458.2 581.8 458.3 582.7 458.4 584.3 458.6 585.8 458.7 587.4 458.9 588.9 459.1 590.5 459.3 591.5 459.4 592.1 459.4 593.6 459.6 595.2 459.8 596.7 460 598.3 460.1 599.9 460.3 601.4 460.5 601.4 460.5 603 460.7 604.5 460.8 606.1 461 607.7 461.2 609.2 461.3 610.8 461.5 611.9 461.6 612.3 461.7 613.9 461.8 615.5 462 617 462.1 618.6 462.2 620.2 462.4 621.7 462.5 623.3 462.6 624.1 462.7 624.8 462.8 626.4 462.9 628 463 629.5 463.2 631.1 463.3 632.6 463.5 634.2 463.5 635.8 463.8 636.2 463.8 637.3 463.9 638.9 464.1 640.4 464.1M451.6 391.5 453.2 391.5 454.7 391.6 456.3 391.6 457.9 391.7 459.4 391.7 461 391.6 462.6 391.6 464.1 391.5 465.7 391.4 467.2 391.3 468.8 391.2 470.4 391 471.9 390.9 473.5 390.7 473.5 390.7 475 390.5M487.5 381.4 486 381.8 485.7 381.8 484.4 382.1 482.8 382.4 481.3 382.7 480 382.9 479.7 383 478.2 383.3 476.6 383.5 475 383.7 473.5 383.9 472.2 384 471.9 384.1 470.4 384.2 468.8 384.4 467.2 384.5 465.7 384.6 464.1 384.7 462.6 384.7 461 384.8 459.4 384.8 457.9 384.8 456.3 384.7 454.7 384.7 453.2 384.7 451.6 384.6 450.1 384.5 448.5 384.4 446.9 384.2 445.4 384 445.4 384 443.8 383.9 442.3 383.7 440.7 383.5 439.1 383.2 437.6 382.9 437.4 382.9 436 382.7 434.5 382.4 432.9 382.1 431.6 381.8 431.3 381.8 429.8 381.4 428.2 381.1M637.3 457.6 635.8 457.6 634.2 457.3 632.6 457.2 632.2 457.2 631.1 457.1 629.5 456.9 628 456.8 626.4 456.7 624.8 456.5 623.3 456.4 621.7 456.3 620.2 456.1 619.4 456.1 618.6 456 617 455.9 615.5 455.7 613.9 455.6 612.3 455.4 610.8 455.3 609.2 455.1 607.7 455 607.7 455 606.1 454.8 604.5 454.6 603 454.5 601.4 454.3 599.9 454.1 598.3 454 597.4 453.8 596.7 453.8 595.2 453.6 593.6 453.4 592.1 453.3 590.5 453.1 588.9 452.9 587.6 452.7 587.4 452.7 585.8 452.5 584.3 452.4 582.7 452.2 581.1 452 579.6 451.8 578 451.6 577.9 451.6 576.5 451.5 574.9 451.3 573.3 451.1 571.8 451 570.2 450.8 568.7 450.6 568.2 450.5 567.1 450.4 565.5 450.2 564 450.1 562.4 449.9 560.9 449.7 559.3 449.5 558.5 449.4 557.7 449.3 556.2 449.2 554.6 449 553.1 448.8 551.5 448.6 549.9 448.4 548.8 448.3 548.4 448.3 546.8 448.1 545.3 447.9 543.7 447.7 542.1 447.6 540.6 447.4 539.1 447.2 539 447.2 537.4 447 535.9 446.8 534.3 446.7 532.8 446.5 531.2 446.3 529.6 446.1 529.4 446.1 528.1 445.9 526.5 445.8 525 445.6 523.4 445.4 521.8 445.3 520.3 445.1 519.6 445 518.7 444.9 517.2 444.7 515.6 444.5 514 444.4 512.5 444.2 510.9 444 509.9 443.9 509.4 443.8 507.8 443.6 506.2 443.5 504.7 443.3 503.1 443.1 501.6 442.9 500.2 442.8 500 442.7 498.4 442.6 496.9 442.4 495.3 442.2 493.8 442.1 492.2 441.9 490.6 441.7 490.5 441.7 489.1 441.5 487.5 441.3 486 441.2 484.4 441 482.8 440.8 481.3 440.6 480.8 440.5 479.7 440.4 478.2 440.3 476.6 440.1 475 439.9 473.5 439.7 471.9 439.5 471.2 439.4 470.4 439.3 468.8 439.2 467.2 439 465.7 438.8 464.1 438.7 462.6 438.5 461.4 438.3 461 438.3 459.4 438.1 457.9 437.9 456.3 437.8 454.7 437.6 453.2 437.4 451.6 437.2 451.6 437.2 450.1 437.1 448.5 436.9 446.9 436.7 445.4 436.5 443.8 436.4 442.3 436.2 441.9 436.1 440.7 436 439.1 435.8 437.6 435.6 436 435.5 434.5 435.3 432.9 435.1 432.2 435 431.3 434.9 429.8 434.7 428.2 434.6 426.7 434.4 425.1 434.2 423.5 434 422.5 433.9 422 433.8 420.4 433.7 418.9 433.5 417.3 433.3 415.7 433.1 414.2 433 412.8 432.8 412.6 432.8 411.1 432.6 409.5 432.4 407.9 432.3 406.4 432.1 404.8 431.9 403.3 431.7 403.1 431.7 401.7 431.5 400.1 431.4 398.6 431.2 397 431 395.5 430.8 393.9 430.6 393.4 430.6 392.3 430.5 390.8 430.3 389.2 430.1 387.7 429.9 386.1 429.8 384.5 429.6 383.6 429.5 383 429.4 381.4 429.2 379.9 429.1 378.3 428.9 376.7 428.7 375.2 428.5 373.9 428.4 373.6 428.3 372 428.2 370.5 428 368.9 427.8 367.4 427.6 365.8 427.4 364.2 427.3 364.2 427.2 362.7 427.1 361.1 426.9 359.6 426.7 358 426.6 356.4 426.4 354.9 426.2 354.5 426.1 353.3 426 351.8 425.8 350.2 425.7 348.6 425.5 347.1 425.3 345.5 425.1 344.8 425 344 424.9 342.4 424.8 340.8 424.6 339.3 424.4 337.7 424.2 336.2 424.1 335.1 423.9 334.6 423.9 333 423.7 331.5 423.5 329.9 423.4 328.4 423.2 326.8 423 325.3 422.8 325.2 422.8 323.7 422.6 322.1 422.5 320.6 422.3 319 422.1 317.4 421.9 315.9 421.8 315.4 421.7 314.3 421.6 312.8 421.4 311.2 421.3 309.6 421.1 308.1 420.9 306.5 420.8 305 420.6 304.8 420.6 303.4 420.5 301.8 420.3 300.3 420.2 298.7 420.1 297.1 419.9 295.6 419.8 294 419.7 292.5 419.5 292.1 419.5 290.9 419.4 289.3 419.2 287.8 419.1 286.2 419 284.7 418.8 283.1 418.7 281.5 418.5 280.6 418.4 280 418.3 278.4 418.2 276.9 418.1M278.4 423.9 278.7 423.9 280 424 281.5 424.2 283.1 424.3 284.7 424.5 286.2 424.6 287.8 424.7 289.3 424.9 290.8 425 290.9 425 292.5 425.2 294 425.3 295.6 425.4 297.1 425.5 298.7 425.7 300.3 425.8 301.8 426 303.4 426.1 303.5 426.1 305 426.3 306.5 426.4 308.1 426.6 309.6 426.7 311.2 426.9 312.8 427.1 314.3 427.2 314.3 427.2 315.9 427.4 317.4 427.6 319 427.7 320.6 427.9 322.1 428.1 323.7 428.3 324.2 428.4 325.2 428.5 326.8 428.6 328.4 428.8 329.9 429 331.5 429.2 333 429.3 333.9 429.5 334.6 429.5 336.2 429.7 337.7 429.9 339.3 430 340.8 430.2 342.4 430.4 343.6 430.6 344 430.6 345.5 430.8 347.1 430.9 348.6 431.1 350.2 431.3 351.8 431.5 353.3 431.7 353.4 431.7 354.9 431.8 356.4 432 358 432.2 359.6 432.4 361.1 432.5 362.7 432.7 363.1 432.8 364.2 432.9 365.8 433.1 367.4 433.3 368.9 433.4 370.5 433.6 372 433.8 372.8 433.9 373.6 434 375.2 434.2 376.7 434.3 378.3 434.5 379.9 434.7 381.4 434.9 382.5 435 383 435.1 384.5 435.2 386.1 435.4 387.7 435.6 389.2 435.7 390.8 435.9 392.2 436.1 392.3 436.1 393.9 436.3 395.5 436.5 397 436.6 398.6 436.8 400.1 437 401.7 437.2 401.9 437.2 403.3 437.4 404.8 437.5 406.4 437.7 407.9 437.9 409.5 438.1 411.1 438.3 411.7 438.3 412.6 438.4 414.2 438.6 415.7 438.8 417.3 438.9 418.9 439.1 420.4 439.3 421.4 439.4 422 439.5 423.5 439.7 425.1 439.8 426.7 440 428.2 440.2 429.8 440.4 431.1 440.5 431.3 440.6 432.9 440.7 434.5 440.9 436 441.1 437.6 441.3 439.1 441.4 440.7 441.6 440.8 441.7 442.3 441.8 443.8 442 445.4 442.1 446.9 442.3 448.5 442.5 450.1 442.7 450.6 442.8 451.6 442.9 453.2 443 454.7 443.2 456.3 443.4 457.9 443.6 459.4 443.8 460.4 443.9 461 443.9 462.6 444.1 464.1 444.3 465.7 444.5 467.2 444.6 468.8 444.8 470 445 470.4 445 471.9 445.2 473.5 445.4 475 445.5 476.6 445.7 478.2 445.9 479.6 446.1 479.7 446.1 481.3 446.3 482.8 446.4 484.4 446.6 486 446.8 487.5 447 489.1 447.2 489.4 447.2 490.6 447.3 492.2 447.5 493.8 447.7 495.3 447.8 496.9 448 498.4 448.2 499.1 448.3 500 448.4 501.6 448.6 503.1 448.7 504.7 448.9 506.2 449.1 507.8 449.3 508.8 449.4 509.4 449.5 510.9 449.6 512.5 449.8 514 450 515.6 450.2 517.2 450.4 518.5 450.5 518.7 450.5 520.3 450.7 521.8 450.9 523.4 451.1 525 451.2 526.5 451.4 528.1 451.6 528.2 451.6 529.6 451.8 531.2 452 532.8 452.1 534.3 452.3 535.9 452.5 537.4 452.7 537.9 452.7 539 452.9 540.6 453 542.1 453.2 543.7 453.4 545.3 453.5 546.8 453.7 547.7 453.8 548.4 453.9 549.9 454.1 551.5 454.3 553.1 454.4 554.6 454.6 556.2 454.8 557.4 455 557.7 455 559.3 455.2 560.9 455.3 562.4 455.5 564 455.7 565.5 455.9 567.1 456.1 567.1 456.1 568.7 456.2 570.2 456.4 571.8 456.6 573.3 456.7 574.9 456.9 576.5 457.1 576.8 457.2 578 457.3 579.6 457.5 581.1 457.6 582.7 457.8 584.3 458 585.8 458.2 586.5 458.3 587.4 458.4 588.9 458.5 590.5 458.7 592.1 458.9 593.6 459.1 595.2 459.3 596.3 459.4 596.7 459.4 598.3 459.6 599.9 459.8 601.4 459.9 603 460.1 604.5 460.3 606.1 460.5 606.4 460.5 607.7 460.6 609.2 460.8 610.8 460.9 612.3 461.1 613.9 461.2 615.5 461.4 617 461.5 617.9 461.6 618.6 461.7 620.2 461.8 621.7 461.9 623.3 462 624.8 462.1 626.4 462.2 628 462.4 629.5 462.6 631.1 462.7 631.4 462.7 632.6 462.8 634.2 462.9 635.8 463.1M459.4 391 461 391 462.6 390.9 464.1 390.9 465.7 390.8 466.8 390.7 467.2 390.6 468.8 390.5M479.7 383.6 478.2 383.8 476.7 384 476.6 384 475 384.3 473.5 384.5 471.9 384.6 470.4 384.8 468.8 384.9 467.2 385 465.7 385.1 464.1 385.1 463.8 385.1 462.6 385.2 461 385.2 459.4 385.2 457.9 385.2 456.3 385.2 454.7 385.2 453.8 385.1 453.2 385.1 451.6 385 450.1 385 448.5 384.9 446.9 384.7 445.4 384.6 443.8 384.4 442.3 384.2 440.9 384 440.7 384 439.1 383.8 437.6 383.6 436 383.3 434.5 383.1M629.5 457.6 628 457.4 626.4 457.2 626 457.2 624.8 457.1 623.3 457 621.7 456.9 620.2 456.7 618.6 456.6 617 456.5 615.5 456.3 613.9 456.2 613.1 456.1 612.3 456 610.8 455.9 609.2 455.7 607.7 455.6 606.1 455.4 604.5 455.2 603 455.1 602.2 455 601.4 454.9 599.9 454.7 598.3 454.6 596.7 454.4 595.2 454.2 593.6 454 592.3 453.8 592.1 453.8 590.5 453.7 588.9 453.5 587.4 453.3 585.8 453.2 584.3 453 582.7 452.8 582.5 452.7 581.1 452.6 579.6 452.4 578 452.3 576.5 452.1 574.9 451.9 573.3 451.7 572.8 451.6 571.8 451.5 570.2 451.4 568.7 451.2 567.1 451 565.5 450.8 564 450.6 563.1 450.5 562.4 450.4 560.9 450.3 559.3 450.1 557.7 450 556.2 449.8 554.6 449.6 553.4 449.4 553.1 449.4 551.5 449.2 549.9 449.1 548.4 448.9 546.8 448.7 545.3 448.5 543.7 448.3 543.7 448.3 542.1 448.1 540.6 448 539 447.8 537.4 447.6 535.9 447.5 534.3 447.2 534 447.2 532.8 447.1 531.2 446.9 529.6 446.7 528.1 446.6 526.5 446.4 525 446.2 524.2 446.1 523.4 446 521.8 445.8 520.3 445.7 518.7 445.5 517.2 445.3 515.6 445.1 514.5 445 514 444.9 512.5 444.8 510.9 444.6 509.4 444.4 507.8 444.3 506.2 444.1 504.8 443.9 504.7 443.9 503.1 443.7 501.6 443.5 500 443.4 498.4 443.2 496.9 443 495.3 442.8 495.1 442.8 493.8 442.6 492.2 442.5 490.6 442.3 489.1 442.1 487.5 441.9 486 441.7 485.3 441.7 484.4 441.6 482.8 441.4 481.3 441.2 479.7 441.1 478.2 440.9 476.6 440.7 475.7 440.5 475 440.5 473.5 440.3 471.9 440.1 470.4 440 468.8 439.8 467.2 439.6 466.1 439.4 465.7 439.4 464.1 439.2 462.6 439.1 461 438.9 459.4 438.7 457.9 438.5 456.3 438.3 456.3 438.3 454.7 438.2 453.2 438 451.6 437.8 450.1 437.7 448.5 437.5 446.9 437.3 446.5 437.2 445.4 437.1 443.8 436.9 442.3 436.8 440.7 436.6 439.1 436.4 437.6 436.2 436.8 436.1 436 436 434.5 435.9 432.9 435.7 431.3 435.5 429.8 435.3 428.2 435.2 427.1 435 426.7 435 425.1 434.8 423.5 434.6 422 434.5 420.4 434.3 418.9 434.1 417.4 433.9 417.3 433.9 415.7 433.7 414.2 433.6 412.6 433.4 411.1 433.2 409.5 433 407.9 432.8 407.7 432.8 406.4 432.7 404.8 432.5 403.3 432.3 401.7 432.2 400.1 432 398.6 431.8 397.9 431.7 397 431.6 395.5 431.4 393.9 431.3 392.3 431.1 390.8 430.9 389.2 430.7 388.2 430.6 387.7 430.5 386.1 430.3 384.5 430.2 383 430 381.4 429.8 379.9 429.6 378.5 429.5 378.3 429.4 376.7 429.3 375.2 429.1 373.6 428.9 372 428.8 370.5 428.6 368.9 428.4 368.8 428.4 367.4 428.2 365.8 428 364.2 427.9 362.7 427.7 361.1 427.5 359.6 427.3 359.1 427.2 358 427.1 356.4 427 354.9 426.8 353.3 426.6 351.8 426.4 350.2 426.3 349.4 426.1 348.6 426.1 347.1 425.9 345.5 425.7 344 425.6 342.4 425.4 340.8 425.2 339.7 425 339.3 425 337.7 424.8 336.2 424.7 334.6 424.5 333 424.3 331.5 424.1 330 423.9 329.9 423.9 328.4 423.8 326.8 423.6 325.2 423.4 323.7 423.3 322.1 423.1 320.6 422.9 320.2 422.8 319 422.7 317.4 422.5 315.9 422.4 314.3 422.2 312.8 422 311.2 421.9 309.9 421.7 309.6 421.7 308.1 421.5 306.5 421.4 305 421.3 303.4 421.1 301.8 421 300.3 420.8 298.7 420.7 298 420.6 297.1 420.5 295.6 420.4 294 420.3M284.7 423.9 285.1 423.9 286.2 424 287.8 424.2 289.3 424.3 290.9 424.4 292.5 424.6 294 424.7 295.6 424.9 297.1 425 297.2 425 298.7 425.1 300.3 425.3 301.8 425.4 303.4 425.5 305 425.7 306.5 425.8 308.1 426 309.2 426.1 309.6 426.2 311.2 426.3 312.8 426.5 314.3 426.6 315.9 426.8 317.4 427 319 427.2 319.6 427.2 320.6 427.3 322.1 427.5 323.7 427.7 325.2 427.8 326.8 428 328.4 428.2 329.3 428.4 329.9 428.4 331.5 428.6 333 428.7 334.6 428.9 336.2 429.1 337.7 429.3 339 429.5 339.3 429.5 340.8 429.6 342.4 429.8 344 430 345.5 430.2 347.1 430.3 348.6 430.6 348.8 430.6 350.2 430.7 351.8 430.9 353.3 431 354.9 431.2 356.4 431.4 358 431.6 358.5 431.7 359.6 431.8 361.1 432 362.7 432.1 364.2 432.3 365.8 432.5 367.4 432.7 368.2 432.8 368.9 432.9 370.5 433 372 433.2 373.6 433.4 375.2 433.5 376.7 433.7 377.9 433.9 378.3 433.9 379.9 434.1 381.4 434.3 383 434.4 384.5 434.6 386.1 434.8 387.6 435 387.7 435 389.2 435.2 390.8 435.3 392.3 435.5 393.9 435.7 395.5 435.9 397 436.1 397.3 436.1 398.6 436.2 400.1 436.4 401.7 436.6 403.3 436.7 404.8 436.9 406.4 437.1 407.1 437.2 407.9 437.3 409.5 437.5 411.1 437.6 412.6 437.8 414.2 438 415.7 438.2 416.8 438.3 417.3 438.4 418.9 438.5 420.4 438.7 422 438.9 423.5 439.1 425.1 439.2 426.5 439.4 426.7 439.5 428.2 439.6 429.8 439.8 431.3 439.9 432.9 440.1 434.5 440.3 436 440.5 436.2 440.5 437.6 440.7 439.1 440.9 440.7 441 442.3 441.2 443.8 441.4 445.4 441.6 445.9 441.7 446.9 441.8 448.5 441.9 450.1 442.1 451.6 442.3 453.2 442.4 454.7 442.6 455.7 442.8 456.3 442.8 457.9 443 459.4 443.1 461 443.3 462.6 443.5 464.1 443.7 465.5 443.9 465.7 443.9 467.2 444 468.8 444.2 470.4 444.4 471.9 444.6 473.5 444.8 475 445 475.1 445 476.6 445.1 478.2 445.3 479.7 445.5 481.3 445.7 482.8 445.8 484.4 446 484.7 446.1 486 446.2 487.5 446.4 489.1 446.5 490.6 446.7 492.2 446.9 493.8 447.1 494.5 447.2 495.3 447.3 496.9 447.4 498.4 447.6 500 447.8 501.6 448 503.1 448.2 504.2 448.3 504.7 448.4 506.2 448.5 507.8 448.7 509.4 448.8 510.9 449 512.5 449.2 513.9 449.4 514 449.4 515.6 449.6 517.2 449.7 518.7 449.9 520.3 450.1 521.8 450.3 523.4 450.5 523.6 450.5 525 450.7 526.5 450.8 528.1 451 529.6 451.2 531.2 451.3 532.8 451.5 533.3 451.6 534.3 451.7 535.9 451.9 537.4 452.1 539 452.2 540.6 452.4 542.1 452.6 543.1 452.7 543.7 452.8 545.3 453 546.8 453.1 548.4 453.3 549.9 453.5 551.5 453.7 552.8 453.8 553.1 453.9 554.6 454 556.2 454.2 557.7 454.4 559.3 454.5 560.9 454.7 562.4 454.9 562.5 455 564 455.1 565.5 455.3 567.1 455.4 568.7 455.6 570.2 455.8 571.8 456 572.2 456.1 573.3 456.2 574.9 456.3 576.5 456.5 578 456.7 579.6 456.9 581.1 457.1 581.9 457.2 582.7 457.3 584.3 457.4 585.8 457.6 587.4 457.7 588.9 457.9 590.5 458.1 591.6 458.3 592.1 458.3 593.6 458.5 595.2 458.6 596.7 458.8 598.3 459 599.9 459.2 601.4 459.4 601.5 459.4 603 459.5 604.5 459.7 606.1 459.8 607.7 460 609.2 460.1 610.8 460.3 612.3 460.5 612.4 460.5 613.9 460.6 615.5 460.8 617 460.9 618.6 461 620.2 461.1M472.6 385.1 471.9 385.2 470.4 385.4 468.8 385.5 467.2 385.6 465.7 385.7 464.1 385.7 462.6 385.8 461 385.8 459.4 385.8 457.9 385.8 456.3 385.8 454.7 385.8 453.2 385.7 451.6 385.7 450.1 385.6 448.5 385.5 446.9 385.3 445.4 385.2 445 385.1 443.8 385"/>
</g>
<path d="M336.2 474.9V470.9 M336.2 191.2V195.2 M414.2 474.9V470.9 M414.2 191.2V195.2 M492.2 474.9V470.9 M492.2 191.2V195.2 M570.2 474.9V470.9 M570.2 191.2V195.2 M648.2 474.9V470.9 M648.2 191.2V195.2 M259.7 446.5H263.7 M657.6 446.5H653.6 M259.7 418.2H263.7 M657.6 418.2H653.6 M259.7 389.8H263.7 M657.6 389.8H653.6 M259.7 361.4H263.7 M657.6 361.4H653.6 M259.7 333H263.7 M657.6 333H653.6 M259.7 304.7H263.7 M657.6 304.7H653.6 M259.7 276.3H263.7 M657.6 276.3H653.6 M259.7 247.9H263.7 M657.6 247.9H653.6 M259.7 219.6H263.7 M657.6 219.6H653.6" stroke="#000" stroke-width="0.65" fill="none"/>
<rect x="259.7" y="191.2" width="397.9" height="283.7" fill="none" stroke="#000" stroke-width="0.65"/>
<clipPath id="cl"><rect x="43.7" y="191.3" width="157.7" height="283.5"/></clipPath>
<polyline clip-path="url(#cl)" fill="none" stroke="#000" stroke-width="0.6" stroke-linejoin="round" points="205.6,474.8 205.9,473.7 204.6,472.6 204.9,471.5 202.9,470.4 203.1,469.3 199.8,468.2 199.8,467 194.1,465.9 193.2,464.8 183.1,463.7 180.4,462.6 163.4,461.5 157.2,460.4 132.9,459.3 121.8,458.2 99,457.1 85.4,456 85.5,454.9 79.4,453.8 109.8,452.7 118.5,451.5 130.5,450.4 135.9,449.3 106.3,448.2 93.6,447.1 112.2,446 117,444.9 119.1,443.8 119.1,442.7 109,441.6 103.9,440.5 116.6,439.4 119.4,438.3 117.1,437.1 116.4,436 103.2,434.9 93.8,433.8 124.7,432.7 136.8,431.6 121.5,430.5 117,429.4 93.7,428.3 77.9,427.2 90.3,426.1 86.2,425 116,423.9 124,422.8 148.3,421.6 159.4,420.5 172.9,419.4 182.1,418.3 188,417.2 194.3,416.1 196.3,415 200.5,413.9 200.8,412.8 203.6,411.7 203.3,410.6 205.2,409.5 204.6,408.4 206.1,407.2 205.6,406.1 206.7,405 205.8,403.9 206.8,402.8 206.8,401.7 207.3,400.6 205.3,399.5 206,398.4 207.2,397.3 205.6,396.2 198.2,395.1 195.7,394 195.4,392.9 182.8,391.7 156.8,390.6 141.7,389.5 133.4,388.4 105.9,387.3 71.1,386.2 71.2,385.1 96.2,384 115,382.9 139.7,381.8 182,380.7 206.8,379.6 201.9,378.5 182,377.3 148,376.2 119.6,375.1 135.9,374 177.1,372.9 203.2,371.8 205.8,370.7 179.6,369.6 141.1,368.5 142.2,367.4 178.4,366.3 204.6,365.2 203.4,364.1 172.7,363 143.4,361.8 163.5,360.7 201.1,359.6 204.3,358.5 179.5,357.4 156.8,356.3 169,355.2 203.6,354.1 196.8,353 164.6,351.9 166.1,350.8 194.1,349.7 207.4,348.6 181.3,347.4 156.1,346.3 184.4,345.2 207.6,344.1 183.1,343 167.3,341.9 188.1,340.8 207.8,339.7 185,338.6 161,337.5 191.5,336.4 205.1,335.3 174.4,334.2 175,333.1 203.4,331.9 200.1,330.8 171.3,329.7 181.8,328.6 207.8,327.5 178.9,326.4 170.1,325.3 204.3,324.2 195.5,323.1 174.1,322 194.2,320.9 206.2,319.8 177.4,318.7 180.5,317.5 207.8,316.4 178.6,315.3 176.2,314.2 207.5,313.1 185.7,312 179.6,310.9 206.3,309.8 193.4,308.7 177.9,307.6 203.9,306.5 193.5,305.4 172.4,304.3 204.8,303.1 187.9,302 175.4,300.9 207.3,299.8 185.7,298.7 184.4,297.6 207.8,296.5 186.6,295.4 188.6,294.3 207.5,293.2 181.5,292.1 191.5,291 203.8,289.9 172.9,288.8 201.4,287.6 191.3,286.5 177.9,285.4 207.8,284.3 181.2,283.2 193.8,282.1 203.5,281 182.2,279.9 204.4,278.8 195.5,277.7 186.8,276.6 207.8,275.5 183.7,274.4 196.5,273.2 199.3,272.1 177.9,271 207.8,269.9 178,268.8 196.1,267.7 195,266.6 179.8,265.5 207.4,264.4 178.2,263.3 203.2,262.2 191.8,261.1 190.9,260 205.3,258.9 185.5,257.7 206.8,256.6 191.9,255.5 197.7,254.4 202.7,253.3 188,252.2 207.8,251.1 186,250 203,248.9 192.2,247.8 191.7,246.7 201.4,245.6 180.8,244.5 207.3,243.3 175.7,242.2 206.7,241.1 177.9,240 200.4,238.9 185.2,237.8 191.5,236.7 194.2,235.6 183.4,234.5 201.8,233.4 178.5,232.3 206.4,231.2 177.5,230.1 207.8,229 179.7,227.8 206.8,226.7 184,225.6 204.4,224.5 189.3,223.4 201.8,222.3 194.4,221.2 199.5,220.1 198.8,219 198,217.9 202.2,216.8 197.3,215.7 204.6,214.6 197.4,213.4 206.2,212.3 197.9,211.2 207.2,210.1 198.8,209 207.6,207.9 199.9,206.8 207.8,205.7 200.9,204.6 207.8,203.5 202,202.4 207.8,201.3 202.9,200.2 207.7,199.1 203.8,197.9 207.6,196.8 204.5,195.7 207.5,194.6 205.1,193.5 207.4,192.4"/>
<path d="M178.5 474.8V471.9 M178.5 191.3V194.2 M149.2 474.8V471.9 M149.2 191.3V194.2 M119.8 474.8V471.9 M119.8 191.3V194.2 M90.5 474.8V471.9 M90.5 191.3V194.2 M61.1 474.8V471.9 M61.1 191.3V194.2 M43.7 446.4H46.6 M201.4 446.4H198.5 M43.7 418.1H46.6 M201.4 418.1H198.5 M43.7 389.8H46.6 M201.4 389.8H198.5 M43.7 361.4H46.6 M201.4 361.4H198.5 M43.7 333.1H46.6 M201.4 333.1H198.5 M43.7 304.7H46.6 M201.4 304.7H198.5 M43.7 276.4H46.6 M201.4 276.4H198.5 M43.7 248H46.6 M201.4 248H198.5 M43.7 219.7H46.6 M201.4 219.7H198.5" stroke="#000" stroke-width="0.65" fill="none"/>
<rect x="43.7" y="191.3" width="157.7" height="283.5" fill="none" stroke="#000" stroke-width="0.65"/>
<g font-family="Liberation Sans, sans-serif" fill="#000" stroke="#000" stroke-width="0.28" opacity="0.999">
<text x="459.6" y="35.7" text-anchor="middle" font-size="15.35">Signal in time</text>
<text x="122.6" y="180.4" text-anchor="middle" font-size="15.35">Linear scale</text>
<text x="458.6" y="180" text-anchor="middle" font-size="15.35">SPWVD of a two component signal with different FMs</text>
<text x="459.6" y="507.3" text-anchor="middle" font-size="15.15">Time [s]</text>
<text transform="translate(245.6 98.7) rotate(-90)" text-anchor="middle" font-size="15.15">Real part</text>
<text transform="translate(34 333) rotate(-90)" text-anchor="middle" font-size="15.15">Energy spectral density</text>
<text transform="translate(226.7 332) rotate(-90)" text-anchor="middle" font-size="15.15">Frequency [Hz]</text>
<text x="258.2" y="76.9" text-anchor="end" font-size="12.1">1</text>
<text x="258.2" y="102.7" text-anchor="end" font-size="12.1">0</text>
<text x="258.2" y="128.5" text-anchor="end" font-size="12.1">&#8722;1</text>
<text x="257.3" y="479.6" text-anchor="end" font-size="12.1">0</text>
<text x="257.3" y="451.3" text-anchor="end" font-size="12.1">0.05</text>
<text x="257.3" y="422.9" text-anchor="end" font-size="12.1">0.1</text>
<text x="257.3" y="394.5" text-anchor="end" font-size="12.1">0.15</text>
<text x="257.3" y="366.2" text-anchor="end" font-size="12.1">0.2</text>
<text x="257.3" y="337.8" text-anchor="end" font-size="12.1">0.25</text>
<text x="257.3" y="309.4" text-anchor="end" font-size="12.1">0.3</text>
<text x="257.3" y="281" text-anchor="end" font-size="12.1">0.35</text>
<text x="257.3" y="252.7" text-anchor="end" font-size="12.1">0.4</text>
<text x="257.3" y="224.3" text-anchor="end" font-size="12.1">0.45</text>
<text x="257.3" y="195.9" text-anchor="end" font-size="12.1">0.5</text>
<text x="336.5" y="488.5" text-anchor="middle" font-size="12.1">50</text>
<text x="414.5" y="488.5" text-anchor="middle" font-size="12.1">100</text>
<text x="492.5" y="488.5" text-anchor="middle" font-size="12.1">150</text>
<text x="570.5" y="488.5" text-anchor="middle" font-size="12.1">200</text>
<text x="648.5" y="488.5" text-anchor="middle" font-size="12.1">250</text>
<text x="178.7" y="488.9" text-anchor="middle" font-size="12.1">1000</text>
<text x="149.4" y="488.9" text-anchor="middle" font-size="12.1">2000</text>
<text x="120" y="488.9" text-anchor="middle" font-size="12.1">3000</text>
<text x="90.7" y="488.9" text-anchor="middle" font-size="12.1">4000</text>
<text x="61.3" y="488.9" text-anchor="middle" font-size="12.1">5000</text>
</g>
</svg>
</body></html>
